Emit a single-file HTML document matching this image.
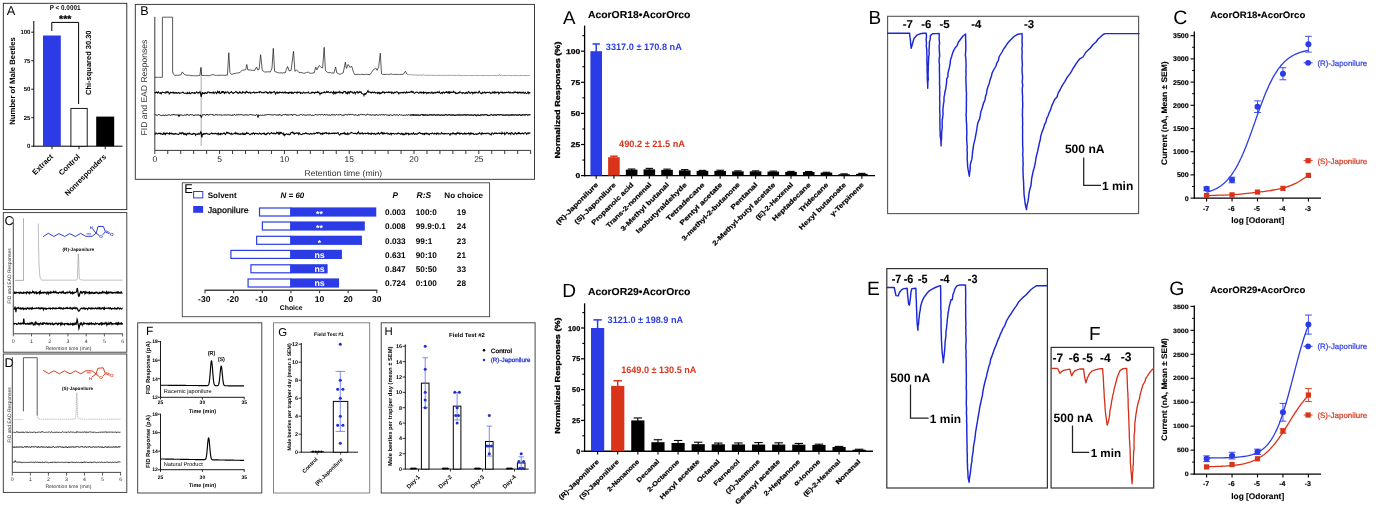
<!DOCTYPE html>
<html><head><meta charset="utf-8"><title>Figure</title>
<style>
html,body{margin:0;padding:0;background:#fff;}
body{width:1376px;height:508px;overflow:hidden;font-family:"Liberation Sans", sans-serif;}
svg{display:block;font-family:"Liberation Sans", sans-serif;will-change:transform;filter:blur(0.4px);text-rendering:geometricPrecision;}
</style></head><body>
<svg width="1376" height="508" viewBox="0 0 1376 508">
<rect width="1376" height="508" fill="#fff"/>
<rect x="3.3" y="3.3" width="123.5" height="206.3" fill="none" stroke="#222" stroke-width="0.9" />
<text x="6.8" y="15.2" font-size="12.8" >A</text>
<text x="65.1" y="10.3" font-size="7" font-weight="bold" text-anchor="middle" textLength="30.7" lengthAdjust="spacingAndGlyphs" >P &lt; 0.0001</text>
<text x="65.2" y="22.2" font-size="9.6" font-weight="bold" text-anchor="middle" textLength="12.2" lengthAdjust="spacingAndGlyphs" stroke="#000" stroke-width="0.3" >***</text>
<path d="M51.8 31 V22.4 H78.6 V104" fill="none" stroke="#000" stroke-width="1" />
<text font-size="7.49" font-weight="bold" text-anchor="middle" textLength="64.5" lengthAdjust="spacingAndGlyphs" transform="translate(90.6 62.7) rotate(-90)" >Chi-squared 30.30</text>
<line x1="33.8" y1="21" x2="33.8" y2="146.7" stroke="#000" stroke-width="1" />
<line x1="33.3" y1="146.2" x2="122.5" y2="146.2" stroke="#000" stroke-width="1" />
<line x1="31.2" y1="146.2" x2="33.8" y2="146.2" stroke="#000" stroke-width="0.9" />
<text x="30.4" y="148.35" font-size="6" font-weight="bold" text-anchor="end" >0</text>
<line x1="31.2" y1="117.7" x2="33.8" y2="117.7" stroke="#000" stroke-width="0.9" />
<text x="30.4" y="119.85" font-size="6" font-weight="bold" text-anchor="end" >25</text>
<line x1="31.2" y1="89.2" x2="33.8" y2="89.2" stroke="#000" stroke-width="0.9" />
<text x="30.4" y="91.35" font-size="6" font-weight="bold" text-anchor="end" >50</text>
<line x1="31.2" y1="60.7" x2="33.8" y2="60.7" stroke="#000" stroke-width="0.9" />
<text x="30.4" y="62.85" font-size="6" font-weight="bold" text-anchor="end" >75</text>
<line x1="31.2" y1="32.2" x2="33.8" y2="32.2" stroke="#000" stroke-width="0.9" />
<text x="30.4" y="34.35" font-size="6" font-weight="bold" text-anchor="end" >100</text>
<rect x="43" y="35.5" width="17.8" height="110.7" fill="#2b3ce6" stroke="none" stroke-width="1" />
<rect x="70.9" y="108.4" width="16.3" height="37.8" fill="#fff" stroke="#000" stroke-width="0.9" />
<rect x="96.2" y="116.6" width="18" height="29.6" fill="#000" stroke="none" stroke-width="1" />
<line x1="52" y1="146.2" x2="52" y2="149.2" stroke="#000" stroke-width="0.9" />
<line x1="79" y1="146.2" x2="79" y2="149.2" stroke="#000" stroke-width="0.9" />
<line x1="105.2" y1="146.2" x2="105.2" y2="149.2" stroke="#000" stroke-width="0.9" />
<text font-size="7.52" font-weight="bold" text-anchor="end" textLength="25.5" lengthAdjust="spacingAndGlyphs" transform="translate(53.4 157.2) rotate(-45)" >Extract</text>
<text font-size="7.43" font-weight="bold" text-anchor="end" textLength="26.4" lengthAdjust="spacingAndGlyphs" transform="translate(80.4 157.2) rotate(-45)" >Control</text>
<text font-size="7.46" font-weight="bold" text-anchor="end" textLength="55.1" lengthAdjust="spacingAndGlyphs" transform="translate(106.6 157.2) rotate(-45)" >Nonresponders</text>
<text font-size="7.72" font-weight="bold" text-anchor="middle" textLength="87.5" lengthAdjust="spacingAndGlyphs" transform="translate(15.2 81) rotate(-90)" >Number of Male Beetles</text>
<rect x="135.3" y="4.4" width="399.2" height="174.9" fill="none" stroke="#333" stroke-width="0.95" />
<text x="140.2" y="15.4" font-size="12.6" >B</text>
<line x1="154.8" y1="16.8" x2="154.8" y2="150.4" stroke="#222" stroke-width="0.9" />
<line x1="154.8" y1="150.4" x2="530.6" y2="150.4" stroke="#222" stroke-width="0.9" />
<line x1="154.8" y1="150.4" x2="154.8" y2="154" stroke="#222" stroke-width="0.9" />
<line x1="167.76" y1="150.4" x2="167.76" y2="154" stroke="#222" stroke-width="0.9" />
<line x1="180.72" y1="150.4" x2="180.72" y2="154" stroke="#222" stroke-width="0.9" />
<line x1="193.68" y1="150.4" x2="193.68" y2="154" stroke="#222" stroke-width="0.9" />
<line x1="206.64" y1="150.4" x2="206.64" y2="154" stroke="#222" stroke-width="0.9" />
<line x1="219.6" y1="150.4" x2="219.6" y2="154" stroke="#222" stroke-width="0.9" />
<line x1="232.56" y1="150.4" x2="232.56" y2="154" stroke="#222" stroke-width="0.9" />
<line x1="245.52" y1="150.4" x2="245.52" y2="154" stroke="#222" stroke-width="0.9" />
<line x1="258.48" y1="150.4" x2="258.48" y2="154" stroke="#222" stroke-width="0.9" />
<line x1="271.44" y1="150.4" x2="271.44" y2="154" stroke="#222" stroke-width="0.9" />
<line x1="284.4" y1="150.4" x2="284.4" y2="154" stroke="#222" stroke-width="0.9" />
<line x1="297.36" y1="150.4" x2="297.36" y2="154" stroke="#222" stroke-width="0.9" />
<line x1="310.32" y1="150.4" x2="310.32" y2="154" stroke="#222" stroke-width="0.9" />
<line x1="323.28" y1="150.4" x2="323.28" y2="154" stroke="#222" stroke-width="0.9" />
<line x1="336.24" y1="150.4" x2="336.24" y2="154" stroke="#222" stroke-width="0.9" />
<line x1="349.2" y1="150.4" x2="349.2" y2="154" stroke="#222" stroke-width="0.9" />
<line x1="362.16" y1="150.4" x2="362.16" y2="154" stroke="#222" stroke-width="0.9" />
<line x1="375.12" y1="150.4" x2="375.12" y2="154" stroke="#222" stroke-width="0.9" />
<line x1="388.08" y1="150.4" x2="388.08" y2="154" stroke="#222" stroke-width="0.9" />
<line x1="401.04" y1="150.4" x2="401.04" y2="154" stroke="#222" stroke-width="0.9" />
<line x1="414" y1="150.4" x2="414" y2="154" stroke="#222" stroke-width="0.9" />
<line x1="426.96" y1="150.4" x2="426.96" y2="154" stroke="#222" stroke-width="0.9" />
<line x1="439.92" y1="150.4" x2="439.92" y2="154" stroke="#222" stroke-width="0.9" />
<line x1="452.88" y1="150.4" x2="452.88" y2="154" stroke="#222" stroke-width="0.9" />
<line x1="465.84" y1="150.4" x2="465.84" y2="154" stroke="#222" stroke-width="0.9" />
<line x1="478.8" y1="150.4" x2="478.8" y2="154" stroke="#222" stroke-width="0.9" />
<line x1="491.76" y1="150.4" x2="491.76" y2="154" stroke="#222" stroke-width="0.9" />
<line x1="504.72" y1="150.4" x2="504.72" y2="154" stroke="#222" stroke-width="0.9" />
<line x1="517.68" y1="150.4" x2="517.68" y2="154" stroke="#222" stroke-width="0.9" />
<line x1="530.64" y1="150.4" x2="530.64" y2="154" stroke="#222" stroke-width="0.9" />
<text x="154.8" y="162" font-size="8.4" text-anchor="middle" fill="#222" >0</text>
<text x="219.6" y="162" font-size="8.4" text-anchor="middle" fill="#222" >5</text>
<text x="284.4" y="162" font-size="8.4" text-anchor="middle" fill="#222" >10</text>
<text x="349.2" y="162" font-size="8.4" text-anchor="middle" fill="#222" >15</text>
<text x="414" y="162" font-size="8.4" text-anchor="middle" fill="#222" >20</text>
<text x="478.8" y="162" font-size="8.4" text-anchor="middle" fill="#222" >25</text>
<text x="343.3" y="176.3" font-size="8.4" text-anchor="middle" fill="#333" textLength="77.8" lengthAdjust="spacingAndGlyphs" >Retention time  (min)</text>
<text font-size="8.5" text-anchor="middle" fill="#333" textLength="95.7" lengthAdjust="spacingAndGlyphs" transform="translate(146.8 87.6) rotate(-90)" >FID and EAD Responses</text>
<line x1="201.2" y1="67" x2="201.2" y2="146" stroke="#aaa" stroke-width="1" />
<polyline points="154.8,77.3 156.07,77.3 157.33,77.3 158.6,77.3 159.87,77.3 161.13,77.3 162.4,77.3 162.4,17.2 163.68,17.2 164.95,17.2 166.22,17.2 167.5,17.2 168.78,17.2 170.05,17.2 171.32,17.2 172.6,17.2 172.6,71 173.2,74 174.9,75.4 176.38,75.31 177.85,75.35 179.33,74.99 180.8,75 182.3,71.9 183.8,74 185.7,75 186.97,75.23 188.24,75.2 189.51,75.31 190.79,75.69 192.06,75.59 193.33,75.68 194.6,75.8 195.93,75.79 197.25,75.74 198.57,75.5 199.9,75.4 200.9,67.5 201.7,75.4 202.98,75.54 204.27,75.42 205.55,75.56 206.83,75.61 208.12,75.57 209.4,75.8 210.7,75.22 212,74.8 213.3,74.6 215.3,75.4 216.51,75.35 217.72,75.34 218.93,75.3 220.14,75.33 221.35,75.14 222.56,75.27 223.77,75.29 224.98,75.33 226.19,75.12 227.4,75.2 228.8,52.7 229.9,72.4 231.5,74.4 232.73,74.1 233.97,73.66 235.2,73.59 236.43,73.14 237.67,72.98 238.9,72.9 240.2,72.13 241.5,70.84 242.8,70.2 244.3,70 245.8,69.6 246.8,64.5 247.8,69.9 249.16,70.04 250.52,70.06 251.88,70.26 253.24,70.36 254.6,70.4 256.6,67 257.6,69.9 259.1,69.4 260.6,54.7 262.3,70.4 264.5,71.9 265.98,72.03 267.45,71.87 268.92,71.83 270.4,71.9 272,68 273.3,48.3 274.6,71.4 275.83,71.83 277.07,72.28 278.3,72.9 279.68,72.89 281.06,72.81 282.44,73.03 283.82,72.68 285.2,72.9 286.4,69.57 287.6,66.5 289.1,70.9 291.1,70.4 293.5,51.2 294.9,71.4 296.5,69.9 298.9,72.4 300.38,72.49 301.85,72.55 303.32,73.23 304.8,73.2 306.55,72.41 308.3,72.2 310.3,73.4 311.6,73.2 312.9,73 314.2,72.9 315.7,67 316.9,69.9 319.1,65.5 320.8,67 322.6,68 324.2,47.3 325.4,70.4 327.5,72.4 328.78,72.76 330.06,72.48 331.34,73.01 332.62,72.95 333.9,73.2 335.6,67 336.8,72.9 338.3,73.63 339.8,74.4 341.5,73.57 343.2,72.9 345.4,62.1 346.4,68.5 348.1,64.5 350.1,67.5 351.6,66 353.6,72.4 354.5,74.4 355.72,74.48 356.93,74.26 358.15,74.39 359.36,74.44 360.58,74.62 361.79,74.11 363.01,74.58 364.22,74.51 365.44,74.34 366.65,74.44 367.87,74.34 369.08,74.6 370.3,74.4 371.55,72.43 372.8,70.4 374.25,69.17 375.7,68 377.2,70.4 378.7,66.5 380.3,53.2 381.5,73.9 382.6,74.4 383.82,74.37 385.04,74.38 386.25,74.38 387.47,74.29 388.69,74.65 389.91,74.17 391.12,73.97 392.34,74.39 393.56,74.38 394.78,74.44 395.99,74.38 397.21,74.38 398.43,74.44 399.65,74.52 400.86,74.35 402.08,74.36 403.3,74.4 405.4,71.2 407.2,74.4" fill="none" stroke="#222" stroke-width="0.75" stroke-linejoin="round"/>
<polyline points="407.2,74.4 408.4,74.72 409.6,74.64 410.8,74.55 412,75.03 413.2,74.94 414.4,74.86 415.6,74.88 416.8,75.15 418,75.2 419.5,75.1 421,75.07 422.5,75.2 423.3,74.5 424.2,75.3 425.43,75.15 426.67,75.25 427.9,75.45 429.14,75.28 430.37,75.16 431.61,75.42 432.84,75.36 434.08,75.46 435.31,75.51 436.54,75.35 437.78,75.36 439.01,75.38 440.25,75.25 441.48,75.48 442.72,75.57 443.95,75.43 445.19,75.39 446.42,75.39 447.66,75.34 448.89,75.34 450.12,75.4 451.36,75.35 452.59,75.41 453.83,75.28 455.06,75.51 456.3,75.49 457.53,75.35 458.77,75.22 460,75.5 461.21,75.5 462.43,75.63 463.64,75.41 464.85,75.44 466.06,75.43 467.27,75.58 468.49,75.39 469.7,75.62 470.91,75.46 472.12,75.61 473.34,75.5 474.55,75.47 475.76,75.32 476.98,75.42 478.19,75.47 479.4,75.58 480.61,75.53 481.82,75.42 483.04,75.55 484.25,75.62 485.46,75.48 486.68,75.45 487.89,75.45 489.1,75.6 490.31,75.56 491.53,75.39 492.74,75.54 493.95,75.44 495.16,75.41 496.38,75.65 497.59,75.6 498.8,75.5 499.4,74.4 500,75.5 501.24,75.42 502.48,75.52 503.73,75.57 504.97,75.44 506.21,75.51 507.45,75.61 508.69,75.31 509.93,75.57 511.17,75.63 512.42,75.6 513.66,75.38 514.9,75.59 516.14,75.45 517.38,75.63 518.62,75.64 519.87,75.59 521.11,75.48 522.35,75.5 523.59,75.68 524.83,75.48 526.07,75.65 527.32,75.65 528.56,75.56 529.8,75.6" fill="none" stroke="#777" stroke-width="0.7" stroke-linejoin="round"/>
<polyline points="154.8,92.09 155.2,92.5 155.6,92.97 156,92.57 156.4,92.03 156.8,92.29 157.2,92.64 157.6,93.08 158,92.33 158.4,91.92 158.8,92.56 159.2,92.78 159.6,93.33 160,93.38 160.4,92.95 160.8,92.66 161.2,93.71 161.6,93.03 162,92.49 162.4,92.07 162.8,92.37 163.2,92.55 163.6,92.43 164,92.49 164.4,92.66 164.8,92.92 165.2,93.22 165.6,93 166,92.05 166.4,92.62 166.8,92.01 167.2,92.23 167.6,91.8 168,92.2 168.4,92.07 168.8,92.43 169.2,93.9 169.6,93.23 170,93.27 170.4,92.38 170.8,92.37 171.2,92.76 171.6,92.64 172,92.78 172.4,92.73 172.8,92.24 173.2,92.66 173.6,92.29 174,93.23 174.4,92.7 174.8,92.94 175.2,92.77 175.6,93.09 176,92.59 176.4,93.01 176.8,92.76 177.2,93.21 177.6,93.17 178,92.94 178.4,92.44 178.8,92.84 179.2,92.92 179.6,93.45 180,92.87 180.4,92.97 180.8,93 181.2,92.92 181.6,92.85 182,92.8 182.4,92.45 182.8,92.1 183.2,92.18 183.6,92.64 184,93.25 184.4,93.34 184.8,93.41 185.2,93.33 185.6,93.26 186,93.01 186.4,93.13 186.8,93.61 187.2,92.97 187.6,92.49 188,93.37 188.4,93.09 188.8,93.25 189.2,93.29 189.6,92.47 190,93.56 190.4,93.82 190.8,93.29 191.2,93.26 191.6,92.98 192,92.42 192.4,92.46 192.8,92.69 193.2,93.11 193.6,93.15 194,92.9 194.4,93.32 194.8,92.64 195.2,92.95 195.6,93.24 196,92.8 196.4,91.95 196.8,91.89 197.2,92.35 197.6,92.69 198,93.3 198.4,92.53 198.8,92.56 199.2,92.85 199.6,92.66 200,91.64 200.4,92.6 200.8,94.82 201.2,96.93 201.6,95.16 202,92.96 202.4,92.65 202.8,93.66 203.2,93.39 203.6,93.04 204,93.47 204.4,93 204.8,93.58 205.2,92.8 205.6,92.5 206,92.85 206.4,93.33 206.8,93.24 207.2,93.05 207.6,92.06 208,92.03 208.4,92.06 208.8,92.1 209.2,92.6 209.6,92.46 210,92.86 210.4,92.76 210.8,92.54 211.2,92.62 211.6,92.79 212,93.06 212.4,92.63 212.8,92.52 213.2,91.99 213.6,92.97 214,93.39 214.4,92.92 214.8,92.56 215.2,92.06 215.6,92.4 216,92.59 216.4,93.51 216.8,93.16 217.2,92.55 217.6,91.55 218,92.67 218.4,92.71 218.8,91.98 219.2,92.37 219.6,91.81 220,93.67 220.4,93.6 220.8,93.34 221.2,92.9 221.6,91.85 222,92.17 222.4,91.73 222.8,92.42 223.2,91.61 223.6,91.72 224,92.67 224.4,93.33 224.8,92.47 225.2,91.89 225.6,92.61 226,92.97 226.4,92.37 226.8,92.19 227.2,92.1 227.6,91.85 228,91.94 228.4,92.8 228.8,92.99 229.2,93.66 229.6,93.09 230,92.79 230.4,92.28 230.8,92.39 231.2,91.94 231.6,91.53 232,92.36 232.4,93.08 232.8,93.19 233.2,93.46 233.6,93.13 234,92.57 234.4,92.62 234.8,92.45 235.2,92.06 235.6,91.62 236,91.49 236.4,92.04 236.8,92.38 237.2,92.29 237.6,93.05 238,92.9 238.4,92.99 238.8,93.31 239.2,92.61 239.6,91.78 240,92.5 240.4,92.26 240.8,92.98 241.2,92.93 241.6,93.19 242,93.22 242.4,92.03 242.8,92.62 243.2,92.33 243.6,92.15 244,92.19 244.4,92.72 244.8,93.03 245.2,93.24 245.6,92.22 246,92.16 246.4,91.38 246.8,91.95 247.2,92.53 247.6,92.24 248,92.52 248.4,92.66 248.8,93.05 249.2,92.48 249.6,92.19 250,92.08 250.4,93.07 250.8,93.3 251.2,92.9 251.6,92.84 252,92.77 252.4,92.77 252.8,92.6 253.2,92.46 253.6,92 254,92.03 254.4,93.01 254.8,93.03 255.2,92.84 255.6,92.63 256,92.64 256.4,92.77 256.8,92.41 257.2,92.59 257.6,92.7 258,92.33 258.4,92.14 258.8,91.95 259.2,91.83 259.6,92.59 260,91.6 260.4,91.99 260.8,92.04 261.2,92.06 261.6,92.37 262,92.96 262.4,92.81 262.8,92.65 263.2,92.37 263.6,92.43 264,92.9 264.4,92.58 264.8,92.11 265.2,91.82 265.6,91.75 266,91.59 266.4,92.56 266.8,92.73 267.2,92.56 267.6,93.2 268,92.62 268.4,92.93 268.8,93.1 269.2,92.2 269.6,91.75 270,91.78 270.4,92.57 270.8,93.13 271.2,92.35 271.6,92.92 272,92.6 272.4,92.43 272.8,92.29 273.2,92.31 273.6,91.69 274,91.72 274.4,91.64 274.8,92.33 275.2,93.34 275.6,94.12 276,93.22 276.4,92.19 276.8,92.22 277.2,92.02 277.6,93.14 278,93.11 278.4,92.55 278.8,92.97 279.2,93.01 279.6,92.12 280,92.14 280.4,92.27 280.8,92.44 281.2,92.58 281.6,92.45 282,92.6 282.4,92.36 282.8,92.1 283.2,92.99 283.6,92.94 284,92.96 284.4,92.11 284.8,92.28 285.2,92.79 285.6,92.15 286,92.84 286.4,92.55 286.8,92.75 287.2,92.62 287.6,92.7 288,93.16 288.4,92.71 288.8,93.31 289.2,92.63 289.6,92.22 290,92.71 290.4,92.21 290.8,92.25 291.2,92.8 291.6,93.21 292,92.16 292.4,92.59 292.8,93.39 293.2,93.5 293.6,92.95 294,92.52 294.4,92.44 294.8,92.03 295.2,92.21 295.6,92.32 296,92.4 296.4,93 296.8,92.7 297.2,92.04 297.6,92.76 298,92.23 298.4,92.23 298.8,92.36 299.2,92.33 299.6,92.05 300,92.22 300.4,93.33 300.8,92.71 301.2,92.6 301.6,93.07 302,93.15 302.4,93.19 302.8,93.26 303.2,92.1 303.6,91.99 304,92.35 304.4,92.68 304.8,93.19 305.2,93.09 305.6,92.74 306,92.69 306.4,92.56 306.8,92.68 307.2,92.92 307.6,92.62 308,92.27 308.4,92.07 308.8,92.8 309.2,93.24 309.6,93.34 310,93.33 310.4,93.31 310.8,92.96 311.2,93.06 311.6,92.39 312,92.41 312.4,92.2 312.8,92.7 313.2,92.41 313.6,92.46 314,92.7 314.4,93.22 314.8,92.58 315.2,92.19 315.6,92.74 316,92.21 316.4,92.59 316.8,92.36 317.2,92.43 317.6,91.75 318,92.48 318.4,92.33 318.8,92.09 319.2,93.22 319.6,93.21 320,94.38 320.4,93.66 320.8,92.98 321.2,92.84 321.6,93.39 322,92.99 322.4,92.98 322.8,93.01 323.2,92.42 323.6,92.57 324,92.37 324.4,91.96 324.8,92.65 325.2,92.9 325.6,92.78 326,92.31 326.4,91.61 326.8,92.31 327.2,92.41 327.6,91.8 328,92.17 328.4,91.75 328.8,92.16 329.2,92.44 329.6,92.67 330,92.73 330.4,92.78 330.8,92.07 331.2,92.12 331.6,92.08 332,92.21 332.4,92.55 332.8,92.91 333.2,93.65 333.6,91.72 334,92.38 334.4,92.38 334.8,93.73 335.2,93.68 335.6,92.24 336,92.64 336.4,92.33 336.8,93.01 337.2,92.23 337.6,92.36 338,92.41 338.4,92.45 338.8,92.21 339.2,91.4 339.6,92.25 340,92.97 340.4,92.75 340.8,92.12 341.2,92.47 341.6,92.84 342,92.63 342.4,92.61 342.8,93.37 343.2,92.38 343.6,92.18 344,91.35 344.4,91.59 344.8,91.69 345.2,91.62 345.6,91.73 346,93.15 346.4,92.77 346.8,92.62 347.2,93.81 347.6,93.17 348,91.94 348.4,92.49 348.8,92.03 349.2,93.21 349.6,92.23 350,92.1 350.4,91.47 350.8,92.09 351.2,91.79 351.6,92.16 352,92.17 352.4,92.05 352.8,92.84 353.2,93.23 353.6,92.95 354,92.28 354.4,91.86 354.8,92.38 355.2,93.79 355.6,92.95 356,92.35 356.4,92.09 356.8,91.75 357.2,91.64 357.6,92.01 358,93.09 358.4,92.84 358.8,92.44 359.2,91.64 359.6,92.25 360,92.43 360.4,91.89 360.8,91.75 361.2,92.31 361.6,93.28 362,93.68 362.4,93.8 362.8,93.72 363.2,94.14 363.6,94.22 364,95.42 364.4,94.13 364.8,93.74 365.2,94.27 365.6,93.52 366,93.89 366.4,93.12 366.8,92.69 367.2,92.04 367.6,91.02 368,90.62 368.4,92.08 368.8,91.95 369.2,91.91 369.6,92.19 370,92.25 370.4,92.67 370.8,92.3 371.2,92.22 371.6,92.9 372,92.54 372.4,92 372.8,92.2 373.2,92.18 373.6,92.65 374,92.32 374.4,92.02 374.8,92.17 375.2,93.04 375.6,92.8 376,92.77 376.4,92.69 376.8,92.77 377.2,93.07 377.6,93.42 378,92.32 378.4,93.03 378.8,92.81 379.2,92.57 379.6,93.59 380,93.03 380.4,93.63 380.8,93.52 381.2,92.63 381.6,92.82 382,93.02 382.4,92.76 382.8,91.7 383.2,92.01 383.6,92.22 384,91.95 384.4,93.04 384.8,92.72 385.2,92.49 385.6,92.42 386,92.18 386.4,92.06 386.8,92.37 387.2,92.62 387.6,92.4 388,92.46 388.4,91.95 388.8,92.49 389.2,92.23 389.6,92.51 390,92.17 390.4,92.17 390.8,92.48 391.2,92.03 391.6,93.35 392,92.96 392.4,92.75 392.8,92.37 393.2,93.15 393.6,93.46 394,93.16 394.4,92.3 394.8,92.24 395.2,92.68 395.6,92.42 396,92.01 396.4,91.81 396.8,91.88 397.2,92.25 397.6,92.15 398,92.38 398.4,93.66 398.8,93.88 399.2,92.8 399.6,92.85 400,92.76 400.4,92.62 400.8,93.05 401.2,92.68 401.6,92.51 402,92.4 402.4,92.46 402.8,93.07 403.2,93.16 403.6,92.32 404,92.27 404.4,92.1 404.8,92.69 405.2,92.74 405.6,93.04 406,92.8 406.4,91.9 406.8,92.44 407.2,92.61 407.6,92.82 408,92.16 408.4,92.42 408.8,92.22 409.2,92.12 409.6,92.51 410,92.7 410.4,92.28 410.8,91.72 411.2,91.12 411.6,91.62 412,92.58 412.4,92.57 412.8,91.64 413.2,91.76 413.6,92.36 414,93.18 414.4,93.38 414.8,93.14 415.2,92.95 415.6,92.33 416,92.28 416.4,92.3 416.8,92.12 417.2,92.39 417.6,92.33 418,92.61 418.4,93.21 418.8,93.21 419.2,93.08 419.6,92.74 420,92.03 420.4,92.27 420.8,92.66 421.2,92.21 421.6,92.93 422,92.63 422.4,92.77 422.8,92.55 423.2,92.05 423.6,93.19 424,92.41 424.4,92.89 424.8,92.51 425.2,92.67 425.6,92.3 426,92.27 426.4,92.82 426.8,93.53 427.2,92.71 427.6,92.66 428,93.03 428.4,92.55 428.8,92.87 429.2,92.41 429.6,92.76 430,92.86 430.4,93.24 430.8,93.07 431.2,92.34 431.6,92.75 432,92.21 432.4,92.72 432.8,93.29 433.2,93.2 433.6,92.67 434,93.13 434.4,92.94 434.8,92.25 435.2,92.27 435.6,93.03 436,92.69 436.4,92.7 436.8,92.5 437.2,91.84 437.6,92.01 438,92.45 438.4,92.61 438.8,92.53 439.2,91.67 439.6,92.65 440,92.93 440.4,93.19 440.8,93.44 441.2,92.83 441.6,92.46 442,92.66 442.4,93.33 442.8,92.26 443.2,92.33 443.6,92.17 444,92.62 444.4,93.22 444.8,92.79 445.2,92.17 445.6,92.41 446,92.38 446.4,91.84 446.8,92.59 447.2,92.38 447.6,92.78 448,92.14 448.4,92.83 448.8,92.11 449.2,92.8 449.6,91.94 450,92.85 450.4,92.57 450.8,91.93 451.2,92.17 451.6,92.52 452,92.15 452.4,92.17 452.8,92.5 453.2,92.48 453.6,91.25 454,91.75 454.4,92.35 454.8,92.6 455.2,93.02 455.6,92.52 456,93.63 456.4,93.45 456.8,93.16 457.2,93.33 457.6,93.37 458,93.03 458.4,92.55 458.8,93.01 459.2,92.98 459.6,92 460,91.83 460.4,92.41 460.8,92.55 461.2,92.69 461.6,92.92 462,92.82 462.4,93.37 462.8,92.74 463.2,92.5 463.6,92.69 464,92.96 464.4,93.11 464.8,93.48 465.2,92.84 465.6,93.21 466,93.1 466.4,92.41 466.8,92.45 467.2,93.4 467.6,93.33 468,92.77 468.4,91.68 468.8,91.83 469.2,91.92 469.6,92.29 470,93.42 470.4,93.32 470.8,93.09 471.2,92.45 471.6,92.03 472,92.23 472.4,92.22 472.8,93.67 473.2,92.97 473.6,92.52 474,93.04 474.4,92.85 474.8,92.21 475.2,92.94 475.6,92.64 476,92.06 476.4,92.47 476.8,92.74 477.2,92.53 477.6,92.86 478,93.07 478.4,92.47 478.8,91.67 479.2,91.13 479.6,91.81 480,92.72 480.4,93.08 480.8,93.43 481.2,93.79 481.6,93.2 482,93.34 482.4,92.33 482.8,92.75 483.2,92.84 483.6,92.68 484,92.46 484.4,92.06 484.8,92.39 485.2,93.03 485.6,92.66 486,92.85 486.4,92.45 486.8,92.63 487.2,92.19 487.6,92.56 488,92.49 488.4,92.68 488.8,92.38 489.2,92 489.6,92.16 490,92.82 490.4,93.37 490.8,92.85 491.2,93.06 491.6,93.15 492,93.04 492.4,92.17 492.8,92.52 493.2,92.15 493.6,92.87 494,93.07 494.4,93.09 494.8,91.78 495.2,92.45 495.6,92.82 496,92.17 496.4,92.79 496.8,92.73 497.2,92.59 497.6,92.29 498,92.02 498.4,92.13 498.8,93.66 499.2,93.22 499.6,93 500,92.53 500.4,92.3 500.8,92.22 501.2,92.04 501.6,92.69 502,92.53 502.4,92.93 502.8,92.28 503.2,92.83 503.6,92.7 504,92.93 504.4,92.72 504.8,92.29 505.2,92.95 505.6,92.59 506,92.53 506.4,92.2 506.8,92.48 507.2,92.38 507.6,92.61 508,92.75 508.4,92.38 508.8,91.9 509.2,92.43 509.6,92.9 510,93.04 510.4,92.34 510.8,92.72 511.2,92.82 511.6,92.83 512,92.9 512.4,92.61 512.8,92.7 513.2,93.04 513.6,92.61 514,92 514.4,92.26 514.8,92.51 515.2,91.78 515.6,91.91 516,92.5 516.4,92.49 516.8,92.58 517.2,92.06 517.6,92.71 518,93.39 518.4,92.91 518.8,92.45 519.2,92.04 519.6,92.69 520,92.69 520.4,92.31 520.8,92.97 521.2,93.1 521.6,93.11 522,92.11 522.4,92.31 522.8,92.72 523.2,92.15 523.6,92.76 524,93.28 524.4,93.38 524.8,92.68 525.2,92.35 525.6,92.87 526,93.15 526.4,93.39 526.8,93.5 527.2,93.01 527.6,92.63 528,91.84 528.4,92.55 528.8,93.53 529.2,92.87 529.6,92.54 530,92.84 530.4,92.88" fill="none" stroke="#000" stroke-width="1.05" />
<polyline points="154.8,114.51 155.2,114.77 155.6,114.76 156,114.7 156.4,115.06 156.8,115 157.2,114.88 157.6,115.37 158,115 158.4,114.61 158.8,114.38 159.2,114.5 159.6,114.88 160,115.12 160.4,115.32 160.8,115.61 161.2,115.72 161.6,115.49 162,115.56 162.4,115.42 162.8,115.02 163.2,115.19 163.6,115.08 164,114.94 164.4,115.48 164.8,115.41 165.2,115.04 165.6,114.96 166,115.58 166.4,115.19 166.8,115.26 167.2,115.26 167.6,115.24 168,115.24 168.4,114.96 168.8,114.82 169.2,114.83 169.6,114.78 170,115.08 170.4,115.43 170.8,114.93 171.2,115.08 171.6,114.74 172,114.64 172.4,114.72 172.8,114.86 173.2,114.77 173.6,114.14 174,114.91 174.4,114.85 174.8,114.71 175.2,115.01 175.6,114.81 176,114.48 176.4,114.84 176.8,115 177.2,114.74 177.6,115.06 178,115.1 178.4,114.71 178.8,116.61 179.2,116.5 179.6,114.76 180,114.96 180.4,114.98 180.8,115.22 181.2,114.71 181.6,115.1 182,115.27 182.4,115.29 182.8,115.28 183.2,115.46 183.6,115.39 184,115.2 184.4,114.83 184.8,115.19 185.2,115.33 185.6,115.21 186,115.11 186.4,115.22 186.8,114.38 187.2,114.74 187.6,114.15 188,114.61 188.4,115.06 188.8,115.51 189.2,115.09 189.6,115.13 190,115.01 190.4,114.36 190.8,114.84 191.2,114.88 191.6,114.92 192,114.67 192.4,114.78 192.8,114.88 193.2,115.25 193.6,115.17 194,116 194.4,115.35 194.8,115.07 195.2,114.98 195.6,114.73 196,115.24 196.4,115.26 196.8,114.75 197.2,114.86 197.6,115.21 198,114.68 198.4,114.84 198.8,114.82 199.2,115.51 199.6,115.33 200,115.02 200.4,114.92 200.8,116.35 201.2,117.53 201.6,117.42 202,115.2 202.4,114.85 202.8,114.81 203.2,114.68 203.6,114.74 204,115.02 204.4,114.79 204.8,114.47 205.2,115.06 205.6,115.4 206,114.97 206.4,115.03 206.8,114.27 207.2,114.89 207.6,114.54 208,114.58 208.4,115.35 208.8,114.79 209.2,114.86 209.6,114.6 210,114.26 210.4,114.27 210.8,114.67 211.2,114.44 211.6,114.52 212,114.92 212.4,114.88 212.8,114.54 213.2,115.14 213.6,115.07 214,115.38 214.4,114.87 214.8,115.36 215.2,114.77 215.6,114.37 216,114.53 216.4,114.63 216.8,114.85 217.2,114.73 217.6,115 218,115.33 218.4,114.95 218.8,114.56 219.2,114.63 219.6,115 220,115.19 220.4,114.96 220.8,114.67 221.2,114.79 221.6,115.12 222,114.83 222.4,115.23 222.8,115.14 223.2,115.11 223.6,114.85 224,115.26 224.4,115.1 224.8,114.61 225.2,114.99 225.6,114.84 226,115.18 226.4,115.1 226.8,114.84 227.2,114.93 227.6,114.79 228,114.63 228.4,114.78 228.8,115.08 229.2,115.02 229.6,114.95 230,114.79 230.4,115.01 230.8,115.04 231.2,115.24 231.6,115.18 232,115.64 232.4,114.85 232.8,114.87 233.2,115.04 233.6,115.23 234,114.66 234.4,114.46 234.8,114.68 235.2,115.09 235.6,115.31 236,114.7 236.4,114.85 236.8,115.21 237.2,115.07 237.6,114.72 238,114.62 238.4,114.41 238.8,114.99 239.2,114.89 239.6,114.79 240,114.62 240.4,114.73 240.8,114.58 241.2,114.48 241.6,114.69 242,114.74 242.4,114.96 242.8,114.98 243.2,115.28 243.6,115.09 244,115.08 244.4,115.06 244.8,114.77 245.2,115.17 245.6,114.89 246,114.48 246.4,115.04 246.8,115.16 247.2,114.89 247.6,115.17 248,115.31 248.4,115.31 248.8,114.79 249.2,114.91 249.6,114.63 250,114.61 250.4,114.61 250.8,114.54 251.2,114.86 251.6,114.68 252,114.97 252.4,114.99 252.8,114.79 253.2,114.9 253.6,115.1 254,115.32 254.4,115.05 254.8,115.46 255.2,115.35 255.6,115.47 256,114.83 256.4,114.59 256.8,115.08 257.2,114.94 257.6,115.23 258,117.52 258.4,114.9 258.8,114.95 259.2,115.46 259.6,115.41 260,115.19 260.4,115.21 260.8,115.07 261.2,115.21 261.6,115.42 262,115.11 262.4,115.17 262.8,115.13 263.2,115.23 263.6,115.3 264,114.82 264.4,115.19 264.8,115.29 265.2,114.81 265.6,114.79 266,114.46 266.4,114.61 266.8,114.86 267.2,114.57 267.6,114.54 268,114.49 268.4,114.52 268.8,114.51 269.2,114.42 269.6,114.83 270,114.82 270.4,114.65 270.8,115.05 271.2,114.83 271.6,115.12 272,114.68 272.4,115.19 272.8,114.93 273.2,114.67 273.6,114.91 274,114.55 274.4,114.44 274.8,114.75 275.2,114.7 275.6,114.92 276,114.96 276.4,115.01 276.8,115 277.2,115.15 277.6,115.04 278,115.28 278.4,115.36 278.8,114.61 279.2,114.29 279.6,115.03 280,114.85 280.4,114.94 280.8,114.9 281.2,114.98 281.6,115.55 282,115.04 282.4,115 282.8,114.96 283.2,114.65 283.6,114.55 284,114.66 284.4,114.79 284.8,114.96 285.2,114.41 285.6,114.24 286,115.03 286.4,114.93 286.8,115.15 287.2,114.92 287.6,114.73 288,115.4 288.4,114.82 288.8,114.63 289.2,114.96 289.6,114.94 290,114.49 290.4,114.74 290.8,115.03 291.2,114.56 291.6,114.59 292,114.97 292.4,115.46 292.8,114.56 293.2,114.55 293.6,114.74 294,114.58 294.4,114.51 294.8,114.58 295.2,114.89 295.6,114.61 296,115 296.4,115.19 296.8,115.28 297.2,115.52 297.6,115.08 298,114.98 298.4,115.22 298.8,115.41 299.2,115.42 299.6,115.05 300,114.85 300.4,114.53 300.8,114.61 301.2,114.52 301.6,114.59 302,114.65 302.4,115.01 302.8,115.2 303.2,115.04 303.6,114.67 304,114.78 304.4,114.97 304.8,115.18 305.2,115.1 305.6,115.23 306,114.9 306.4,115.08 306.8,115.2 307.2,114.96 307.6,114.74 308,115.16 308.4,114.77 308.8,115.03 309.2,114.9 309.6,114.82 310,114.8 310.4,114.74 310.8,114.82 311.2,115.35 311.6,115.53 312,115.19 312.4,115.18 312.8,115.3 313.2,114.99 313.6,115.45 314,115.2 314.4,115.23 314.8,114.81 315.2,114.56 315.6,114.47 316,114.52 316.4,115 316.8,114.87 317.2,115.14 317.6,114.91 318,114.66 318.4,114.83 318.8,114.77 319.2,114.39 319.6,114.67 320,115.11 320.4,114.96 320.8,114.61 321.2,114.56 321.6,114.41 322,114.6 322.4,114.5 322.8,114.68 323.2,114.85 323.6,115.24 324,114.77 324.4,114.29 324.8,115.04 325.2,115.1 325.6,114.91 326,115.05 326.4,114.73 326.8,114.73 327.2,115.01 327.6,114.88 328,114.94 328.4,115.05 328.8,115.01 329.2,114.9 329.6,115.05 330,115.34 330.4,115.47 330.8,114.96 331.2,115.14 331.6,114.52 332,114.34 332.4,114.74 332.8,114.97 333.2,115.31 333.6,114.65 334,115.08 334.4,114.85 334.8,114.76 335.2,114.96 335.6,115.32 336,114.86 336.4,114.43 336.8,114.51 337.2,114.68 337.6,115.12 338,115.12 338.4,114.94 338.8,114.79 339.2,114.73 339.6,115.09 340,114.55 340.4,114.55 340.8,114.5 341.2,115.01 341.6,115 342,114.78 342.4,115.05 342.8,115.51 343.2,115.49 343.6,114.85 344,114.83 344.4,115.18 344.8,114.56 345.2,114.41 345.6,114.55 346,114.87 346.4,114.67 346.8,114.84 347.2,114.83 347.6,114.96 348,114.61 348.4,114.17 348.8,113.96 349.2,114.48 349.6,114.96 350,115.07 350.4,114.56 350.8,114.27 351.2,114.51 351.6,114.47 352,114.19 352.4,114.4 352.8,114.44 353.2,114.64 353.6,114.88 354,114.95 354.4,114.98 354.8,115.09 355.2,114.97 355.6,114.82 356,114.77 356.4,115.16 356.8,114.96 357.2,115.15 357.6,115.48 358,115.67 358.4,114.71 358.8,114.85 359.2,115.15 359.6,114.91 360,114.72 360.4,114.43 360.8,114.49 361.2,114.7 361.6,114.3 362,114.6 362.4,114.53 362.8,114.72 363.2,114.52 363.6,114.74 364,114.87 364.4,114.7 364.8,114.62 365.2,115.02 365.6,115.14 366,114.81 366.4,114.98 366.8,114.63 367.2,114.63 367.6,113.98 368,114.29 368.4,114.78 368.8,114.71 369.2,114.97 369.6,114.77 370,114.92 370.4,114.87 370.8,114.63 371.2,115.33 371.6,114.89 372,114.54 372.4,114.76 372.8,114.96 373.2,115.03 373.6,114.94 374,115.05 374.4,115.23 374.8,115.24 375.2,114.7 375.6,115.27 376,115.08 376.4,114.44 376.8,114.9 377.2,114.86 377.6,114.96 378,115.47 378.4,115.04 378.8,114.81 379.2,114.59 379.6,114.8 380,115.03 380.4,115.08 380.8,115.04 381.2,114.4 381.6,114.72 382,115.11 382.4,114.87 382.8,114.74 383.2,114.55 383.6,114.8 384,114.43 384.4,115.19 384.8,114.99 385.2,114.79 385.6,114.52 386,114.86 386.4,115.15 386.8,114.87 387.2,114.94 387.6,115 388,115.22 388.4,115.23 388.8,115.4 389.2,114.77 389.6,115.54 390,115.09 390.4,114.7 390.8,114.55 391.2,114.83 391.6,115.08 392,115.65 392.4,115.61 392.8,115.05 393.2,114.89 393.6,114.77 394,114.68 394.4,114.75 394.8,114.66 395.2,115.1 395.6,115.1 396,115.17 396.4,115 396.8,114.64 397.2,114.89 397.6,114.79 398,115.39 398.4,115.48 398.8,114.87 399.2,114.62 399.6,114.62 400,114.71 400.4,115.12 400.8,114.96 401.2,115.06 401.6,114.9 402,114.85 402.4,115.21 402.8,115.06 403.2,115.52 403.6,115.2 404,115.16 404.4,115.14 404.8,115.2 405.2,115.58 405.6,115.06 406,114.84 406.4,114.62 406.8,115.25 407.2,115.21 407.6,115.18 408,115.17 408.4,114.54 408.8,114.93 409.2,114.96 409.6,115.02 410,114.99 410.4,114.92 410.8,114.9 411.2,114.78 411.6,114.8 412,114.99 412.4,114.49 412.8,114.88 413.2,115.03 413.6,114.74 414,114.93 414.4,114.99 414.8,114.84 415.2,115.24 415.6,115.11 416,114.98 416.4,114.66 416.8,115.25 417.2,115.13 417.6,115.09 418,114.95 418.4,115.37 418.8,115.11 419.2,115.35 419.6,115.36 420,115.34 420.4,115.26 420.8,115.34 421.2,115.1 421.6,114.56 422,114.15 422.4,114.77 422.8,114.4 423.2,114.94 423.6,115.59 424,114.84 424.4,115.01 424.8,115.06 425.2,114.83 425.6,114.44 426,114.65 426.4,115.15 426.8,115 427.2,114.95 427.6,114.95 428,114.94 428.4,114.99 428.8,115.44 429.2,114.99 429.6,114.55 430,114.91 430.4,114.8 430.8,114.74 431.2,114.53 431.6,114.68 432,114.7 432.4,114.9 432.8,114.82 433.2,114.55 433.6,114.83 434,114.85 434.4,114.47 434.8,114.62 435.2,114.93 435.6,114.9 436,114.84 436.4,115 436.8,114.82 437.2,114.71 437.6,114.92 438,114.88 438.4,114.76 438.8,114.88 439.2,114.95 439.6,115.13 440,115.24 440.4,115.09 440.8,114.99 441.2,114.75 441.6,114.87 442,114.81 442.4,115.04 442.8,115.15 443.2,115.17 443.6,115.03 444,115.04 444.4,115.3 444.8,115.47 445.2,115.06 445.6,114.38 446,114.78 446.4,114.51 446.8,114.72 447.2,114.91 447.6,115.23 448,115.03 448.4,114.95 448.8,114.8 449.2,114.92 449.6,114.65 450,114.9 450.4,114.98 450.8,115.23 451.2,115.01 451.6,115.03 452,115.01 452.4,114.96 452.8,114.73 453.2,114.7 453.6,114.81 454,114.97 454.4,115.16 454.8,114.91 455.2,114.96 455.6,115.07 456,115.17 456.4,115.1 456.8,115.05 457.2,114.91 457.6,114.91 458,114.87 458.4,114.52 458.8,114.56 459.2,114.22 459.6,114.67 460,114.98 460.4,114.87 460.8,114.93 461.2,114.95 461.6,114.88 462,115.21 462.4,115.02 462.8,115.04 463.2,114.96 463.6,115.37 464,114.79 464.4,114.89 464.8,114.62 465.2,114.61 465.6,114.56 466,114.9 466.4,114.67 466.8,114.58 467.2,114.67 467.6,114.59 468,114.54 468.4,115.06 468.8,114.85 469.2,114.71 469.6,115.11 470,115.03 470.4,115.21 470.8,114.71 471.2,114.75 471.6,114.93 472,114.97 472.4,115.06 472.8,115.25 473.2,115.21 473.6,115.3 474,115.27 474.4,114.93 474.8,114.96 475.2,115.22 475.6,114.86 476,115 476.4,115.09 476.8,115.29 477.2,114.74 477.6,115.34 478,114.79 478.4,114.85 478.8,115.43 479.2,114.88 479.6,115.38 480,115.21 480.4,115.47 480.8,115.5 481.2,115.24 481.6,114.91 482,114.84 482.4,114.6 482.8,114.46 483.2,114.77 483.6,114.53 484,114.8 484.4,114.84 484.8,114.85 485.2,114.66 485.6,114.52 486,114.89 486.4,114.7 486.8,114.68 487.2,114.76 487.6,114.98 488,115.37 488.4,115.57 488.8,115.41 489.2,115.31 489.6,115.25 490,115.04 490.4,114.93 490.8,114.55 491.2,114.85 491.6,114.78 492,114.93 492.4,115.4 492.8,115.34 493.2,115.38 493.6,115.33 494,115 494.4,114.82 494.8,114.55 495.2,114.61 495.6,114.8 496,115 496.4,115.08 496.8,114.92 497.2,114.67 497.6,114.8 498,114.93 498.4,114.49 498.8,114.72 499.2,114.51 499.6,114.61 500,114.73 500.4,114.61 500.8,114.65 501.2,114.78 501.6,114.63 502,114.92 502.4,115.06 502.8,115.1 503.2,114.78 503.6,114.8 504,114.79 504.4,114.87 504.8,115.05 505.2,114.87 505.6,114.9 506,115.08 506.4,114.92 506.8,115.07 507.2,114.99 507.6,114.64 508,114.77 508.4,114.87 508.8,114.8 509.2,115.27 509.6,115.01 510,114.64 510.4,114.74 510.8,114.78 511.2,114.95 511.6,115.48 512,115.22 512.4,115.24 512.8,114.92 513.2,114.71 513.6,114.66 514,114.74 514.4,114.73 514.8,114.82 515.2,114.73 515.6,114.56 516,114.57 516.4,114.91 516.8,114.66 517.2,114.95 517.6,115.28 518,114.9 518.4,115.1 518.8,115.18 519.2,114.48 519.6,114.88 520,115.03 520.4,114.8 520.8,115.24 521.2,114.69 521.6,115.08 522,115.05 522.4,114.76 522.8,114.86 523.2,114.55 523.6,114.86 524,115 524.4,115.22 524.8,115.37 525.2,114.99 525.6,115.06 526,114.85 526.4,114.25 526.8,114.79 527.2,115.1 527.6,115.05 528,115.35 528.4,115.12 528.8,114.64 529.2,114.67 529.6,114.73 530,114.88 530.4,114.81" fill="none" stroke="#000" stroke-width="1" />
<polyline points="410,115.14 410.4,115.11 410.8,115.09 411.2,114.95 411.6,115.07 412,115.08 412.4,115.37 412.8,114.97 413.2,115.68 413.6,114.58 414,114.86 414.4,115.2 414.8,115.1 415.2,114.9 415.6,114.99 416,115.22 416.4,115.48 416.8,114.89 417.2,115.05 417.6,114.9 418,115.27 418.4,115.05 418.8,115.11 419.2,115.38 419.6,115.15 420,115.17 420.4,114.92 420.8,114.92 421.2,114.49 421.6,114.55 422,114.67 422.4,114.68 422.8,115.43 423.2,114.65 423.6,114.27 424,114.72 424.4,115.05 424.8,115.09 425.2,115.37 425.6,115.76 426,115.28 426.4,114.82 426.8,114.89 427.2,115.28 427.6,115.28 428,115.11 428.4,115.17 428.8,115.18 429.2,114.67 429.6,114.98 430,114.8 430.4,114.87 430.8,114.83 431.2,114.96 431.6,115.25 432,115.1 432.4,115.12 432.8,115.33 433.2,115.31 433.6,115.01 434,115.24 434.4,115.04 434.8,114.98 435.2,115.08 435.6,115.46 436,115.04 436.4,114.95 436.8,115.04 437.2,114.83 437.6,114.98 438,115.35 438.4,114.74 438.8,114.91 439.2,114.8 439.6,115.46 440,115.42 440.4,115.4 440.8,115.2 441.2,114.86 441.6,114.98 442,115.11 442.4,115.1 442.8,115.54 443.2,115.5 443.6,115.05 444,114.96 444.4,115.09 444.8,114.76 445.2,114.86 445.6,114.8 446,114.98 446.4,115.06 446.8,114.9 447.2,115.31 447.6,115.04 448,115.23 448.4,114.88 448.8,114.72 449.2,114.73 449.6,114.79 450,115.14 450.4,114.72 450.8,115.32 451.2,114.88 451.6,115.36 452,115.27 452.4,115.04 452.8,115.27 453.2,115.05 453.6,115.06 454,115.08 454.4,115.82 454.8,115.19 455.2,115.63 455.6,115.28 456,114.99 456.4,114.9 456.8,115.31 457.2,115.14 457.6,114.9 458,115.14 458.4,115.18 458.8,115.4 459.2,114.94 459.6,115.39 460,115.54 460.4,115.12 460.8,115.01 461.2,115.16 461.6,115.05 462,115.26 462.4,115.31 462.8,115.18 463.2,114.83 463.6,114.42 464,114.81 464.4,114.61 464.8,115.13 465.2,115.55 465.6,115.34 466,115.42 466.4,115.56 466.8,115.52 467.2,115 467.6,114.77 468,114.79 468.4,114.95 468.8,114.78 469.2,114.97 469.6,115.35 470,115.1 470.4,115.09 470.8,114.82 471.2,114.91 471.6,115.22 472,115.49 472.4,115.33 472.8,114.99 473.2,115.54 473.6,114.77 474,114.8 474.4,114.73 474.8,114.9 475.2,115.13 475.6,114.98 476,115.95 476.4,116.04 476.8,115.78 477.2,115.3 477.6,114.78 478,115.23 478.4,115.38 478.8,115.34 479.2,115.58 479.6,115.45 480,114.89 480.4,114.49 480.8,114.68 481.2,114.91 481.6,115.15 482,115.18 482.4,115.08 482.8,114.86 483.2,115.11 483.6,115.28 484,115.02 484.4,114.79 484.8,114.82 485.2,114.68 485.6,114.93 486,114.68 486.4,114.96 486.8,114.79 487.2,115.05 487.6,115.69 488,115.08 488.4,115.1 488.8,115.71 489.2,115.63 489.6,115.4 490,115.37 490.4,115.15 490.8,114.73 491.2,114.22 491.6,114.45 492,114.59 492.4,115.12 492.8,115.16 493.2,114.7 493.6,115 494,114.7 494.4,115.19 494.8,114.85 495.2,115.17 495.6,115.15 496,114.97 496.4,115.3 496.8,115.12 497.2,114.45 497.6,114.86 498,114.71 498.4,114.77 498.8,114.98 499.2,115.21 499.6,115.17 500,114.84 500.4,114.76 500.8,114.61 501.2,114.76 501.6,114.73 502,115.09 502.4,114.89 502.8,115.22 503.2,115.61 503.6,115.46 504,115.21 504.4,115.44 504.8,115.02 505.2,115.02 505.6,115.38 506,115.37 506.4,115.17 506.8,115.03 507.2,114.91 507.6,115.37 508,115.73 508.4,115.78 508.8,115.43 509.2,115.33 509.6,114.97 510,114.73 510.4,115.06 510.8,115.23 511.2,114.81 511.6,114.61 512,114.92 512.4,114.64 512.8,115.13 513.2,115.41 513.6,114.94 514,114.91 514.4,115.23 514.8,115.41 515.2,115.22 515.6,115.1 516,115 516.4,115.17 516.8,115.27 517.2,115.1 517.6,114.94 518,114.97 518.4,114.95 518.8,114.89 519.2,114.63 519.6,114.86 520,115.16 520.4,115.13 520.8,115.41 521.2,115.33 521.6,115.38 522,115.44 522.4,114.72 522.8,115.07 523.2,115.34 523.6,114.89 524,114.48 524.4,114.5 524.8,114.69 525.2,114.95 525.6,114.59 526,114.76 526.4,114.59 526.8,114.87 527.2,114.92 527.6,115.03 528,114.89 528.4,114.84 528.8,115.17 529.2,114.8 529.6,114.91 530,114.82 530.4,114.85" fill="none" stroke="#000" stroke-width="1" />
<polyline points="154.8,133.56 155.2,134.22 155.6,133.58 156,132.84 156.4,133.34 156.8,133.75 157.2,133.86 157.6,133.97 158,133.76 158.4,133.46 158.8,133.24 159.2,133.37 159.6,133.36 160,133.91 160.4,134.06 160.8,133.34 161.2,133.8 161.6,133.73 162,134.18 162.4,134.57 162.8,134.36 163.2,133.27 163.6,133.76 164,133.06 164.4,134.04 164.8,133.59 165.2,133.56 165.6,134.4 166,133.3 166.4,133.51 166.8,133.14 167.2,133.2 167.6,133.11 168,133.69 168.4,133.56 168.8,133.77 169.2,134.01 169.6,133.12 170,134 170.4,133.74 170.8,133.01 171.2,133.07 171.6,133.75 172,134.15 172.4,133.63 172.8,133.71 173.2,133.8 173.6,134.19 174,133.89 174.4,134.21 174.8,133.57 175.2,133.33 175.6,133.8 176,134.06 176.4,133.86 176.8,134.03 177.2,133.95 177.6,134.15 178,134.42 178.4,134.28 178.8,134.34 179.2,133.85 179.6,133.54 180,132.61 180.4,133.33 180.8,133.53 181.2,133.84 181.6,132.97 182,133.12 182.4,133.17 182.8,132.66 183.2,133.57 183.6,134.16 184,133.38 184.4,133.73 184.8,134.45 185.2,133.56 185.6,134.05 186,134.55 186.4,134.93 186.8,133.73 187.2,133.26 187.6,133.57 188,134.15 188.4,133.38 188.8,133.22 189.2,132.98 189.6,133.81 190,133.52 190.4,133.85 190.8,134.05 191.2,134.37 191.6,134.22 192,134.1 192.4,134.4 192.8,134.25 193.2,133.43 193.6,133.33 194,133.91 194.4,133.86 194.8,133.63 195.2,133.77 195.6,135.16 196,134.41 196.4,134.26 196.8,134.18 197.2,133.82 197.6,134.27 198,134.35 198.4,134.2 198.8,133.37 199.2,134.07 199.6,134.22 200,133.92 200.4,132.61 200.8,131.82 201.2,132.49 201.6,136.74 202,136.81 202.4,134.1 202.8,133.92 203.2,133.82 203.6,134.29 204,133.58 204.4,133.56 204.8,134.21 205.2,134.1 205.6,133.58 206,133.26 206.4,133.22 206.8,133.42 207.2,133.86 207.6,133.84 208,134.09 208.4,134.26 208.8,134.03 209.2,134.42 209.6,134.38 210,133.96 210.4,133.76 210.8,133.72 211.2,133.39 211.6,132.96 212,133.35 212.4,133.3 212.8,133.75 213.2,133.47 213.6,133.62 214,133.75 214.4,133.52 214.8,133.69 215.2,133.38 215.6,133.35 216,133.87 216.4,133.95 216.8,133.82 217.2,133.42 217.6,133.86 218,134.64 218.4,133.23 218.8,133.91 219.2,133.9 219.6,134.27 220,134.49 220.4,133.65 220.8,134.42 221.2,133.8 221.6,133.64 222,133.94 222.4,133.78 222.8,133.85 223.2,133.55 223.6,133.17 224,133.44 224.4,133.1 224.8,133.97 225.2,133.94 225.6,134.42 226,133.52 226.4,132.71 226.8,132.22 227.2,132.79 227.6,132.68 228,133.34 228.4,132.89 228.8,132.69 229.2,133.31 229.6,133.33 230,133.8 230.4,134.1 230.8,134.05 231.2,133.34 231.6,133.14 232,134.39 232.4,133.94 232.8,133.94 233.2,133.87 233.6,133.77 234,133.66 234.4,133.43 234.8,133.34 235.2,132.64 235.6,133.89 236,133.74 236.4,133.15 236.8,133.64 237.2,133.95 237.6,133.2 238,133.22 238.4,134.1 238.8,134.13 239.2,134.09 239.6,134.32 240,133.95 240.4,133.69 240.8,134.38 241.2,133.95 241.6,133.79 242,134.01 242.4,133.87 242.8,133.25 243.2,134.28 243.6,133.96 244,134.6 244.4,134.36 244.8,133.63 245.2,134.33 245.6,133.93 246,133.44 246.4,133.55 246.8,132.7 247.2,133.37 247.6,133.22 248,133.34 248.4,133.13 248.8,133.7 249.2,133.85 249.6,134.24 250,134.68 250.4,134.31 250.8,134.04 251.2,134 251.6,133.49 252,133.36 252.4,133.85 252.8,133.4 253.2,132.71 253.6,133.05 254,133.48 254.4,134.22 254.8,133.65 255.2,133.26 255.6,133.52 256,133.54 256.4,133.72 256.8,133.48 257.2,133.67 257.6,133.43 258,133.98 258.4,133.95 258.8,134.07 259.2,133.69 259.6,133.07 260,133.38 260.4,133.51 260.8,134.07 261.2,134.29 261.6,133.97 262,133.81 262.4,133.32 262.8,133.49 263.2,133.68 263.6,133.5 264,133.13 264.4,133.96 264.8,133.42 265.2,134.26 265.6,134.48 266,134.74 266.4,133.85 266.8,134.04 267.2,133.26 267.6,133.32 268,132.85 268.4,132.95 268.8,133.1 269.2,133.8 269.6,134.2 270,133.78 270.4,133.61 270.8,133.24 271.2,132.97 271.6,132.56 272,133.03 272.4,133.61 272.8,133.32 273.2,133.65 273.6,133.17 274,133 274.4,133.11 274.8,133.77 275.2,133.46 275.6,134.04 276,133.66 276.4,133.02 276.8,132.16 277.2,132.65 277.6,132.6 278,133.69 278.4,133.96 278.8,132.86 279.2,133.78 279.6,134.06 280,132.15 280.4,132.3 280.8,133.15 281.2,132.47 281.6,132.65 282,133.49 282.4,133.74 282.8,133.99 283.2,134.21 283.6,133.43 284,134.98 284.4,134.65 284.8,135.45 285.2,134.41 285.6,134.39 286,134.24 286.4,133.88 286.8,133.97 287.2,133.99 287.6,134.32 288,134.2 288.4,133.98 288.8,134.13 289.2,134.77 289.6,134.27 290,134.34 290.4,134.1 290.8,132.73 291.2,132.68 291.6,132.64 292,132.34 292.4,132.65 292.8,132.13 293.2,133.07 293.6,133.06 294,134.1 294.4,134.12 294.8,133.15 295.2,133.29 295.6,133.52 296,133.2 296.4,133.23 296.8,132.82 297.2,132.82 297.6,133.42 298,133.36 298.4,134.24 298.8,132.71 299.2,132.73 299.6,132.99 300,134.21 300.4,134.32 300.8,134.31 301.2,134.4 301.6,134.7 302,134.46 302.4,133.96 302.8,133.89 303.2,133.47 303.6,133.47 304,133.72 304.4,133.47 304.8,133.61 305.2,133.45 305.6,133 306,132.72 306.4,133.48 306.8,133.58 307.2,133.96 307.6,133.76 308,133.7 308.4,133.79 308.8,133.58 309.2,134.19 309.6,134.34 310,134.16 310.4,133.46 310.8,133.33 311.2,133.57 311.6,134.1 312,133.85 312.4,133.74 312.8,133.91 313.2,133.82 313.6,133.67 314,133.18 314.4,133.92 314.8,133.76 315.2,133.48 315.6,133.51 316,133.02 316.4,132.62 316.8,132.38 317.2,133.16 317.6,132.84 318,133.28 318.4,132.95 318.8,132.54 319.2,132.82 319.6,132.91 320,132.98 320.4,134.02 320.8,133.91 321.2,133.51 321.6,133.93 322,133.64 322.4,134.14 322.8,133.22 323.2,133.88 323.6,133.29 324,133.15 324.4,133.47 324.8,133.09 325.2,132.66 325.6,132.97 326,133.17 326.4,132.7 326.8,133.57 327.2,133.24 327.6,133.17 328,133.29 328.4,133.47 328.8,133.98 329.2,132.89 329.6,133.25 330,133.8 330.4,133.8 330.8,133.67 331.2,133.17 331.6,133.53 332,133.36 332.4,133.54 332.8,133.13 333.2,133.23 333.6,133.36 334,132.86 334.4,133.66 334.8,133.58 335.2,133.05 335.6,133.22 336,133.47 336.4,133.39 336.8,133.06 337.2,133.24 337.6,132.85 338,132.53 338.4,133.56 338.8,134.29 339.2,134.73 339.6,135.12 340,134.93 340.4,133.87 340.8,133.5 341.2,134.01 341.6,133.61 342,133.46 342.4,133.52 342.8,133.74 343.2,133.1 343.6,133.36 344,133.69 344.4,132.78 344.8,133.66 345.2,133.95 345.6,133.44 346,134.29 346.4,134.12 346.8,134.06 347.2,134.48 347.6,132.96 348,133.28 348.4,133.89 348.8,134.34 349.2,133.96 349.6,133.7 350,133.33 350.4,133.32 350.8,133.1 351.2,132.34 351.6,132.72 352,132.74 352.4,132.92 352.8,133.07 353.2,133.13 353.6,133.41 354,133.47 354.4,133.39 354.8,133.23 355.2,133.37 355.6,133.35 356,133.42 356.4,134.09 356.8,133.95 357.2,133.61 357.6,132.74 358,132.56 358.4,131.84 358.8,133.09 359.2,133.81 359.6,133.53 360,133.37 360.4,133.68 360.8,133.88 361.2,133.01 361.6,133.2 362,133.27 362.4,132.9 362.8,133.84 363.2,134.04 363.6,133.56 364,133.56 364.4,133.35 364.8,133.26 365.2,133.26 365.6,133.86 366,133.73 366.4,133.47 366.8,133.25 367.2,133.53 367.6,133.2 368,132.72 368.4,133.1 368.8,134.02 369.2,133.52 369.6,133.63 370,133.53 370.4,134.08 370.8,134.04 371.2,133.29 371.6,134.18 372,133.89 372.4,133.36 372.8,133.27 373.2,133.46 373.6,133.98 374,133.67 374.4,133.32 374.8,134.02 375.2,134.47 375.6,133.88 376,133.8 376.4,133.86 376.8,133.6 377.2,133.21 377.6,133.85 378,133.26 378.4,132.66 378.8,133.37 379.2,133.97 379.6,134.13 380,133.54 380.4,133.47 380.8,133.07 381.2,133.12 381.6,132.32 382,132.59 382.4,133.68 382.8,133.15 383.2,134.1 383.6,133.92 384,132.93 384.4,133.66 384.8,133.23 385.2,133.65 385.6,133.55 386,133.43 386.4,133.44 386.8,132.97 387.2,132.96 387.6,133.11 388,134.11 388.4,133.61 388.8,133.74 389.2,133.86 389.6,134.25 390,133.83 390.4,133.8 390.8,133.31 391.2,134.52 391.6,133.43 392,133.63 392.4,133.47 392.8,133.61 393.2,133.38 393.6,133.3 394,133.87 394.4,134.14 394.8,133.84 395.2,133.67 395.6,133.71 396,133.63 396.4,133.8 396.8,134.03 397.2,134.02 397.6,133.15 398,133.35 398.4,133.03 398.8,133.51 399.2,133.44 399.6,133.65 400,133.59 400.4,133.99 400.8,134.37 401.2,134.06 401.6,133.21 402,133.41 402.4,134.35 402.8,133.69 403.2,133.62 403.6,134.65 404,134.84 404.4,134.5 404.8,134.15 405.2,133.32 405.6,134.16 406,134.27 406.4,133.23 406.8,133.37 407.2,133.44 407.6,133.5 408,133.28 408.4,134.49 408.8,133.68 409.2,134.27 409.6,134.21 410,133.91 410.4,133.95 410.8,134.1 411.2,133.53 411.6,133.41 412,134.02 412.4,134.22 412.8,134.08 413.2,133.35 413.6,132.8 414,133.84 414.4,134.34 414.8,134.19 415.2,134.07 415.6,133.71 416,133.87 416.4,134.25 416.8,134.26 417.2,133.71 417.6,133.82 418,133.49 418.4,133.53 418.8,133.11 419.2,132.37 419.6,132.56 420,133.17 420.4,133.06 420.8,133.57 421.2,133.36 421.6,133.62 422,133.42 422.4,134.13 422.8,133.71 423.2,133.67 423.6,134.13 424,134.5 424.4,133.57 424.8,134.22 425.2,133.47 425.6,133.14 426,133.03 426.4,133.75 426.8,133.24 427.2,133.68 427.6,133.83 428,133.65 428.4,133.83 428.8,134.6 429.2,134.79 429.6,133.85 430,133.85 430.4,133.58 430.8,133.55 431.2,133.36 431.6,133.72 432,133.32 432.4,132.95 432.8,133.31 433.2,133.6 433.6,134.12 434,134.16 434.4,133.53 434.8,133.19 435.2,133.55 435.6,133.7 436,133.97 436.4,134.35 436.8,133.05 437.2,133.08 437.6,133.59 438,133.16 438.4,134.09 438.8,133.83 439.2,133.98 439.6,133.72 440,133.82 440.4,133.9 440.8,133.99 441.2,133.23 441.6,132.63 442,133.1 442.4,133.7 442.8,133.56 443.2,133.53 443.6,134.03 444,134.11 444.4,133.47 444.8,133.62 445.2,133.54 445.6,133.61 446,133.59 446.4,133.86 446.8,133.74 447.2,133.83 447.6,133.75 448,133.6 448.4,133.38 448.8,133.62 449.2,133.82 449.6,134.39 450,135.05 450.4,134.06 450.8,133.57 451.2,134.05 451.6,133.67 452,133.7 452.4,133.14 452.8,133.64 453.2,133.03 453.6,133.75 454,133.34 454.4,133.59 454.8,134.03 455.2,133.48 455.6,133.51 456,134.46 456.4,133.47 456.8,133.61 457.2,132.79 457.6,133.36 458,133.43 458.4,133.06 458.8,132.85 459.2,133.77 459.6,133.98 460,133.3 460.4,133.81 460.8,133.34 461.2,133.15 461.6,133.56 462,133.55 462.4,133.82 462.8,134.18 463.2,133.64 463.6,133.87 464,133.88 464.4,133.06 464.8,133.68 465.2,134.08 465.6,133.28 466,133.32 466.4,133.89 466.8,134.14 467.2,133.73 467.6,133.59 468,133.48 468.4,133.05 468.8,133.39 469.2,134.39 469.6,133.42 470,133.52 470.4,133.18 470.8,134.04 471.2,133.15 471.6,133.77 472,133.89 472.4,133.4 472.8,133.39 473.2,133.54 473.6,134.3 474,134.09 474.4,134.36 474.8,134.44 475.2,134.08 475.6,133.88 476,133.73 476.4,134.37 476.8,134.55 477.2,134.5 477.6,133.8 478,133.6 478.4,133.94 478.8,133.71 479.2,133.11 479.6,132.75 480,133.39 480.4,133.83 480.8,133.96 481.2,134.45 481.6,133.38 482,132.76 482.4,133.25 482.8,133.8 483.2,133.36 483.6,133.6 484,133.76 484.4,133.5 484.8,133.21 485.2,133.28 485.6,133.42 486,133.83 486.4,133.61 486.8,133.21 487.2,132.97 487.6,133.11 488,133.58 488.4,133.24 488.8,133.28 489.2,133.67 489.6,133.76 490,134.55 490.4,134.29 490.8,134.22 491.2,134.81 491.6,133.43 492,132.8 492.4,132.88 492.8,133.3 493.2,133.96 493.6,134.07 494,133.62 494.4,133.02 494.8,133.47 495.2,133.43 495.6,133.12 496,132.84 496.4,133.52 496.8,133.44 497.2,133.61 497.6,133.56 498,133.26 498.4,133.23 498.8,133.16 499.2,133.35 499.6,133.18 500,133.65 500.4,133.21 500.8,133.5 501.2,133.6 501.6,133.85 502,132.46 502.4,133.29 502.8,133.58 503.2,133.4 503.6,133.34 504,133.29 504.4,132.81 504.8,134.44 505.2,133.92 505.6,133.92 506,133.24 506.4,133.21 506.8,132.39 507.2,132.93 507.6,132.86 508,133.2 508.4,133.54 508.8,134.11 509.2,133.84 509.6,133.22 510,133.16 510.4,133.58 510.8,134.32 511.2,132.89 511.6,132.67 512,132.8 512.4,133.09 512.8,133.56 513.2,134.13 513.6,134.07 514,134.39 514.4,133.68 514.8,133.25 515.2,132.69 515.6,132.77 516,133.42 516.4,133.46 516.8,134.32 517.2,133.77 517.6,133.21 518,133.57 518.4,132.67 518.8,133.42 519.2,133.59 519.6,132.95 520,133.41 520.4,133.53 520.8,134.02 521.2,133.63 521.6,133.31 522,133.38 522.4,133.36 522.8,132.97 523.2,133.6 523.6,133.93 524,133.38 524.4,133.18 524.8,132.85 525.2,132.95 525.6,132.91 526,133.16 526.4,133.58 526.8,134.14 527.2,133.4 527.6,133.09 528,132.77 528.4,133.08 528.8,133.58 529.2,133.13 529.6,133.27 530,132.93 530.4,132.58" fill="none" stroke="#000" stroke-width="1.05" />
<rect x="182.3" y="182.8" width="307.3" height="133.9" fill="none" stroke="#444" stroke-width="0.9" />
<text x="184.2" y="193.2" font-size="12.8" >E</text>
<rect x="193.6" y="191.5" width="9.2" height="6.4" fill="#fff" stroke="#2b3ce6" stroke-width="1" />
<text x="207.7" y="197.66" font-size="8" font-weight="bold" textLength="28.9" lengthAdjust="spacingAndGlyphs" >Solvent</text>
<rect x="193.2" y="206" width="9.9" height="6.8" fill="#2b3ce6" stroke="none" stroke-width="1" />
<text x="207.7" y="212.88" font-size="8.6" textLength="40.9" lengthAdjust="spacingAndGlyphs" stroke="#000" stroke-width="0.25" >Japonilure</text>
<text x="280.6" y="197.75" font-size="7.97" font-weight="bold" font-style="italic" textLength="23.7" lengthAdjust="spacingAndGlyphs" >N = 60</text>
<text x="392.6" y="197.74" font-size="8.2" font-weight="bold" font-style="italic" >P</text>
<text x="416.6" y="197.83" font-size="8.48" font-weight="bold" font-style="italic" textLength="14.6" lengthAdjust="spacingAndGlyphs" >R:S</text>
<text x="444.3" y="197.69" font-size="8.08" font-weight="bold" textLength="38.6" lengthAdjust="spacingAndGlyphs" >No choice</text>
<rect x="290.4" y="207.4" width="85.86" height="9.2" fill="#2b3ce6" stroke="none" stroke-width="1" />
<rect x="259.52" y="208" width="31.18" height="8" fill="#fff" stroke="#2b3ce6" stroke-width="1.2" />
<text x="319.4" y="217.38" font-size="8.6" font-weight="bold" text-anchor="middle" fill="#fff" >**</text>
<text x="385.1" y="215.25" font-size="8.23" font-weight="bold" textLength="20.6" lengthAdjust="spacingAndGlyphs" >0.003</text>
<text x="415.8" y="215.24" font-size="8.2" font-weight="bold" >100:0</text>
<text x="461.4" y="215.24" font-size="8.2" font-weight="bold" text-anchor="middle" >19</text>
<rect x="290.4" y="221.4" width="74.41" height="9.2" fill="#2b3ce6" stroke="none" stroke-width="1" />
<rect x="262.38" y="222" width="28.32" height="8" fill="#fff" stroke="#2b3ce6" stroke-width="1.2" />
<text x="319.4" y="231.38" font-size="8.6" font-weight="bold" text-anchor="middle" fill="#fff" >**</text>
<text x="385.1" y="229.25" font-size="8.23" font-weight="bold" textLength="20.6" lengthAdjust="spacingAndGlyphs" >0.008</text>
<text x="415.8" y="229.24" font-size="8.2" font-weight="bold" >99.9:0.1</text>
<text x="461.4" y="229.24" font-size="8.2" font-weight="bold" text-anchor="middle" >24</text>
<rect x="290.4" y="235.7" width="71.55" height="9.2" fill="#2b3ce6" stroke="none" stroke-width="1" />
<rect x="256.66" y="236.3" width="34.04" height="8" fill="#fff" stroke="#2b3ce6" stroke-width="1.2" />
<text x="319.4" y="245.68" font-size="8.6" font-weight="bold" text-anchor="middle" fill="#fff" >*</text>
<text x="385.1" y="243.55" font-size="8.23" font-weight="bold" textLength="20.6" lengthAdjust="spacingAndGlyphs" >0.033</text>
<text x="415.8" y="243.54" font-size="8.2" font-weight="bold" >99:1</text>
<text x="461.4" y="243.54" font-size="8.2" font-weight="bold" text-anchor="middle" >23</text>
<rect x="290.4" y="249.8" width="51.52" height="9.2" fill="#2b3ce6" stroke="none" stroke-width="1" />
<rect x="230.9" y="250.4" width="59.8" height="8" fill="#fff" stroke="#2b3ce6" stroke-width="1.2" />
<text x="319.6" y="257.65" font-size="8.8" font-weight="bold" text-anchor="middle" fill="#fff" >ns</text>
<text x="385.1" y="257.65" font-size="8.23" font-weight="bold" textLength="20.6" lengthAdjust="spacingAndGlyphs" >0.631</text>
<text x="415.8" y="257.64" font-size="8.2" font-weight="bold" >90:10</text>
<text x="461.4" y="257.64" font-size="8.2" font-weight="bold" text-anchor="middle" >21</text>
<rect x="290.4" y="264.2" width="37.21" height="9.2" fill="#2b3ce6" stroke="none" stroke-width="1" />
<rect x="250.93" y="264.8" width="39.77" height="8" fill="#fff" stroke="#2b3ce6" stroke-width="1.2" />
<text x="319.6" y="272.05" font-size="8.8" font-weight="bold" text-anchor="middle" fill="#fff" >ns</text>
<text x="385.1" y="272.05" font-size="8.23" font-weight="bold" textLength="20.6" lengthAdjust="spacingAndGlyphs" >0.847</text>
<text x="415.8" y="272.04" font-size="8.2" font-weight="bold" >50:50</text>
<text x="461.4" y="272.04" font-size="8.2" font-weight="bold" text-anchor="middle" >33</text>
<rect x="290.4" y="278.4" width="48.65" height="9.2" fill="#2b3ce6" stroke="none" stroke-width="1" />
<rect x="248.07" y="279" width="42.63" height="8" fill="#fff" stroke="#2b3ce6" stroke-width="1.2" />
<text x="319.6" y="286.25" font-size="8.8" font-weight="bold" text-anchor="middle" fill="#fff" >ns</text>
<text x="385.1" y="286.25" font-size="8.23" font-weight="bold" textLength="20.6" lengthAdjust="spacingAndGlyphs" >0.724</text>
<text x="415.8" y="286.24" font-size="8.2" font-weight="bold" >0:100</text>
<text x="461.4" y="286.24" font-size="8.2" font-weight="bold" text-anchor="middle" >28</text>
<line x1="204.6" y1="290.2" x2="377.4" y2="290.2" stroke="#444" stroke-width="1.4" />
<line x1="205.04" y1="290.2" x2="205.04" y2="293.2" stroke="#444" stroke-width="1.2" />
<text x="204.24" y="302.34" font-size="8.5" font-weight="bold" text-anchor="middle" >-30</text>
<line x1="233.66" y1="290.2" x2="233.66" y2="293.2" stroke="#444" stroke-width="1.2" />
<text x="232.86" y="302.34" font-size="8.5" font-weight="bold" text-anchor="middle" >-20</text>
<line x1="262.28" y1="290.2" x2="262.28" y2="293.2" stroke="#444" stroke-width="1.2" />
<text x="261.48" y="302.34" font-size="8.5" font-weight="bold" text-anchor="middle" >-10</text>
<line x1="290.9" y1="290.2" x2="290.9" y2="293.2" stroke="#444" stroke-width="1.2" />
<text x="290.9" y="302.34" font-size="8.5" font-weight="bold" text-anchor="middle" >0</text>
<line x1="319.52" y1="290.2" x2="319.52" y2="293.2" stroke="#444" stroke-width="1.2" />
<text x="319.52" y="302.34" font-size="8.5" font-weight="bold" text-anchor="middle" >10</text>
<line x1="348.14" y1="290.2" x2="348.14" y2="293.2" stroke="#444" stroke-width="1.2" />
<text x="348.14" y="302.34" font-size="8.5" font-weight="bold" text-anchor="middle" >20</text>
<line x1="376.76" y1="290.2" x2="376.76" y2="293.2" stroke="#444" stroke-width="1.2" />
<text x="376.76" y="302.34" font-size="8.5" font-weight="bold" text-anchor="middle" >30</text>
<text x="291.2" y="310.27" font-size="6.9" font-weight="bold" text-anchor="middle" textLength="23" lengthAdjust="spacingAndGlyphs" >Choice</text>
<rect x="3.3" y="212.6" width="123.5" height="139.6" fill="none" stroke="#333" stroke-width="0.9" />
<text x="4.4" y="224.6" font-size="12.8" >C</text>
<line x1="13.3" y1="218.3" x2="13.3" y2="333.8" stroke="#333" stroke-width="0.9" />
<line x1="13.3" y1="333.8" x2="122.9" y2="333.8" stroke="#333" stroke-width="0.9" />
<line x1="13.3" y1="333.8" x2="13.3" y2="336.4" stroke="#333" stroke-width="0.8" />
<text x="13.3" y="342.76" font-size="5.2" text-anchor="middle" fill="#333" >0</text>
<line x1="31.52" y1="333.8" x2="31.52" y2="336.4" stroke="#333" stroke-width="0.8" />
<text x="31.52" y="342.76" font-size="5.2" text-anchor="middle" fill="#333" >1</text>
<line x1="49.73" y1="333.8" x2="49.73" y2="336.4" stroke="#333" stroke-width="0.8" />
<text x="49.73" y="342.76" font-size="5.2" text-anchor="middle" fill="#333" >2</text>
<line x1="67.95" y1="333.8" x2="67.95" y2="336.4" stroke="#333" stroke-width="0.8" />
<text x="67.95" y="342.76" font-size="5.2" text-anchor="middle" fill="#333" >3</text>
<line x1="86.17" y1="333.8" x2="86.17" y2="336.4" stroke="#333" stroke-width="0.8" />
<text x="86.17" y="342.76" font-size="5.2" text-anchor="middle" fill="#333" >4</text>
<line x1="104.38" y1="333.8" x2="104.38" y2="336.4" stroke="#333" stroke-width="0.8" />
<text x="104.38" y="342.76" font-size="5.2" text-anchor="middle" fill="#333" >5</text>
<line x1="122.6" y1="333.8" x2="122.6" y2="336.4" stroke="#333" stroke-width="0.8" />
<text x="122.6" y="342.76" font-size="5.2" text-anchor="middle" fill="#333" >6</text>
<text x="68.4" y="350.07" font-size="4.96" text-anchor="middle" fill="#333" textLength="46" lengthAdjust="spacingAndGlyphs" >Retention time  (min)</text>
<text font-size="4.97" text-anchor="middle" fill="#333" textLength="55.5" lengthAdjust="spacingAndGlyphs" transform="translate(10.8 276) rotate(-90)" >FID and EAD Responses</text>
<polyline points="14.9,280.4 23.5,280.4 23.5,218.3" fill="none" stroke="#888" stroke-width="0.65" />
<polyline points="38.3,223.8 38.3,223.6 38.6,245.87 38.9,259.38 39.2,267.57 39.5,272.54 39.8,275.55 40.1,277.38 40.4,278.49 40.7,279.16 41,279.57 41.3,279.82 41.6,279.97 41.9,280.06 42.2,280.11 42.5,280.15 42.8,280.17 43.1,280.18 43.4,280.19 43.7,280.19 44,280.2 44.3,280.2 44.6,280.2 44.9,280.2 45.2,280.2 45.5,280.2 45.8,280.2 46.1,280.2 46.4,280.2 46.7,280.2 47,280.2 47.3,280.2 47.6,280.2 47.9,280.2 48.2,280.2 48.5,280.2 48.8,280.2 49.1,280.2 49.4,280.2 49.7,280.2 50,280.2 50.3,280.2 50.6,280.2 50.9,280.2 51.2,280.2 51.5,280.2 51.8,280.2 52.1,280.2 52.4,280.2 52.7,280.2 53,280.2 53.3,280.2 53.6,280.2 53.9,280.2 54.2,280.2 54.5,280.2 54.8,280.2 55.1,280.2 55.4,280.2 55.7,280.2 56,280.2 56.3,280.2 56.6,280.2 56.9,280.2 57.2,280.2 57.5,280.2 57.8,280.2 58.1,280.2 58.4,280.2 58.7,280.2 59,280.2 59.3,280.2 59.6,280.2 59.9,280.2 60.2,280.2 60.5,280.2 60.8,280.2 61.1,280.2 61.4,280.2 61.7,280.2 62,280.2 62.3,280.2 62.6,280.2 62.9,280.2 63.2,280.2 63.5,280.2 63.8,280.2 64.1,280.2 64.4,280.2 64.7,280.2 65,280.2 65.3,280.2 65.6,280.2 65.9,280.2 66.2,280.2 66.5,280.2 66.8,280.2 67.1,280.2 67.4,280.2 67.7,280.2 68,280.2 68.3,280.2 68.6,280.2 68.9,280.2 69.2,280.2 69.5,280.19 69.8,280.19 70.1,280.19 70.4,280.19 70.7,280.19 71,280.19 71.3,280.19 71.6,280.18 71.9,280.18 72.2,280.18 72.5,280.17 72.8,280.17 73.1,280.16 73.4,280.16 73.7,280.15 74,280.15 74.3,280.14 74.6,280.13 74.9,280.11 75.2,280.1 75.5,280.08 75.8,280.06 76.1,280.04 76.4,280.02 76.7,279.97 77,279.76 77.3,278.53 77.6,273.85 77.9,263.91 78.2,254.25 78.5,253.91 78.8,264.29 79.1,273.87 79.4,278.12 79.7,279.24 80,279.49 80.3,279.6 80.6,279.68 80.9,279.76 81.2,279.82 81.5,279.87 81.8,279.92 82.1,279.96 82.4,279.99 82.7,280.02 83,280.04 83.3,280.07 83.6,280.09 83.9,280.1 84.2,280.11 84.5,280.13 84.8,280.14 85.1,280.15 85.4,280.15 85.7,280.16 86,280.17 86.3,280.17 86.6,280.17 86.9,280.18 87.2,280.18 87.5,280.18 87.8,280.19 88.1,280.19 88.4,280.19 88.7,280.19 89,280.19 89.3,280.19 89.6,280.19 89.9,280.2 90.2,280.2 90.5,280.2 90.8,280.2 91.1,280.2 91.4,280.2 91.7,280.2 92,280.2 92.3,280.2 92.6,280.2 92.9,280.2 93.2,280.2 93.5,280.2 93.8,280.2 94.1,280.2 94.4,280.2 94.7,280.2 95,280.2 95.3,280.2 95.6,280.2 95.9,280.2 96.2,280.2 96.5,280.2 96.8,280.2 97.1,280.2 97.4,280.2 97.7,280.2 98,280.2 98.3,280.2 98.6,280.2 98.9,280.2 99.2,280.2 99.5,280.2 99.8,280.2 100.1,280.2 100.4,280.2 100.7,280.2 101,280.2 101.3,280.2 101.6,280.2 101.9,280.2 102.2,280.2 102.5,280.2 102.8,280.2 103.1,280.2 103.4,280.2 103.7,280.2 104,280.2 104.3,280.2 104.6,280.2 104.9,280.2 105.2,280.2 105.5,280.2 105.8,280.2 106.1,280.2 106.4,280.2 106.7,280.2 107,280.2 107.3,280.2 107.6,280.2 107.9,280.2 108.2,280.2 108.5,280.2 108.8,280.2 109.1,280.2 109.4,280.2 109.7,280.2 110,280.2 110.3,280.2 110.6,280.2 110.9,280.2 111.2,280.2 111.5,280.2 111.8,280.2 112.1,280.2 112.4,280.2 112.7,280.2 113,280.2 113.3,280.2 113.6,280.2 113.9,280.2 114.2,280.2 114.5,280.2 114.8,280.2 115.1,280.2 115.4,280.2 115.7,280.2 116,280.2 116.3,280.2 116.6,280.2 116.9,280.2 117.2,280.2 117.5,280.2 117.8,280.2 118.1,280.2 118.4,280.2 118.7,280.2 119,280.2 119.3,280.2 119.6,280.2 119.9,280.2 120.2,280.2 120.5,280.2 120.8,280.2 121.1,280.2 121.4,280.2 121.7,280.2 122,280.2 122.3,280.2 122.6,280.2" fill="none" stroke="#888" stroke-width="0.55" stroke-linejoin="round"/>
<polyline points="13.8,292.9 14.1,293.19 14.4,292.49 14.7,292.24 15,292.64 15.3,293.27 15.6,292.96 15.9,292.28 16.2,292.23 16.5,292.48 16.8,292.93 17.1,292.71 17.4,292.51 17.7,292.5 18,292.64 18.3,292.35 18.6,292.54 18.9,292.69 19.2,293.25 19.5,292.79 19.8,293.03 20.1,292.36 20.4,292.86 20.7,292.75 21,292.46 21.3,292.56 21.6,292.94 21.9,292.59 22.2,292.99 22.5,293.3 22.8,293.43 23.1,293.46 23.4,292.4 23.7,292.68 24,292.38 24.3,292.9 24.6,292.73 24.9,292.74 25.2,292.83 25.5,292.46 25.8,292.61 26.1,292.35 26.4,293.31 26.7,292.66 27,292.64 27.3,291.97 27.6,291.87 27.9,292.08 28.2,292.76 28.5,292.95 28.8,292.82 29.1,292.44 29.4,293.26 29.7,292.43 30,292.24 30.3,292.69 30.6,292.27 30.9,292.61 31.2,292.98 31.5,292.7 31.8,292.8 32.1,292.69 32.4,292.39 32.7,291.37 33,291.79 33.3,292.37 33.6,291.93 33.9,292.2 34.2,292.57 34.5,293.1 34.8,292.25 35.1,292.31 35.4,292.61 35.7,292.81 36,292.16 36.3,293.18 36.6,292.48 36.9,292.99 37.2,292.65 37.5,292.78 37.8,293.29 38.1,293.09 38.4,292.81 38.7,292.3 39,292.28 39.3,291.98 39.6,293.18 39.9,292.21 40.2,291.53 40.5,292.91 40.8,293.19 41.1,292.65 41.4,292.94 41.7,292.41 42,292.34 42.3,292.72 42.6,292.8 42.9,292.5 43.2,293.19 43.5,293.07 43.8,292.81 44.1,292.23 44.4,292.55 44.7,292.48 45,292.55 45.3,292.9 45.6,292.49 45.9,292.68 46.2,292.94 46.5,292.85 46.8,293.55 47.1,292.24 47.4,292.48 47.7,292.13 48,292.45 48.3,293.51 48.6,292.27 48.9,292.4 49.2,292.8 49.5,292.71 49.8,292.99 50.1,292.14 50.4,292.84 50.7,292.32 51,292.07 51.3,292.67 51.6,292.81 51.9,292.4 52.2,292.24 52.5,292.43 52.8,292.55 53.1,292.53 53.4,292.21 53.7,291.62 54,292.81 54.3,292.74 54.6,292.18 54.9,291.89 55.2,292.13 55.5,292.31 55.8,291.72 56.1,292.87 56.4,292.85 56.7,292.56 57,292.73 57.3,292.73 57.6,293.05 57.9,292.8 58.2,293.14 58.5,293.35 58.8,292.72 59.1,292.47 59.4,292.23 59.7,292.41 60,292.28 60.3,292.51 60.6,292.7 60.9,292.84 61.2,292.24 61.5,292.91 61.8,292.58 62.1,292.56 62.4,292.4 62.7,291.79 63,292.46 63.3,291.89 63.6,292.81 63.9,292.68 64.2,293.22 64.5,293.04 64.8,293 65.1,293.25 65.4,292.79 65.7,293.24 66,292.75 66.3,292.75 66.6,292.39 66.9,292.75 67.2,292.9 67.5,292.51 67.8,292.09 68.1,292.44 68.4,292.72 68.7,292.58 69,292.23 69.3,292.22 69.6,292.39 69.9,291.55 70.2,292.07 70.5,292.99 70.8,292.24 71.1,292.41 71.4,293.19 71.7,293.05 72,293.09 72.3,292.69 72.6,292.13 72.9,293.55 73.2,293 73.5,292.82 73.8,293.29 74.1,293.12 74.4,292.78 74.7,292.24 75,292.44 75.3,292.5 75.6,292.32 75.9,292.18 76.2,292.02 76.5,291.85 76.8,290.31 77.1,288.65 77.4,288.58 77.7,290.27 78,292.32 78.3,294.59 78.6,296.05 78.9,296.29 79.2,296.07 79.5,295.08 79.8,293.39 80.1,293.14 80.4,292.07 80.7,291.71 81,292.7 81.3,292.85 81.6,292.07 81.9,292.47 82.2,293.07 82.5,292.32 82.8,292.07 83.1,291.98 83.4,292.04 83.7,291.78 84,292.17 84.3,291.92 84.6,292.42 84.9,293.39 85.2,292.44 85.5,292.9 85.8,293.13 86.1,291.89 86.4,292.43 86.7,292.55 87,292.46 87.3,292.86 87.6,292.51 87.9,292.71 88.2,292.49 88.5,292.52 88.8,292.28 89.1,293.37 89.4,292.81 89.7,292.24 90,293.23 90.3,293.39 90.6,292.76 90.9,292.4 91.2,292.26 91.5,292.97 91.8,292.59 92.1,292.33 92.4,292.84 92.7,292.57 93,292.57 93.3,293.33 93.6,293.15 93.9,293.24 94.2,292.95 94.5,293.19 94.8,292.71 95.1,293 95.4,293.12 95.7,292.6 96,292.11 96.3,292.66 96.6,292.57 96.9,292.82 97.2,292.44 97.5,292.75 97.8,293.01 98.1,293.62 98.4,293.58 98.7,293.04 99,293.28 99.3,292.57 99.6,293.03 99.9,292.78 100.2,293.16 100.5,292.89 100.8,292.6 101.1,292.33 101.4,293 101.7,292.74 102,292.91 102.3,292.88 102.6,291.91 102.9,292.62 103.2,292.47 103.5,292.71 103.8,292.82 104.1,291.98 104.4,292.3 104.7,292.49 105,292.71 105.3,292.99 105.6,292.46 105.9,292.47 106.2,292.8 106.5,291.97 106.8,293.11 107.1,292.4 107.4,293.04 107.7,292.79 108,293.37 108.3,293.23 108.6,292.78 108.9,292.01 109.2,292.47 109.5,292.69 109.8,292.83 110.1,292.19 110.4,292.17 110.7,292.18 111,292.58 111.3,292.27 111.6,292.46 111.9,292.91 112.2,292.53 112.5,293.09 112.8,292.86 113.1,292.58 113.4,293.01 113.7,292.91 114,292.59 114.3,292.37 114.6,292.52 114.9,292.71 115.2,293.06 115.5,292.84 115.8,292.44 116.1,292.05 116.4,292.53 116.7,292.73 117,293.07 117.3,292.54 117.6,292.09 117.9,292.77 118.2,292.59 118.5,292.14 118.8,293.09 119.1,293.08 119.4,292.77 119.7,292.76 120,292.37 120.3,292.91 120.6,292.53 120.9,292.41 121.2,292.43 121.5,292.12 121.8,292.85 122.1,293.3 122.4,293.1" fill="none" stroke="#000" stroke-width="1.2" />
<polyline points="13.8,308.57 14.1,308.41 14.4,309.51 14.7,308.18 15,306.62 15.3,307.95 15.6,309.73 15.9,312.13 16.2,309.97 16.5,308.35 16.8,308.64 17.1,308.4 17.4,307.8 17.7,307.78 18,307.93 18.3,307.59 18.6,308.13 18.9,308.22 19.2,308.66 19.5,308.19 19.8,308.26 20.1,308.55 20.4,308.69 20.7,308.15 21,308.83 21.3,308.32 21.6,308.78 21.9,308.41 22.2,308.26 22.5,307.94 22.8,308.22 23.1,309.15 23.4,308.41 23.7,308.92 24,309 24.3,308.45 24.6,308.79 24.9,308.98 25.2,308.47 25.5,308.24 25.8,308.73 26.1,308.62 26.4,309.18 26.7,308.78 27,308.13 27.3,308.3 27.6,307.97 27.9,308.53 28.2,308.68 28.5,308.35 28.8,308.09 29.1,308.61 29.4,308.34 29.7,308.79 30,308.19 30.3,308.25 30.6,308.17 30.9,307.98 31.2,309.19 31.5,309.2 31.8,308.43 32.1,308.68 32.4,307.88 32.7,308.67 33,308.85 33.3,308.42 33.6,308.29 33.9,308.45 34.2,308.57 34.5,308.33 34.8,308.1 35.1,308.22 35.4,308.2 35.7,308.61 36,308.49 36.3,308.51 36.6,307.88 36.9,308.12 37.2,308.19 37.5,308.16 37.8,308.29 38.1,308.27 38.4,307.85 38.7,308.56 39,308.76 39.3,308.34 39.6,308.6 39.9,308.15 40.2,307.91 40.5,308.19 40.8,308.86 41.1,308.51 41.4,307.92 41.7,308.34 42,308.2 42.3,308.1 42.6,308.44 42.9,307.84 43.2,308.11 43.5,309.69 43.8,309.03 44.1,308.5 44.4,308.23 44.7,308.13 45,308.55 45.3,308.88 45.6,308.31 45.9,308.47 46.2,309.23 46.5,308.87 46.8,308.44 47.1,308.54 47.4,308.49 47.7,308.67 48,308.62 48.3,308.31 48.6,308.35 48.9,308.53 49.2,308.22 49.5,308.39 49.8,308.11 50.1,308.74 50.4,309.04 50.7,308.32 51,308.68 51.3,308.56 51.6,308.5 51.9,308.36 52.2,308.5 52.5,308.78 52.8,308.12 53.1,308.68 53.4,308.41 53.7,308.05 54,308.3 54.3,308.6 54.6,308.45 54.9,308.53 55.2,308.34 55.5,308.22 55.8,308.7 56.1,308.19 56.4,308.69 56.7,308.62 57,308.39 57.3,308.34 57.6,308.3 57.9,308.38 58.2,308.4 58.5,308.37 58.8,307.76 59.1,307.52 59.4,308.27 59.7,308.17 60,308.16 60.3,308.29 60.6,308.02 60.9,308.82 61.2,308.54 61.5,308.4 61.8,308.07 62.1,308.61 62.4,308.72 62.7,309.01 63,308.9 63.3,308.3 63.6,307.97 63.9,308.74 64.2,308.3 64.5,308.35 64.8,308.35 65.1,308.57 65.4,308.65 65.7,308.15 66,308.13 66.3,307.76 66.6,308.41 66.9,308.37 67.2,307.85 67.5,308.6 67.8,308.48 68.1,308.11 68.4,308.2 68.7,308.16 69,308.38 69.3,308.48 69.6,308.25 69.9,308.52 70.2,307.59 70.5,308.06 70.8,308.53 71.1,308.78 71.4,308.8 71.7,308.19 72,307.8 72.3,308.13 72.6,309.09 72.9,308.71 73.2,308.27 73.5,307.83 73.8,308.29 74.1,308.24 74.4,308.53 74.7,308.52 75,307.68 75.3,308.16 75.6,308.61 75.9,308.28 76.2,307.99 76.5,307.92 76.8,307.86 77.1,309.06 77.4,309.34 77.7,309.13 78,310.32 78.3,310.56 78.6,311.23 78.9,311.26 79.2,310.89 79.5,310.34 79.8,310.07 80.1,309.28 80.4,308.66 80.7,308.54 81,308.38 81.3,308.53 81.6,308.17 81.9,308.43 82.2,308.57 82.5,308.78 82.8,308.26 83.1,308.51 83.4,308.54 83.7,308.19 84,307.7 84.3,308.02 84.6,308.59 84.9,308.38 85.2,309.15 85.5,308.82 85.8,308.3 86.1,308.35 86.4,308.55 86.7,308.62 87,308.4 87.3,308.56 87.6,309.43 87.9,309.02 88.2,308.65 88.5,308.33 88.8,307.81 89.1,308.29 89.4,308.25 89.7,308.35 90,308.22 90.3,308.61 90.6,308.83 90.9,308.31 91.2,307.94 91.5,308.38 91.8,308.86 92.1,308.68 92.4,308.66 92.7,308.03 93,308.12 93.3,308.52 93.6,308.57 93.9,308.46 94.2,308.62 94.5,308.76 94.8,308.55 95.1,308.22 95.4,307.9 95.7,308.33 96,308.33 96.3,308.33 96.6,308.75 96.9,308.3 97.2,308.29 97.5,308.59 97.8,308.18 98.1,307.64 98.4,308.01 98.7,308.56 99,308.26 99.3,308.29 99.6,307.77 99.9,308.61 100.2,307.9 100.5,308.04 100.8,308.25 101.1,309 101.4,308.63 101.7,308.24 102,307.88 102.3,308.15 102.6,307.94 102.9,308.07 103.2,308.33 103.5,308.78 103.8,308.17 104.1,308.78 104.4,307.89 104.7,308.89 105,308.35 105.3,308.27 105.6,308.22 105.9,308.43 106.2,308.4 106.5,308.3 106.8,308.15 107.1,308.16 107.4,308.36 107.7,308.22 108,308.13 108.3,307.86 108.6,308.26 108.9,308.52 109.2,308.12 109.5,308.65 109.8,308.47 110.1,308.46 110.4,307.88 110.7,308.45 111,308.83 111.3,309.17 111.6,308.44 111.9,308.4 112.2,308.65 112.5,308.66 112.8,308.28 113.1,308.39 113.4,308.72 113.7,308.69 114,308.48 114.3,308.77 114.6,308.04 114.9,308.44 115.2,308.21 115.5,308.23 115.8,308.62 116.1,309.04 116.4,308.75 116.7,308.56 117,308.99 117.3,308.83 117.6,307.83 117.9,308.04 118.2,308.09 118.5,308.1 118.8,307.84 119.1,308.45 119.4,308.48 119.7,309 120,308.5 120.3,308.48 120.6,308.2 120.9,308.68 121.2,308.9 121.5,309.1 121.8,308.95 122.1,308.39 122.4,308.8" fill="none" stroke="#000" stroke-width="1.15" />
<polyline points="13.8,324.71 14.1,323.61 14.4,323.88 14.7,323.71 15,323.4 15.3,323.44 15.6,323.47 15.9,323.66 16.2,323.92 16.5,324.26 16.8,324.02 17.1,324.32 17.4,324.13 17.7,323.93 18,323.73 18.3,323.35 18.6,322.98 18.9,323.5 19.2,323.62 19.5,323.86 19.8,323.93 20.1,323.29 20.4,323.33 20.7,323.17 21,324 21.3,323.79 21.6,323.82 21.9,323.4 22.2,323.13 22.5,323.33 22.8,323.59 23.1,323.9 23.4,322.71 23.7,318.61 24,320.23 24.3,323.32 24.6,323.52 24.9,323.51 25.2,323.87 25.5,324.16 25.8,324.02 26.1,323.61 26.4,323.89 26.7,323.95 27,324.17 27.3,323.99 27.6,323.16 27.9,323.26 28.2,323.44 28.5,324.05 28.8,323.79 29.1,324.14 29.4,323.99 29.7,323.34 30,323.65 30.3,323.95 30.6,323.99 30.9,323.21 31.2,323.77 31.5,323.52 31.8,322.81 32.1,323.24 32.4,322.79 32.7,322.94 33,324.11 33.3,324.88 33.6,324.53 33.9,324.17 34.2,324.67 34.5,324.17 34.8,323.48 35.1,322.66 35.4,323.8 35.7,322.84 36,322.3 36.3,323.05 36.6,323.57 36.9,323.34 37.2,324.07 37.5,323.81 37.8,323.86 38.1,323.98 38.4,323.58 38.7,323.79 39,324.74 39.3,323.66 39.6,323.8 39.9,323.99 40.2,323.61 40.5,323.7 40.8,323.03 41.1,323.36 41.4,323.66 41.7,324.2 42,324.29 42.3,323.68 42.6,323.28 42.9,324.38 43.2,324.32 43.5,323.14 43.8,323.44 44.1,323.29 44.4,323.37 44.7,322.93 45,323.34 45.3,323.42 45.6,323.57 45.9,324.14 46.2,323.98 46.5,323.32 46.8,322.91 47.1,323.29 47.4,324.11 47.7,324.27 48,323.67 48.3,324.23 48.6,324.09 48.9,323.61 49.2,323.91 49.5,323.78 49.8,323.31 50.1,323.45 50.4,323.75 50.7,324.32 51,323.5 51.3,323.8 51.6,323.79 51.9,323.76 52.2,323.26 52.5,324.15 52.8,324.44 53.1,324.65 53.4,324.24 53.7,324.54 54,324.23 54.3,324.34 54.6,323.81 54.9,323.88 55.2,323.68 55.5,323.31 55.8,323.46 56.1,323.21 56.4,323.14 56.7,323.43 57,323.42 57.3,324.55 57.6,324.76 57.9,324.53 58.2,324.34 58.5,323.59 58.8,323.84 59.1,323.19 59.4,323.34 59.7,323.45 60,323.53 60.3,324.07 60.6,323.54 60.9,324.73 61.2,323.85 61.5,324.17 61.8,323.23 62.1,324 62.4,323.33 62.7,323.73 63,323.77 63.3,324.13 63.6,324.15 63.9,324.06 64.2,323.81 64.5,324.62 64.8,323.84 65.1,323.81 65.4,323.6 65.7,323.79 66,323.38 66.3,323.49 66.6,323.91 66.9,323.58 67.2,323.92 67.5,323.58 67.8,324.33 68.1,323.89 68.4,324.56 68.7,324.23 69,323.87 69.3,324.21 69.6,324.41 69.9,324.62 70.2,324.63 70.5,324.42 70.8,323.48 71.1,324.09 71.4,323.84 71.7,323.98 72,324.38 72.3,323.66 72.6,324.31 72.9,324.96 73.2,324.37 73.5,323.83 73.8,324.38 74.1,324.04 74.4,324.31 74.7,324.48 75,323.36 75.3,323.79 75.6,323.15 75.9,323.29 76.2,323.82 76.5,322.72 76.8,321.13 77.1,319.42 77.4,320.25 77.7,322.44 78,323.99 78.3,324.84 78.6,326.5 78.9,328.52 79.2,327.73 79.5,325.73 79.8,324.76 80.1,323.66 80.4,323.34 80.7,324.12 81,323.86 81.3,322.86 81.6,323.19 81.9,324.43 82.2,325.17 82.5,324.07 82.8,324.16 83.1,324.21 83.4,324.04 83.7,323.09 84,323.99 84.3,323.96 84.6,323.73 84.9,323.08 85.2,323.3 85.5,323.59 85.8,323.61 86.1,323.83 86.4,323.63 86.7,324.16 87,324.15 87.3,323.4 87.6,323.41 87.9,323.84 88.2,323.56 88.5,324.3 88.8,323.71 89.1,323.86 89.4,324.06 89.7,323.38 90,324.18 90.3,323.81 90.6,323.49 90.9,323.4 91.2,322.95 91.5,322.95 91.8,324.16 92.1,323.84 92.4,323.67 92.7,323.83 93,324.03 93.3,323.52 93.6,323.61 93.9,323.84 94.2,324.22 94.5,324.02 94.8,324.55 95.1,323.91 95.4,323.67 95.7,323.16 96,323.57 96.3,323.98 96.6,323.73 96.9,323.69 97.2,323.34 97.5,323.4 97.8,323.47 98.1,323.65 98.4,324.19 98.7,324.11 99,324.26 99.3,324.41 99.6,323.77 99.9,324.34 100.2,323.96 100.5,323.27 100.8,323.37 101.1,323.62 101.4,323.08 101.7,324.53 102,323.98 102.3,324.2 102.6,323.39 102.9,323.7 103.2,323.86 103.5,323.48 103.8,323.79 104.1,323.78 104.4,323.93 104.7,323.31 105,323.85 105.3,323.67 105.6,323.38 105.9,322.73 106.2,323.38 106.5,323.5 106.8,324.68 107.1,323.54 107.4,324.32 107.7,324.46 108,324.15 108.3,323.99 108.6,324.04 108.9,323.23 109.2,324.2 109.5,323.76 109.8,323.45 110.1,323.67 110.4,322.58 110.7,322.85 111,323 111.3,322.88 111.6,323.74 111.9,324.43 112.2,323.97 112.5,323.69 112.8,323.88 113.1,323.59 113.4,323.77 113.7,323.94 114,323.72 114.3,323.58 114.6,323.74 114.9,323.78 115.2,324.05 115.5,323.22 115.8,323.13 116.1,323.37 116.4,323.85 116.7,323.24 117,324.11 117.3,324.47 117.6,323.66 117.9,324.2 118.2,323.01 118.5,323.49 118.8,323 119.1,323.98 119.4,324.18 119.7,324.1 120,323.61 120.3,323.24 120.6,323.77 120.9,323.54 121.2,323.97 121.5,323.15 121.8,323.75 122.1,323.96 122.4,322.86" fill="none" stroke="#000" stroke-width="1.2" />
<polyline points="43.4,236.5 48.3,233.3 53.9,236.5 58.9,233.6 64.7,236.5 69.7,233.6 75.3,236.5 80.6,233.4 85.9,236.3 92.1,236.3 96.1,233.2" fill="none" stroke="#2435cf" stroke-width="0.95" stroke-linejoin="round" stroke-linecap="round"/>
<line x1="86.6" y1="233.9" x2="91" y2="233.9" stroke="#2435cf" stroke-width="0.8" />
<polyline points="96.1,233.2 98.1,226.5 103.4,226.5 105.4,231.8 102.6,234.8" fill="none" stroke="#2435cf" stroke-width="0.95" stroke-linejoin="round"/>
<polyline points="99.4,235.6 96.1,233.2" fill="none" stroke="#2435cf" stroke-width="0.95" />
<line x1="105.4" y1="231.8" x2="109.6" y2="233.8" stroke="#2435cf" stroke-width="0.95" />
<line x1="105.9" y1="230.6" x2="109.9" y2="232.6" stroke="#2435cf" stroke-width="0.7" />
<line x1="92.4" y1="228.6" x2="96.1" y2="233.2" stroke="#2435cf" stroke-width="0.95" />
<text x="101" y="237.8" font-size="4.6" font-weight="bold" text-anchor="middle" fill="#2435cf" >O</text>
<text x="111.7" y="236.1" font-size="4.6" font-weight="bold" text-anchor="middle" fill="#2435cf" >O</text>
<text x="91.2" y="228.6" font-size="4.2" font-weight="bold" text-anchor="middle" fill="#2435cf" >H</text>
<text x="78.3" y="251.06" font-size="4.65" font-weight="bold" text-anchor="middle" textLength="31.5" lengthAdjust="spacingAndGlyphs" >(R)-Japonilure</text>
<rect x="3.3" y="354" width="123.5" height="138.4" fill="none" stroke="#333" stroke-width="0.9" />
<text x="4.4" y="367.4" font-size="12.8" >D</text>
<line x1="12.3" y1="357.3" x2="12.3" y2="472.4" stroke="#333" stroke-width="0.9" />
<line x1="12.3" y1="472.4" x2="120.9" y2="472.4" stroke="#333" stroke-width="0.9" />
<line x1="12.3" y1="472.4" x2="12.3" y2="475.6" stroke="#333" stroke-width="0.8" />
<text x="12.3" y="481.06" font-size="5.2" text-anchor="middle" fill="#333" >0</text>
<line x1="30.35" y1="472.4" x2="30.35" y2="475.6" stroke="#333" stroke-width="0.8" />
<text x="30.35" y="481.06" font-size="5.2" text-anchor="middle" fill="#333" >1</text>
<line x1="48.4" y1="472.4" x2="48.4" y2="475.6" stroke="#333" stroke-width="0.8" />
<text x="48.4" y="481.06" font-size="5.2" text-anchor="middle" fill="#333" >2</text>
<line x1="66.45" y1="472.4" x2="66.45" y2="475.6" stroke="#333" stroke-width="0.8" />
<text x="66.45" y="481.06" font-size="5.2" text-anchor="middle" fill="#333" >3</text>
<line x1="84.5" y1="472.4" x2="84.5" y2="475.6" stroke="#333" stroke-width="0.8" />
<text x="84.5" y="481.06" font-size="5.2" text-anchor="middle" fill="#333" >4</text>
<line x1="102.55" y1="472.4" x2="102.55" y2="475.6" stroke="#333" stroke-width="0.8" />
<text x="102.55" y="481.06" font-size="5.2" text-anchor="middle" fill="#333" >5</text>
<line x1="120.6" y1="472.4" x2="120.6" y2="475.6" stroke="#333" stroke-width="0.8" />
<text x="120.6" y="481.06" font-size="5.2" text-anchor="middle" fill="#333" >6</text>
<text x="68.4" y="488.47" font-size="4.96" text-anchor="middle" fill="#333" textLength="46" lengthAdjust="spacingAndGlyphs" >Retention time  (min)</text>
<text font-size="4.97" text-anchor="middle" fill="#333" textLength="55.5" lengthAdjust="spacingAndGlyphs" transform="translate(10.5 415) rotate(-90)" >FID and EAD Responses</text>
<line x1="13.9" y1="419.4" x2="23.4" y2="419.4" stroke="#bbb" stroke-width="0.6" />
<polyline points="23.4,411.4 23.4,357.7 37.2,357.7 37.2,415.4" fill="none" stroke="#333" stroke-width="0.8" />
<polyline points="37.2,415.4 37.2,415.2 37.5,416.77 37.8,417.73 38.1,418.31 38.4,418.66 38.7,418.87 39,419 39.3,419.08 39.6,419.13 39.9,419.16 40.2,419.17 40.5,419.18 40.8,419.19 41.1,419.19 41.4,419.2 41.7,419.2 42,419.2 42.3,419.2 42.6,419.2 42.9,419.2 43.2,419.2 43.5,419.2 43.8,419.2 44.1,419.2 44.4,419.2 44.7,419.2 45,419.2 45.3,419.2 45.6,419.2 45.9,419.2 46.2,419.2 46.5,419.2 46.8,419.2 47.1,419.2 47.4,419.2 47.7,419.2 48,419.2 48.3,419.2 48.6,419.2 48.9,419.2 49.2,419.2 49.5,419.2 49.8,419.2 50.1,419.2 50.4,419.2 50.7,419.2 51,419.2 51.3,419.2 51.6,419.2 51.9,419.2 52.2,419.2 52.5,419.2 52.8,419.2 53.1,419.2 53.4,419.2 53.7,419.2 54,419.2 54.3,419.2 54.6,419.2 54.9,419.2 55.2,419.2 55.5,419.2 55.8,419.2 56.1,419.2 56.4,419.2 56.7,419.2 57,419.2 57.3,419.2 57.6,419.2 57.9,419.2 58.2,419.2 58.5,419.2 58.8,419.2 59.1,419.2 59.4,419.2 59.7,419.2 60,419.2 60.3,419.2 60.6,419.2 60.9,419.2 61.2,419.2 61.5,419.2 61.8,419.2 62.1,419.2 62.4,419.2 62.7,419.2 63,419.2 63.3,419.2 63.6,419.2 63.9,419.2 64.2,419.2 64.5,419.2 64.8,419.2 65.1,419.2 65.4,419.2 65.7,419.2 66,419.2 66.3,419.2 66.6,419.2 66.9,419.2 67.2,419.2 67.5,419.2 67.8,419.19 68.1,419.19 68.4,419.19 68.7,419.19 69,419.19 69.3,419.19 69.6,419.19 69.9,419.18 70.2,419.18 70.5,419.18 70.8,419.18 71.1,419.17 71.4,419.17 71.7,419.16 72,419.16 72.3,419.15 72.6,419.14 72.9,419.13 73.2,419.12 73.5,419.1 73.8,419.09 74.1,419.07 74.4,419.05 74.7,419.03 75,418.99 75.3,418.89 75.6,418.24 75.9,415.31 76.2,407.57 76.5,397.26 76.8,392.71 77.1,400.34 77.4,410.58 77.7,416.28 78,418.05 78.3,418.44 78.6,418.57 78.9,418.66 79.2,418.73 79.5,418.8 79.8,418.85 80.1,418.9 80.4,418.94 80.7,418.98 81,419.01 81.3,419.04 81.6,419.06 81.9,419.08 82.2,419.1 82.5,419.11 82.8,419.12 83.1,419.13 83.4,419.14 83.7,419.15 84,419.16 84.3,419.16 84.6,419.17 84.9,419.17 85.2,419.18 85.5,419.18 85.8,419.18 86.1,419.19 86.4,419.19 86.7,419.19 87,419.19 87.3,419.19 87.6,419.19 87.9,419.19 88.2,419.19 88.5,419.2 88.8,419.2 89.1,419.2 89.4,419.2 89.7,419.2 90,419.2 90.3,419.2 90.6,419.2 90.9,419.2 91.2,419.2 91.5,419.2 91.8,419.2 92.1,419.2 92.4,419.2 92.7,419.2 93,419.2 93.3,419.2 93.6,419.2 93.9,419.2 94.2,419.2 94.5,419.2 94.8,419.2 95.1,419.2 95.4,419.2 95.7,419.2 96,419.2 96.3,419.2 96.6,419.2 96.9,419.2 97.2,419.2 97.5,419.2 97.8,419.2 98.1,419.2 98.4,419.2 98.7,419.2 99,419.2 99.3,419.2 99.6,419.2 99.9,419.2 100.2,419.2 100.5,419.2 100.8,419.2 101.1,419.2 101.4,419.2 101.7,419.2 102,419.2 102.3,419.2 102.6,419.2 102.9,419.2 103.2,419.2 103.5,419.2 103.8,419.2 104.1,419.2 104.4,419.2 104.7,419.2 105,419.2 105.3,419.2 105.6,419.2 105.9,419.2 106.2,419.2 106.5,419.2 106.8,419.2 107.1,419.2 107.4,419.2 107.7,419.2 108,419.2 108.3,419.2 108.6,419.2 108.9,419.2 109.2,419.2 109.5,419.2 109.8,419.2 110.1,419.2 110.4,419.2 110.7,419.2 111,419.2 111.3,419.2 111.6,419.2 111.9,419.2 112.2,419.2 112.5,419.2 112.8,419.2 113.1,419.2 113.4,419.2 113.7,419.2 114,419.2 114.3,419.2 114.6,419.2 114.9,419.2 115.2,419.2 115.5,419.2 115.8,419.2 116.1,419.2 116.4,419.2 116.7,419.2 117,419.2 117.3,419.2 117.6,419.2 117.9,419.2 118.2,419.2 118.5,419.2 118.8,419.2 119.1,419.2 119.4,419.2 119.7,419.2 120,419.2 120.3,419.2 120.6,419.2" fill="none" stroke="#999" stroke-width="0.7" stroke-linejoin="round" stroke-dasharray="1.4 0.7"/>
<polyline points="12.8,432.31 13.1,432.24 13.4,431.95 13.7,432.33 14,432.31 14.3,432.31 14.6,432.28 14.9,432.59 15.2,432.53 15.5,432.59 15.8,432.25 16.1,432.11 16.4,431.94 16.7,432.07 17,431.53 17.3,432.38 17.6,432.29 17.9,432.25 18.2,432.42 18.5,432.18 18.8,432.26 19.1,432.4 19.4,431.9 19.7,432.52 20,432.33 20.3,432.39 20.6,432.02 20.9,432 21.2,432.54 21.5,432.18 21.8,432.1 22.1,432.29 22.4,432.57 22.7,431.74 23,432.42 23.3,432.33 23.6,432.46 23.9,432.04 24.2,432.23 24.5,432.59 24.8,432.3 25.1,432.09 25.4,432.07 25.7,432.04 26,432.34 26.3,432.29 26.6,432.12 26.9,432.37 27.2,432 27.5,431.81 27.8,432.67 28.1,432.19 28.4,432.59 28.7,432.3 29,432.18 29.3,432.32 29.6,432.04 29.9,431.96 30.2,432.08 30.5,432.08 30.8,432.34 31.1,432.71 31.4,432.08 31.7,431.96 32,432.31 32.3,432.36 32.6,432.52 32.9,432.12 33.2,432.32 33.5,432.23 33.8,431.83 34.1,432.2 34.4,431.84 34.7,432.22 35,432.1 35.3,432.13 35.6,432.69 35.9,432.71 36.2,432.46 36.5,432.38 36.8,432.08 37.1,432.46 37.4,432.43 37.7,432.07 38,431.77 38.3,432.08 38.6,432.13 38.9,432.39 39.2,432.02 39.5,431.94 39.8,432.23 40.1,432.23 40.4,432.44 40.7,432.54 41,432.09 41.3,431.61 41.6,432.04 41.9,431.99 42.2,432.2 42.5,431.56 42.8,431.99 43.1,432.16 43.4,432.06 43.7,432.29 44,432.26 44.3,432.28 44.6,432.53 44.9,432.61 45.2,432.61 45.5,432.42 45.8,432.3 46.1,432.37 46.4,432.33 46.7,432.07 47,432.26 47.3,432.44 47.6,432.18 47.9,431.94 48.2,432.26 48.5,432.05 48.8,431.81 49.1,432.03 49.4,431.81 49.7,432.17 50,432.07 50.3,432.19 50.6,432.47 50.9,432.55 51.2,432.29 51.5,431.7 51.8,431.94 52.1,431.85 52.4,432.31 52.7,432.61 53,432.49 53.3,432.44 53.6,432.41 53.9,432.43 54.2,432.19 54.5,432.41 54.8,432.2 55.1,431.93 55.4,432.14 55.7,432.56 56,432.27 56.3,431.81 56.6,432.38 56.9,432.32 57.2,432.37 57.5,432.15 57.8,432.3 58.1,432.62 58.4,432.18 58.7,432.36 59,432.34 59.3,432.04 59.6,432.2 59.9,432.35 60.2,432.05 60.5,432.44 60.8,432.02 61.1,432.42 61.4,432.42 61.7,432.33 62,432.06 62.3,431.98 62.6,431.62 62.9,432.03 63.2,432.12 63.5,432.31 63.8,432.48 64.1,432.34 64.4,432.17 64.7,432.43 65,432.27 65.3,432.22 65.6,431.94 65.9,432.38 66.2,432.1 66.5,432.63 66.8,432.13 67.1,432.07 67.4,432.19 67.7,432.04 68,431.82 68.3,431.82 68.6,431.9 68.9,432.06 69.2,432.4 69.5,432.42 69.8,432.35 70.1,432.44 70.4,431.77 70.7,431.93 71,432 71.3,431.9 71.6,432.23 71.9,432.06 72.2,431.91 72.5,432.33 72.8,432.09 73.1,432.12 73.4,431.83 73.7,432.31 74,432.25 74.3,432.56 74.6,432.83 74.9,432.55 75.2,432.23 75.5,432.03 75.8,432.54 76.1,432.26 76.4,432.37 76.7,432.31 77,431.45 77.3,432.02 77.6,432.19 77.9,432.25 78.2,432.19 78.5,432.26 78.8,431.99 79.1,432.28 79.4,432.11 79.7,432.22 80,432.6 80.3,432.38 80.6,432.02 80.9,432.24 81.2,431.88 81.5,432.15 81.8,432.52 82.1,432.06 82.4,432.13 82.7,431.98 83,432.18 83.3,432.28 83.6,432.27 83.9,432.16 84.2,431.75 84.5,431.86 84.8,432 85.1,432.34 85.4,431.78 85.7,432.33 86,432.07 86.3,431.78 86.6,432.42 86.9,432.35 87.2,432.03 87.5,432.22 87.8,432.35 88.1,431.92 88.4,432.42 88.7,432.07 89,432.36 89.3,432.12 89.6,431.81 89.9,431.95 90.2,432.01 90.5,432.18 90.8,431.81 91.1,431.86 91.4,432.17 91.7,432.11 92,432.06 92.3,432.26 92.6,431.92 92.9,432.58 93.2,432.15 93.5,432.27 93.8,432.19 94.1,432.43 94.4,432.17 94.7,432.02 95,432.21 95.3,432.35 95.6,432.21 95.9,432.68 96.2,432.52 96.5,432.62 96.8,432.63 97.1,432.57 97.4,432.27 97.7,432.6 98,432.24 98.3,432.25 98.6,432.54 98.9,432.52 99.2,432.05 99.5,432.09 99.8,431.96 100.1,432.4 100.4,432.18 100.7,432.2 101,432.05 101.3,432.04 101.6,432.31 101.9,432.01 102.2,432.16 102.5,432.08 102.8,432.08 103.1,431.87 103.4,432.37 103.7,431.88 104,431.83 104.3,431.99 104.6,432.16 104.9,432.02 105.2,431.77 105.5,431.96 105.8,431.9 106.1,431.96 106.4,432.5 106.7,431.82 107,432.08 107.3,432.25 107.6,432.12 107.9,432.09 108.2,432.41 108.5,432.22 108.8,431.81 109.1,432 109.4,432.22 109.7,432.12 110,432.04 110.3,432.19 110.6,432.08 110.9,432.19 111.2,432.35 111.5,432.1 111.8,431.81 112.1,432.38 112.4,432.34 112.7,432.06 113,431.83 113.3,432.09 113.6,432.21 113.9,432.31 114.2,432.32 114.5,432.13 114.8,432.09 115.1,431.82 115.4,431.92 115.7,432 116,432.38 116.3,431.95 116.6,432.55 116.9,432.51 117.2,432.17 117.5,432.05 117.8,432.21 118.1,432.29 118.4,432.39 118.7,431.86 119,432.02 119.3,432.26 119.6,432.42 119.9,432.37 120.2,432.23 120.5,432.28" fill="none" stroke="#000" stroke-width="0.75" />
<polyline points="12.8,447.12 13.1,447.1 13.4,446.89 13.7,447.37 14,446.79 14.3,446.95 14.6,447.18 14.9,447.19 15.2,447.19 15.5,446.85 15.8,447.35 16.1,446.96 16.4,446.98 16.7,447 17,447 17.3,446.9 17.6,447.29 17.9,447.11 18.2,447.24 18.5,446.75 18.8,447.05 19.1,446.98 19.4,447.08 19.7,447.07 20,447.12 20.3,447.02 20.6,447.03 20.9,447.04 21.2,447.07 21.5,447.04 21.8,446.94 22.1,447.08 22.4,446.85 22.7,447.38 23,447.3 23.3,447.41 23.6,447.1 23.9,446.77 24.2,446.63 24.5,446.73 24.8,446.8 25.1,446.86 25.4,446.89 25.7,447.1 26,446.55 26.3,447.21 26.6,447 26.9,447.03 27.2,446.65 27.5,446.95 27.8,446.69 28.1,447.01 28.4,447.06 28.7,447.06 29,446.98 29.3,446.94 29.6,446.92 29.9,447.16 30.2,447.07 30.5,447.07 30.8,447.51 31.1,447.17 31.4,446.87 31.7,446.5 32,446.35 32.3,446.83 32.6,447.13 32.9,446.83 33.2,446.71 33.5,446.88 33.8,446.99 34.1,447.19 34.4,447.03 34.7,446.88 35,447.1 35.3,446.84 35.6,446.66 35.9,446.67 36.2,446.84 36.5,446.86 36.8,446.96 37.1,447 37.4,447.48 37.7,447.23 38,446.63 38.3,446.6 38.6,446.91 38.9,446.8 39.2,447.38 39.5,447.02 39.8,446.93 40.1,447 40.4,446.95 40.7,447.09 41,446.97 41.3,447.05 41.6,446.89 41.9,446.42 42.2,446.91 42.5,447.31 42.8,446.9 43.1,446.85 43.4,447.12 43.7,446.93 44,447 44.3,446.95 44.6,447.11 44.9,447.01 45.2,447.41 45.5,447.13 45.8,446.99 46.1,446.7 46.4,446.93 46.7,446.79 47,447.07 47.3,447.14 47.6,447.58 47.9,447.01 48.2,447.03 48.5,447.22 48.8,446.65 49.1,447.03 49.4,447.38 49.7,447.13 50,447.03 50.3,447.26 50.6,447.14 50.9,447.1 51.2,447.21 51.5,446.9 51.8,447.36 52.1,447.04 52.4,447.01 52.7,446.93 53,446.45 53.3,446.5 53.6,446.78 53.9,446.93 54.2,447.22 54.5,447.61 54.8,447.33 55.1,447.08 55.4,446.89 55.7,447.26 56,446.95 56.3,446.98 56.6,447.27 56.9,447.05 57.2,446.99 57.5,447.03 57.8,446.68 58.1,446.88 58.4,447 58.7,447.08 59,446.95 59.3,446.54 59.6,446.7 59.9,447.07 60.2,446.86 60.5,446.78 60.8,447.04 61.1,447.13 61.4,447.07 61.7,447.15 62,447.21 62.3,447.17 62.6,447.13 62.9,447.42 63.2,446.9 63.5,447.43 63.8,447.19 64.1,446.91 64.4,447.12 64.7,447.25 65,446.83 65.3,446.99 65.6,447.17 65.9,447.22 66.2,447.08 66.5,446.81 66.8,446.93 67.1,447.43 67.4,446.94 67.7,447.61 68,447.18 68.3,447.04 68.6,446.9 68.9,447.01 69.2,447.05 69.5,446.81 69.8,447.37 70.1,447.36 70.4,447.19 70.7,446.8 71,446.87 71.3,446.93 71.6,447.15 71.9,447.03 72.2,446.78 72.5,446.9 72.8,446.93 73.1,446.99 73.4,447.18 73.7,446.91 74,446.66 74.3,447.14 74.6,447.25 74.9,446.83 75.2,447.1 75.5,446.93 75.8,447.13 76.1,447.15 76.4,446.76 76.7,446.72 77,446.89 77.3,446.69 77.6,446.67 77.9,446.72 78.2,446.89 78.5,446.95 78.8,446.83 79.1,446.9 79.4,447.22 79.7,447.19 80,447.14 80.3,446.91 80.6,446.84 80.9,446.71 81.2,446.74 81.5,446.55 81.8,446.84 82.1,446.87 82.4,446.83 82.7,446.82 83,446.69 83.3,447.06 83.6,447.15 83.9,447.29 84.2,447.16 84.5,447.02 84.8,447.19 85.1,446.81 85.4,446.66 85.7,447.09 86,447.13 86.3,447.1 86.6,447.31 86.9,447.09 87.2,447.08 87.5,447.12 87.8,446.8 88.1,447.02 88.4,447.13 88.7,447.03 89,446.87 89.3,446.8 89.6,446.49 89.9,446.68 90.2,447.18 90.5,447.31 90.8,447.08 91.1,446.87 91.4,447.2 91.7,447.29 92,447.2 92.3,446.91 92.6,447.14 92.9,447.24 93.2,446.98 93.5,446.83 93.8,446.87 94.1,447.01 94.4,447.09 94.7,447.14 95,447.05 95.3,446.91 95.6,447.05 95.9,447.23 96.2,447.1 96.5,447.17 96.8,447.04 97.1,446.87 97.4,446.88 97.7,446.93 98,446.67 98.3,446.87 98.6,446.84 98.9,446.99 99.2,447.16 99.5,447.08 99.8,446.95 100.1,447.03 100.4,446.8 100.7,447.05 101,447.29 101.3,447.2 101.6,447.36 101.9,447.02 102.2,446.65 102.5,447.01 102.8,447.46 103.1,446.97 103.4,447.32 103.7,446.99 104,447.32 104.3,446.98 104.6,446.94 104.9,447.08 105.2,446.71 105.5,446.94 105.8,446.96 106.1,447.18 106.4,447.1 106.7,447.06 107,447 107.3,447.39 107.6,447.22 107.9,447.11 108.2,446.61 108.5,447.19 108.8,447.07 109.1,447.08 109.4,447.2 109.7,447.12 110,447.33 110.3,447.11 110.6,447.15 110.9,447.1 111.2,447.17 111.5,447.12 111.8,447.14 112.1,447.1 112.4,447.08 112.7,447.16 113,446.92 113.3,446.83 113.6,446.96 113.9,447.02 114.2,447.27 114.5,446.79 114.8,447.23 115.1,446.97 115.4,446.83 115.7,447.02 116,447.08 116.3,447.23 116.6,446.66 116.9,447.13 117.2,447.13 117.5,447.34 117.8,447.07 118.1,446.73 118.4,446.87 118.7,446.92 119,447.12 119.3,447.23 119.6,446.66 119.9,446.59 120.2,446.91 120.5,446.84" fill="none" stroke="#000" stroke-width="1" />
<polyline points="12.8,462.04 13.1,462.1 13.4,462.31 13.7,462.15 14,462.01 14.3,461.87 14.6,462.25 14.9,461.67 15.2,460.62 15.5,461.47 15.8,461.67 16.1,462.11 16.4,462.03 16.7,462.18 17,462.53 17.3,462.27 17.6,462.24 17.9,462.44 18.2,462.28 18.5,462.29 18.8,462.04 19.1,462.02 19.4,461.87 19.7,462.34 20,462.54 20.3,462.26 20.6,462.25 20.9,462.19 21.2,462.79 21.5,462.64 21.8,462.37 22.1,462.46 22.4,462.61 22.7,462.19 23,462.39 23.3,462.45 23.6,462.35 23.9,462.48 24.2,462.6 24.5,462.4 24.8,462.26 25.1,462.48 25.4,462.39 25.7,462.42 26,462.73 26.3,462.51 26.6,462.36 26.9,462.06 27.2,462.31 27.5,462.38 27.8,462.45 28.1,462.46 28.4,462.5 28.7,462.42 29,462.37 29.3,462.45 29.6,462.22 29.9,462.09 30.2,462.05 30.5,462.26 30.8,461.95 31.1,462.11 31.4,462.22 31.7,462.35 32,462.12 32.3,462.27 32.6,462.31 32.9,462.21 33.2,462.3 33.5,462.27 33.8,462.08 34.1,462.18 34.4,462.1 34.7,462.62 35,462.36 35.3,462.2 35.6,462 35.9,462.22 36.2,462.36 36.5,462.34 36.8,462.05 37.1,462.03 37.4,462.02 37.7,462.26 38,462.13 38.3,462.24 38.6,462.65 38.9,462.05 39.2,462.18 39.5,462.27 39.8,462 40.1,462.43 40.4,462.3 40.7,462.38 41,462.45 41.3,462.63 41.6,462.28 41.9,462.18 42.2,462.02 42.5,461.98 42.8,462.57 43.1,462.3 43.4,461.97 43.7,462.35 44,462.67 44.3,462.23 44.6,462.28 44.9,462.03 45.2,461.83 45.5,462.13 45.8,462.02 46.1,461.99 46.4,462.22 46.7,462.36 47,462.29 47.3,462.56 47.6,462.26 47.9,462.23 48.2,462.46 48.5,462.8 48.8,462.86 49.1,462.67 49.4,462.45 49.7,462.09 50,462.54 50.3,462.36 50.6,462.79 50.9,462.47 51.2,461.97 51.5,462.43 51.8,462.38 52.1,462.22 52.4,462.32 52.7,462.32 53,462.37 53.3,461.97 53.6,462.22 53.9,462.37 54.2,462.08 54.5,462.5 54.8,462.34 55.1,461.91 55.4,462.51 55.7,462.3 56,462.32 56.3,462.27 56.6,462.69 56.9,462.43 57.2,462.21 57.5,462.15 57.8,462.38 58.1,462.45 58.4,462.22 58.7,462.47 59,462.22 59.3,462.32 59.6,462.42 59.9,462.4 60.2,462.39 60.5,462.39 60.8,462.24 61.1,462.34 61.4,462.39 61.7,462.09 62,461.96 62.3,462.27 62.6,462.29 62.9,462.34 63.2,462.47 63.5,462.44 63.8,462.24 64.1,462.4 64.4,462.2 64.7,462.62 65,462.62 65.3,462.41 65.6,462.21 65.9,462.38 66.2,462.3 66.5,462.16 66.8,462.37 67.1,462.35 67.4,462.5 67.7,462.33 68,462.7 68.3,462.78 68.6,462.14 68.9,461.86 69.2,461.99 69.5,462.52 69.8,462.51 70.1,462.4 70.4,462.4 70.7,462.1 71,462.29 71.3,462.1 71.6,462.3 71.9,462.24 72.2,462.19 72.5,462.18 72.8,462.39 73.1,462.72 73.4,462.1 73.7,462.39 74,462.26 74.3,462.6 74.6,462.63 74.9,462.24 75.2,462.31 75.5,462.6 75.8,462.73 76.1,462.32 76.4,462.12 76.7,462.31 77,462.58 77.3,462.58 77.6,462.46 77.9,462.47 78.2,462.47 78.5,462.37 78.8,462.15 79.1,462.41 79.4,462.43 79.7,462.53 80,462.37 80.3,462.23 80.6,462.44 80.9,462.52 81.2,462.74 81.5,462.18 81.8,462.18 82.1,462.23 82.4,462.72 82.7,461.98 83,462.4 83.3,462.19 83.6,462.07 83.9,462.41 84.2,462.49 84.5,461.74 84.8,461.89 85.1,462.19 85.4,462.17 85.7,462.49 86,462.2 86.3,462.23 86.6,461.85 86.9,462.28 87.2,462.31 87.5,462.45 87.8,462.21 88.1,462.65 88.4,462.28 88.7,462.65 89,462.77 89.3,462.27 89.6,462.33 89.9,462.19 90.2,461.91 90.5,462.3 90.8,462.31 91.1,462.57 91.4,462.7 91.7,462.08 92,462.18 92.3,462.34 92.6,462.48 92.9,462.39 93.2,462.17 93.5,462.21 93.8,462.4 94.1,462.07 94.4,461.96 94.7,461.94 95,462.05 95.3,462.48 95.6,462.26 95.9,462.42 96.2,462.6 96.5,462.62 96.8,462.44 97.1,462.31 97.4,462.29 97.7,462.23 98,462.13 98.3,462.33 98.6,462.48 98.9,462.23 99.2,462.09 99.5,462.23 99.8,462.27 100.1,462.44 100.4,462.37 100.7,462.34 101,462 101.3,462.11 101.6,462.17 101.9,462.12 102.2,462.33 102.5,462.3 102.8,462.14 103.1,462.33 103.4,462.53 103.7,462.83 104,462.44 104.3,462.24 104.6,462.44 104.9,462.67 105.2,462.29 105.5,462.42 105.8,462.28 106.1,462.47 106.4,462.2 106.7,462.18 107,462.2 107.3,462.23 107.6,462.02 107.9,462.16 108.2,462.09 108.5,462.6 108.8,462.65 109.1,462.28 109.4,462.19 109.7,462.33 110,462.19 110.3,462.15 110.6,462.38 110.9,462.54 111.2,462.46 111.5,462.62 111.8,462.4 112.1,462.3 112.4,462.21 112.7,462.18 113,462.1 113.3,462.51 113.6,462.53 113.9,462.33 114.2,462.31 114.5,462.12 114.8,462.36 115.1,462.27 115.4,462.25 115.7,462.21 116,461.97 116.3,462.08 116.6,462.52 116.9,462.19 117.2,462.07 117.5,462.17 117.8,462.06 118.1,462.02 118.4,461.97 118.7,462 119,462.2 119.3,461.8 119.6,461.85 119.9,461.88 120.2,462.16 120.5,462.06" fill="none" stroke="#000" stroke-width="0.85" />
<polyline points="43.4,370.5 48.7,373.6 53.9,370.8 59.4,373.8 64.5,370.8 70,373.8 75.3,370.8 80.9,373.8 85.9,370.8 92.1,370.8 96.1,374" fill="none" stroke="#d9341a" stroke-width="0.95" stroke-linejoin="round" stroke-linecap="round"/>
<line x1="86.8" y1="372.8" x2="91.2" y2="372.8" stroke="#d9341a" stroke-width="0.8" />
<polyline points="96.1,374 97.9,368.3 103.2,367.8 105.4,373.6 102.7,376.2" fill="none" stroke="#d9341a" stroke-width="0.95" stroke-linejoin="round"/>
<polyline points="99.3,376.6 96.1,374" fill="none" stroke="#d9341a" stroke-width="0.95" />
<line x1="105.4" y1="373.6" x2="109.6" y2="375.1" stroke="#d9341a" stroke-width="0.95" />
<line x1="105.8" y1="372.4" x2="109.9" y2="373.9" stroke="#d9341a" stroke-width="0.7" />
<line x1="92" y1="377" x2="96.1" y2="374" stroke="#d9341a" stroke-width="0.95" />
<text x="101" y="379.2" font-size="4.6" font-weight="bold" text-anchor="middle" fill="#d9341a" >O</text>
<text x="111.7" y="377.2" font-size="4.6" font-weight="bold" text-anchor="middle" fill="#d9341a" >O</text>
<text x="90.4" y="380" font-size="4.2" font-weight="bold" text-anchor="middle" fill="#d9341a" >H</text>
<text x="77.5" y="390.45" font-size="4.61" font-weight="bold" text-anchor="middle" textLength="31" lengthAdjust="spacingAndGlyphs" >(S)-Japonilure</text>
<rect x="137.7" y="322.8" width="124.1" height="170.2" fill="none" stroke="#333" stroke-width="0.9" />
<text x="146" y="335.4" font-size="12" >F</text>
<line x1="160.5" y1="341.1" x2="160.5" y2="397.3" stroke="#000" stroke-width="0.9" />
<line x1="160.1" y1="397.3" x2="244.6" y2="397.3" stroke="#000" stroke-width="0.9" />
<line x1="157.8" y1="397.3" x2="160.5" y2="397.3" stroke="#000" stroke-width="0.8" />
<text x="157.7" y="399.09" font-size="5" font-weight="bold" text-anchor="end" >12</text>
<line x1="157.8" y1="378.73" x2="160.5" y2="378.73" stroke="#000" stroke-width="0.8" />
<text x="157.7" y="380.52" font-size="5" font-weight="bold" text-anchor="end" >14</text>
<line x1="157.8" y1="360.17" x2="160.5" y2="360.17" stroke="#000" stroke-width="0.8" />
<text x="157.7" y="361.96" font-size="5" font-weight="bold" text-anchor="end" >16</text>
<line x1="157.8" y1="341.6" x2="160.5" y2="341.6" stroke="#000" stroke-width="0.8" />
<text x="157.7" y="343.39" font-size="5" font-weight="bold" text-anchor="end" >18</text>
<line x1="160.5" y1="397.3" x2="160.5" y2="399.5" stroke="#000" stroke-width="0.8" />
<text x="160.5" y="404.39" font-size="5" font-weight="bold" text-anchor="middle" >25</text>
<line x1="202.4" y1="397.3" x2="202.4" y2="399.5" stroke="#000" stroke-width="0.8" />
<text x="202.4" y="404.39" font-size="5" font-weight="bold" text-anchor="middle" >30</text>
<line x1="244.2" y1="397.3" x2="244.2" y2="399.5" stroke="#000" stroke-width="0.8" />
<text x="244.2" y="404.39" font-size="5" font-weight="bold" text-anchor="middle" >35</text>
<text x="202.4" y="413.35" font-size="5.44" font-weight="bold" text-anchor="middle" textLength="27.4" lengthAdjust="spacingAndGlyphs" >Time (min)</text>
<text font-size="5.93" font-weight="bold" text-anchor="middle" textLength="53" lengthAdjust="spacingAndGlyphs" transform="translate(149.5 367.8) rotate(-90)" >FID Response (pA)</text>
<polyline points="161,385.24 161.3,385.24 161.6,385.24 161.9,385.24 162.2,385.25 162.5,385.25 162.8,385.25 163.1,385.25 163.4,385.26 163.7,385.26 164,385.26 164.3,385.26 164.6,385.27 164.9,385.27 165.2,385.27 165.5,385.27 165.8,385.28 166.1,385.28 166.4,385.28 166.7,385.28 167,385.29 167.3,385.29 167.6,385.29 167.9,385.29 168.2,385.3 168.5,385.3 168.8,385.3 169.1,385.3 169.4,385.31 169.7,385.31 170,385.31 170.3,385.31 170.6,385.32 170.9,385.32 171.2,385.32 171.5,385.32 171.8,385.33 172.1,385.33 172.4,385.33 172.7,385.33 173,385.34 173.3,385.34 173.6,385.34 173.9,385.34 174.2,385.35 174.5,385.35 174.8,385.35 175.1,385.35 175.4,385.36 175.7,385.36 176,385.36 176.3,385.36 176.6,385.37 176.9,385.37 177.2,385.37 177.5,385.37 177.8,385.38 178.1,385.38 178.4,385.38 178.7,385.38 179,385.39 179.3,385.39 179.6,385.39 179.9,385.39 180.2,385.4 180.5,385.4 180.8,385.4 181.1,385.4 181.4,385.41 181.7,385.41 182,385.41 182.3,385.41 182.6,385.42 182.9,385.42 183.2,385.42 183.5,385.42 183.8,385.43 184.1,385.43 184.4,385.43 184.7,385.43 185,385.44 185.3,385.44 185.6,385.44 185.9,385.44 186.2,385.45 186.5,385.45 186.8,385.45 187.1,385.45 187.4,385.46 187.7,385.46 188,385.46 188.3,385.46 188.6,385.47 188.9,385.47 189.2,385.47 189.5,385.47 189.8,385.48 190.1,385.48 190.4,385.48 190.7,385.48 191,385.49 191.3,385.49 191.6,385.49 191.9,385.49 192.2,385.5 192.5,385.5 192.8,385.5 193.1,385.5 193.4,385.51 193.7,385.51 194,385.51 194.3,385.51 194.6,385.52 194.9,385.52 195.2,385.52 195.5,385.52 195.8,385.53 196.1,385.53 196.4,385.53 196.7,385.53 197,385.54 197.3,385.54 197.6,385.54 197.9,385.54 198.2,385.55 198.5,385.55 198.8,385.55 199.1,385.55 199.4,385.56 199.7,385.56 200,385.56 200.3,385.56 200.6,385.57 200.9,385.57 201.2,385.57 201.5,385.57 201.8,385.58 202.1,385.58 202.4,385.58 202.7,385.58 203,385.59 203.3,385.59 203.6,385.59 203.9,385.59 204.2,385.6 204.5,385.6 204.8,385.6 205.1,385.6 205.4,385.61 205.7,385.61 206,385.61 206.3,385.61 206.6,385.62 206.9,385.61 207.2,385.6 207.5,385.58 207.8,385.51 208.1,385.36 208.4,385.05 208.7,384.47 209,383.46 209.3,381.87 209.6,379.54 209.9,376.45 210.2,372.73 210.5,368.73 210.8,365.01 211.1,362.17 211.4,360.75 211.7,361.05 212,362.99 212.3,366.19 212.6,370.08 212.9,374.04 213.2,377.59 213.5,380.43 213.8,382.51 214.1,383.9 214.4,384.75 214.7,385.23 215,385.48 215.3,385.6 215.6,385.66 215.9,385.68 216.2,385.69 216.5,385.7 216.8,385.7 217.1,385.69 217.4,385.66 217.7,385.59 218,385.43 218.3,385.12 218.6,384.53 218.9,383.53 219.2,381.98 219.5,379.78 219.8,376.97 220.1,373.76 220.4,370.56 220.7,367.89 221,366.26 221.3,366.02 221.6,367.22 221.9,369.6 222.2,372.69 222.5,375.95 222.8,378.93 223.1,381.35 223.4,383.12 223.7,384.29 224,385.01 224.3,385.4 224.6,385.61 224.9,385.7 225.2,385.75 225.5,385.77 225.8,385.77 226.1,385.78 226.4,385.78 226.7,385.79 227,385.79 227.3,385.79 227.6,385.79 227.9,385.8 228.2,385.8 228.5,385.8 228.8,385.8 229.1,385.81 229.4,385.81 229.7,385.81 230,385.81 230.3,385.82 230.6,385.82 230.9,385.82 231.2,385.82 231.5,385.83 231.8,385.83 232.1,385.83 232.4,385.83 232.7,385.84 233,385.84 233.3,385.84 233.6,385.84 233.9,385.85 234.2,385.85 234.5,385.85 234.8,385.85 235.1,385.86 235.4,385.86 235.7,385.86 236,385.86 236.3,385.87 236.6,385.87 236.9,385.87 237.2,385.87 237.5,385.88 237.8,385.88 238.1,385.88 238.4,385.88 238.7,385.89 239,385.89 239.3,385.89 239.6,385.89 239.9,385.9 240.2,385.9 240.5,385.9 240.8,385.9 241.1,385.91 241.4,385.91 241.7,385.91 242,385.91 242.3,385.92 242.6,385.92 242.9,385.92 243.2,385.92 243.5,385.93 243.8,385.93 244.1,385.93" fill="none" stroke="#000" stroke-width="1.15" stroke-linejoin="round"/>
<text x="163.8" y="392.54" font-size="5.62" textLength="47.8" lengthAdjust="spacingAndGlyphs" >Racemic japonilure</text>
<text x="211.5" y="355.43" font-size="5.4" text-anchor="middle" stroke="#000" stroke-width="0.2" >(R)</text>
<text x="221.3" y="360.53" font-size="5.4" text-anchor="middle" stroke="#000" stroke-width="0.2" >(S)</text>
<line x1="160.5" y1="413.7" x2="160.5" y2="469.7" stroke="#000" stroke-width="0.9" />
<line x1="160.1" y1="469.7" x2="244.6" y2="469.7" stroke="#000" stroke-width="0.9" />
<line x1="157.8" y1="469.7" x2="160.5" y2="469.7" stroke="#000" stroke-width="0.8" />
<text x="157.7" y="471.49" font-size="5" font-weight="bold" text-anchor="end" >12</text>
<line x1="157.8" y1="451.2" x2="160.5" y2="451.2" stroke="#000" stroke-width="0.8" />
<text x="157.7" y="452.99" font-size="5" font-weight="bold" text-anchor="end" >14</text>
<line x1="157.8" y1="432.7" x2="160.5" y2="432.7" stroke="#000" stroke-width="0.8" />
<text x="157.7" y="434.49" font-size="5" font-weight="bold" text-anchor="end" >16</text>
<line x1="157.8" y1="414.2" x2="160.5" y2="414.2" stroke="#000" stroke-width="0.8" />
<text x="157.7" y="415.99" font-size="5" font-weight="bold" text-anchor="end" >18</text>
<line x1="160.5" y1="469.7" x2="160.5" y2="471.9" stroke="#000" stroke-width="0.8" />
<text x="160.5" y="478.59" font-size="5" font-weight="bold" text-anchor="middle" >25</text>
<line x1="202.4" y1="469.7" x2="202.4" y2="471.9" stroke="#000" stroke-width="0.8" />
<text x="202.4" y="478.59" font-size="5" font-weight="bold" text-anchor="middle" >30</text>
<line x1="244.2" y1="469.7" x2="244.2" y2="471.9" stroke="#000" stroke-width="0.8" />
<text x="244.2" y="478.59" font-size="5" font-weight="bold" text-anchor="middle" >35</text>
<text x="202.4" y="486.75" font-size="5.44" font-weight="bold" text-anchor="middle" textLength="27.4" lengthAdjust="spacingAndGlyphs" >Time (min)</text>
<text font-size="5.93" font-weight="bold" text-anchor="middle" textLength="53" lengthAdjust="spacingAndGlyphs" transform="translate(149.5 441.6) rotate(-90)" >FID Response (pA)</text>
<polyline points="161,458.98 161.3,458.98 161.6,458.99 161.9,458.99 162.2,459 162.5,459 162.8,459.01 163.1,459.01 163.4,459.02 163.7,459.02 164,459.03 164.3,459.03 164.6,459.04 164.9,459.04 165.2,459.05 165.5,459.05 165.8,459.06 166.1,459.06 166.4,459.07 166.7,459.07 167,459.08 167.3,459.08 167.6,459.09 167.9,459.09 168.2,459.1 168.5,459.1 168.8,459.11 169.1,459.11 169.4,459.12 169.7,459.12 170,459.13 170.3,459.13 170.6,459.14 170.9,459.14 171.2,459.15 171.5,459.15 171.8,459.16 172.1,459.16 172.4,459.17 172.7,459.17 173,459.18 173.3,459.18 173.6,459.19 173.9,459.19 174.2,459.2 174.5,459.2 174.8,459.21 175.1,459.21 175.4,459.22 175.7,459.22 176,459.23 176.3,459.23 176.6,459.24 176.9,459.24 177.2,459.25 177.5,459.25 177.8,459.26 178.1,459.26 178.4,459.27 178.7,459.27 179,459.28 179.3,459.28 179.6,459.29 179.9,459.29 180.2,459.3 180.5,459.3 180.8,459.31 181.1,459.31 181.4,459.32 181.7,459.32 182,459.33 182.3,459.33 182.6,459.34 182.9,459.34 183.2,459.35 183.5,459.35 183.8,459.36 184.1,459.36 184.4,459.37 184.7,459.37 185,459.38 185.3,459.38 185.6,459.39 185.9,459.39 186.2,459.4 186.5,459.4 186.8,459.41 187.1,459.41 187.4,459.42 187.7,459.42 188,459.43 188.3,459.43 188.6,459.44 188.9,459.45 189.2,459.45 189.5,459.46 189.8,459.46 190.1,459.47 190.4,459.47 190.7,459.48 191,459.48 191.3,459.49 191.6,459.49 191.9,459.5 192.2,459.5 192.5,459.51 192.8,459.51 193.1,459.52 193.4,459.52 193.7,459.53 194,459.53 194.3,459.54 194.6,459.54 194.9,459.55 195.2,459.55 195.5,459.56 195.8,459.56 196.1,459.57 196.4,459.57 196.7,459.58 197,459.58 197.3,459.59 197.6,459.59 197.9,459.6 198.2,459.6 198.5,459.61 198.8,459.61 199.1,459.62 199.4,459.62 199.7,459.63 200,459.63 200.3,459.64 200.6,459.64 200.9,459.65 201.2,459.65 201.5,459.66 201.8,459.66 202.1,459.67 202.4,459.67 202.7,459.68 203,459.68 203.3,459.69 203.6,459.69 203.9,459.69 204.2,459.69 204.5,459.68 204.8,459.63 205.1,459.53 205.4,459.32 205.7,458.9 206,458.16 206.3,456.95 206.6,455.13 206.9,452.63 207.2,449.52 207.5,446.04 207.8,442.63 208.1,439.81 208.4,438.11 208.7,437.86 209,439.11 209.3,441.62 209.6,444.91 209.9,448.43 210.2,451.71 210.5,454.44 210.8,456.49 211.1,457.9 211.4,458.79 211.7,459.31 212,459.59 212.3,459.73 212.6,459.8 212.9,459.83 213.2,459.85 213.5,459.85 213.8,459.86 214.1,459.87 214.4,459.87 214.7,459.88 215,459.88 215.3,459.89 215.6,459.89 215.9,459.9 216.2,459.9 216.5,459.91 216.8,459.91 217.1,459.92 217.4,459.92 217.7,459.93 218,459.93 218.3,459.94 218.6,459.94 218.9,459.95 219.2,459.95 219.5,459.96 219.8,459.96 220.1,459.97 220.4,459.97 220.7,459.98 221,459.98 221.3,459.99 221.6,459.99 221.9,460 222.2,460 222.5,460.01 222.8,460.01 223.1,460.02 223.4,460.02 223.7,460.03 224,460.03 224.3,460.04 224.6,460.04 224.9,460.05 225.2,460.05 225.5,460.06 225.8,460.06 226.1,460.07 226.4,460.07 226.7,460.08 227,460.08 227.3,460.09 227.6,460.09 227.9,460.1 228.2,460.1 228.5,460.11 228.8,460.11 229.1,460.12 229.4,460.12 229.7,460.13 230,460.13 230.3,460.14 230.6,460.14 230.9,460.15 231.2,460.15 231.5,460.16 231.8,460.16 232.1,460.17 232.4,460.17 232.7,460.18 233,460.18 233.3,460.19 233.6,460.19 233.9,460.2 234.2,460.2 234.5,460.21 234.8,460.21 235.1,460.22 235.4,460.22 235.7,460.23 236,460.23 236.3,460.24 236.6,460.24 236.9,460.25 237.2,460.25 237.5,460.26 237.8,460.26 238.1,460.27 238.4,460.27 238.7,460.28 239,460.28 239.3,460.29 239.6,460.29 239.9,460.3 240.2,460.3 240.5,460.31 240.8,460.31 241.1,460.32 241.4,460.32 241.7,460.33 242,460.33 242.3,460.34 242.6,460.34 242.9,460.35 243.2,460.35 243.5,460.36 243.8,460.36 244.1,460.37" fill="none" stroke="#000" stroke-width="1.15" stroke-linejoin="round"/>
<text x="163.8" y="466.28" font-size="5.61" textLength="39" lengthAdjust="spacingAndGlyphs" >Natural Product</text>
<rect x="273.5" y="322.8" width="96.2" height="170.2" fill="none" stroke="#777" stroke-width="0.9" />
<text x="278.2" y="335.5" font-size="11.4" >G</text>
<text x="329" y="335.88" font-size="4.98" font-weight="bold" text-anchor="middle" textLength="29.8" lengthAdjust="spacingAndGlyphs" >Field Test #1</text>
<line x1="301.3" y1="343" x2="301.3" y2="452.2" stroke="#000" stroke-width="0.9" />
<line x1="300.9" y1="452.2" x2="358" y2="452.2" stroke="#000" stroke-width="0.9" />
<line x1="298.6" y1="452.2" x2="301.3" y2="452.2" stroke="#000" stroke-width="0.8" />
<text x="297.9" y="454.13" font-size="5.4" font-weight="bold" text-anchor="end" >0</text>
<line x1="298.6" y1="434.2" x2="301.3" y2="434.2" stroke="#000" stroke-width="0.8" />
<text x="297.9" y="436.13" font-size="5.4" font-weight="bold" text-anchor="end" >2</text>
<line x1="298.6" y1="416.2" x2="301.3" y2="416.2" stroke="#000" stroke-width="0.8" />
<text x="297.9" y="418.13" font-size="5.4" font-weight="bold" text-anchor="end" >4</text>
<line x1="298.6" y1="398.2" x2="301.3" y2="398.2" stroke="#000" stroke-width="0.8" />
<text x="297.9" y="400.13" font-size="5.4" font-weight="bold" text-anchor="end" >6</text>
<line x1="298.6" y1="380.2" x2="301.3" y2="380.2" stroke="#000" stroke-width="0.8" />
<text x="297.9" y="382.13" font-size="5.4" font-weight="bold" text-anchor="end" >8</text>
<line x1="298.6" y1="362.2" x2="301.3" y2="362.2" stroke="#000" stroke-width="0.8" />
<text x="297.9" y="364.13" font-size="5.4" font-weight="bold" text-anchor="end" >10</text>
<line x1="298.6" y1="344.2" x2="301.3" y2="344.2" stroke="#000" stroke-width="0.8" />
<text x="297.9" y="346.13" font-size="5.4" font-weight="bold" text-anchor="end" >12</text>
<line x1="317.2" y1="452.2" x2="317.2" y2="454.6" stroke="#000" stroke-width="0.8" />
<line x1="340.6" y1="452.2" x2="340.6" y2="454.6" stroke="#000" stroke-width="0.8" />
<rect x="333.3" y="401.4" width="14.5" height="50.8" fill="#fff" stroke="#000" stroke-width="1" />
<line x1="340.3" y1="371.4" x2="340.3" y2="431.4" stroke="#4a5ae8" stroke-width="0.7" />
<line x1="335.6" y1="371.4" x2="345" y2="371.4" stroke="#4a5ae8" stroke-width="0.7" />
<line x1="335.6" y1="431.4" x2="345" y2="431.4" stroke="#4a5ae8" stroke-width="0.7" />
<circle cx="340.3" cy="344.2" r="1.55" fill="#2130cf" stroke="none" stroke-width="1"/>
<circle cx="340.3" cy="380.2" r="1.55" fill="#2130cf" stroke="none" stroke-width="1"/>
<circle cx="337.7" cy="389.2" r="1.55" fill="#2130cf" stroke="none" stroke-width="1"/>
<circle cx="342.9" cy="389.2" r="1.55" fill="#2130cf" stroke="none" stroke-width="1"/>
<circle cx="340.3" cy="398.2" r="1.55" fill="#2130cf" stroke="none" stroke-width="1"/>
<circle cx="340.3" cy="416.2" r="1.55" fill="#2130cf" stroke="none" stroke-width="1"/>
<circle cx="337.7" cy="425.2" r="1.55" fill="#2130cf" stroke="none" stroke-width="1"/>
<circle cx="342.9" cy="425.2" r="1.55" fill="#2130cf" stroke="none" stroke-width="1"/>
<circle cx="340.3" cy="443.2" r="1.55" fill="#2130cf" stroke="none" stroke-width="1"/>
<line x1="310.6" y1="451.7" x2="324" y2="451.7" stroke="#000" stroke-width="0.8" />
<circle cx="313" cy="451.6" r="1" fill="#000" stroke="none" stroke-width="1"/>
<circle cx="315.8" cy="451.6" r="1" fill="#000" stroke="none" stroke-width="1"/>
<circle cx="318.6" cy="451.6" r="1" fill="#000" stroke="none" stroke-width="1"/>
<circle cx="321.4" cy="451.6" r="1" fill="#000" stroke="none" stroke-width="1"/>
<text font-size="5.49" font-weight="bold" text-anchor="end" textLength="19.5" lengthAdjust="spacingAndGlyphs" transform="translate(318.2 459.6) rotate(-45)" >Control</text>
<text font-size="5.39" font-weight="bold" text-anchor="end" textLength="36.5" lengthAdjust="spacingAndGlyphs" transform="translate(343 460) rotate(-45)" >(R)-Japonilure</text>
<text font-size="5.19" font-weight="bold" text-anchor="middle" textLength="107" lengthAdjust="spacingAndGlyphs" transform="translate(290.5 396.9) rotate(-90)" >Male beetles per trap/per day (mean ± SEM)</text>
<rect x="381.2" y="322.8" width="153.9" height="170.2" fill="none" stroke="#333" stroke-width="0.9" />
<text x="384.6" y="335.1" font-size="11.4" >H</text>
<text x="467" y="336.94" font-size="5.98" font-weight="bold" text-anchor="middle" textLength="35.8" lengthAdjust="spacingAndGlyphs" >Field Test #2</text>
<line x1="405.3" y1="344.4" x2="405.3" y2="469.1" stroke="#000" stroke-width="0.9" />
<line x1="404.9" y1="469.1" x2="528.7" y2="469.1" stroke="#000" stroke-width="0.9" />
<line x1="402.6" y1="469.1" x2="405.3" y2="469.1" stroke="#000" stroke-width="0.8" />
<text x="401.9" y="471.03" font-size="5.4" font-weight="bold" text-anchor="end" >0</text>
<line x1="402.6" y1="453.75" x2="405.3" y2="453.75" stroke="#000" stroke-width="0.8" />
<text x="401.9" y="455.68" font-size="5.4" font-weight="bold" text-anchor="end" >2</text>
<line x1="402.6" y1="438.4" x2="405.3" y2="438.4" stroke="#000" stroke-width="0.8" />
<text x="401.9" y="440.33" font-size="5.4" font-weight="bold" text-anchor="end" >4</text>
<line x1="402.6" y1="423.05" x2="405.3" y2="423.05" stroke="#000" stroke-width="0.8" />
<text x="401.9" y="424.98" font-size="5.4" font-weight="bold" text-anchor="end" >6</text>
<line x1="402.6" y1="407.7" x2="405.3" y2="407.7" stroke="#000" stroke-width="0.8" />
<text x="401.9" y="409.63" font-size="5.4" font-weight="bold" text-anchor="end" >8</text>
<line x1="402.6" y1="392.35" x2="405.3" y2="392.35" stroke="#000" stroke-width="0.8" />
<text x="401.9" y="394.28" font-size="5.4" font-weight="bold" text-anchor="end" >10</text>
<line x1="402.6" y1="377" x2="405.3" y2="377" stroke="#000" stroke-width="0.8" />
<text x="401.9" y="378.93" font-size="5.4" font-weight="bold" text-anchor="end" >12</text>
<line x1="402.6" y1="361.65" x2="405.3" y2="361.65" stroke="#000" stroke-width="0.8" />
<text x="401.9" y="363.58" font-size="5.4" font-weight="bold" text-anchor="end" >14</text>
<line x1="402.6" y1="346.3" x2="405.3" y2="346.3" stroke="#000" stroke-width="0.8" />
<text x="401.9" y="348.23" font-size="5.4" font-weight="bold" text-anchor="end" >16</text>
<line x1="418.5" y1="469.1" x2="418.5" y2="471.5" stroke="#000" stroke-width="0.8" />
<text font-size="5.95" font-weight="bold" text-anchor="end" textLength="16.2" lengthAdjust="spacingAndGlyphs" transform="translate(420.4 477.5) rotate(-45)" >Day-1</text>
<line x1="409.9" y1="468.6" x2="417.3" y2="468.6" stroke="#000" stroke-width="0.9" />
<circle cx="411.3" cy="468.5" r="0.95" fill="#000" stroke="none" stroke-width="1"/>
<circle cx="412.7" cy="468.5" r="0.95" fill="#000" stroke="none" stroke-width="1"/>
<circle cx="414.1" cy="468.5" r="0.95" fill="#000" stroke="none" stroke-width="1"/>
<circle cx="415.5" cy="468.5" r="0.95" fill="#000" stroke="none" stroke-width="1"/>
<rect x="421.4" y="383.14" width="7.6" height="85.96" fill="#fff" stroke="#000" stroke-width="1" />
<line x1="425.2" y1="357.81" x2="425.2" y2="407.7" stroke="#4a5ae8" stroke-width="0.7" />
<line x1="422.4" y1="357.81" x2="428" y2="357.81" stroke="#4a5ae8" stroke-width="0.7" />
<line x1="422.4" y1="407.7" x2="428" y2="407.7" stroke="#4a5ae8" stroke-width="0.7" />
<circle cx="425.2" cy="346.3" r="1.5" fill="#2130cf" stroke="none" stroke-width="1"/>
<circle cx="425.2" cy="369.33" r="1.5" fill="#2130cf" stroke="none" stroke-width="1"/>
<circle cx="425.2" cy="392.35" r="1.5" fill="#2130cf" stroke="none" stroke-width="1"/>
<circle cx="425.2" cy="400.03" r="1.5" fill="#2130cf" stroke="none" stroke-width="1"/>
<circle cx="425.2" cy="407.7" r="1.5" fill="#2130cf" stroke="none" stroke-width="1"/>
<line x1="450.4" y1="469.1" x2="450.4" y2="471.5" stroke="#000" stroke-width="0.8" />
<text font-size="5.95" font-weight="bold" text-anchor="end" textLength="16.2" lengthAdjust="spacingAndGlyphs" transform="translate(452.3 477.5) rotate(-45)" >Day-2</text>
<line x1="441.8" y1="468.6" x2="449.2" y2="468.6" stroke="#000" stroke-width="0.9" />
<circle cx="443.2" cy="468.5" r="0.95" fill="#000" stroke="none" stroke-width="1"/>
<circle cx="444.6" cy="468.5" r="0.95" fill="#000" stroke="none" stroke-width="1"/>
<circle cx="446" cy="468.5" r="0.95" fill="#000" stroke="none" stroke-width="1"/>
<circle cx="447.4" cy="468.5" r="0.95" fill="#000" stroke="none" stroke-width="1"/>
<rect x="453.3" y="406.17" width="7.6" height="62.93" fill="#fff" stroke="#000" stroke-width="1" />
<line x1="457.1" y1="392.35" x2="457.1" y2="419.98" stroke="#4a5ae8" stroke-width="0.7" />
<line x1="454.3" y1="392.35" x2="459.9" y2="392.35" stroke="#4a5ae8" stroke-width="0.7" />
<line x1="454.3" y1="419.98" x2="459.9" y2="419.98" stroke="#4a5ae8" stroke-width="0.7" />
<circle cx="454.8" cy="392.35" r="1.5" fill="#2130cf" stroke="none" stroke-width="1"/>
<circle cx="459.4" cy="392.35" r="1.5" fill="#2130cf" stroke="none" stroke-width="1"/>
<circle cx="457.1" cy="407.7" r="1.5" fill="#2130cf" stroke="none" stroke-width="1"/>
<circle cx="455.7" cy="415.38" r="1.5" fill="#2130cf" stroke="none" stroke-width="1"/>
<circle cx="458.5" cy="415.38" r="1.5" fill="#2130cf" stroke="none" stroke-width="1"/>
<circle cx="457.1" cy="423.05" r="1.5" fill="#2130cf" stroke="none" stroke-width="1"/>
<line x1="482.6" y1="469.1" x2="482.6" y2="471.5" stroke="#000" stroke-width="0.8" />
<text font-size="5.95" font-weight="bold" text-anchor="end" textLength="16.2" lengthAdjust="spacingAndGlyphs" transform="translate(484.5 477.5) rotate(-45)" >Day-3</text>
<line x1="474" y1="468.6" x2="481.4" y2="468.6" stroke="#000" stroke-width="0.9" />
<circle cx="475.4" cy="468.5" r="0.95" fill="#000" stroke="none" stroke-width="1"/>
<circle cx="476.8" cy="468.5" r="0.95" fill="#000" stroke="none" stroke-width="1"/>
<circle cx="478.2" cy="468.5" r="0.95" fill="#000" stroke="none" stroke-width="1"/>
<circle cx="479.6" cy="468.5" r="0.95" fill="#000" stroke="none" stroke-width="1"/>
<rect x="485.5" y="441.47" width="7.6" height="27.63" fill="#fff" stroke="#000" stroke-width="1" />
<line x1="489.3" y1="426.12" x2="489.3" y2="456.05" stroke="#4a5ae8" stroke-width="0.7" />
<line x1="486.5" y1="426.12" x2="492.1" y2="426.12" stroke="#4a5ae8" stroke-width="0.7" />
<line x1="486.5" y1="456.05" x2="492.1" y2="456.05" stroke="#4a5ae8" stroke-width="0.7" />
<circle cx="489.3" cy="415.38" r="1.5" fill="#2130cf" stroke="none" stroke-width="1"/>
<circle cx="487" cy="446.08" r="1.5" fill="#2130cf" stroke="none" stroke-width="1"/>
<circle cx="491.6" cy="446.08" r="1.5" fill="#2130cf" stroke="none" stroke-width="1"/>
<circle cx="489.3" cy="446.08" r="1.5" fill="#2130cf" stroke="none" stroke-width="1"/>
<circle cx="489.3" cy="453.75" r="1.5" fill="#2130cf" stroke="none" stroke-width="1"/>
<line x1="514.5" y1="469.1" x2="514.5" y2="471.5" stroke="#000" stroke-width="0.8" />
<text font-size="5.95" font-weight="bold" text-anchor="end" textLength="16.2" lengthAdjust="spacingAndGlyphs" transform="translate(516.4 477.5) rotate(-45)" >Day-4</text>
<line x1="505.9" y1="468.6" x2="513.3" y2="468.6" stroke="#000" stroke-width="0.9" />
<circle cx="507.3" cy="468.5" r="0.95" fill="#000" stroke="none" stroke-width="1"/>
<circle cx="508.7" cy="468.5" r="0.95" fill="#000" stroke="none" stroke-width="1"/>
<circle cx="510.1" cy="468.5" r="0.95" fill="#000" stroke="none" stroke-width="1"/>
<circle cx="511.5" cy="468.5" r="0.95" fill="#000" stroke="none" stroke-width="1"/>
<rect x="517.4" y="462.96" width="7.6" height="6.14" fill="#fff" stroke="#000" stroke-width="1" />
<line x1="521.2" y1="456.82" x2="521.2" y2="469.1" stroke="#4a5ae8" stroke-width="0.7" />
<line x1="518.4" y1="456.82" x2="524" y2="456.82" stroke="#4a5ae8" stroke-width="0.7" />
<line x1="518.4" y1="469.1" x2="524" y2="469.1" stroke="#4a5ae8" stroke-width="0.7" />
<circle cx="521.2" cy="453.75" r="1.5" fill="#2130cf" stroke="none" stroke-width="1"/>
<circle cx="518.8" cy="461.43" r="1.5" fill="#2130cf" stroke="none" stroke-width="1"/>
<circle cx="523.6" cy="461.43" r="1.5" fill="#2130cf" stroke="none" stroke-width="1"/>
<circle cx="519.8" cy="468.33" r="1.5" fill="#2130cf" stroke="none" stroke-width="1"/>
<circle cx="522.6" cy="468.33" r="1.5" fill="#2130cf" stroke="none" stroke-width="1"/>
<circle cx="484" cy="350.3" r="1.25" fill="#000" stroke="none" stroke-width="1"/>
<text x="490.7" y="352.62" font-size="6.2" textLength="21.3" lengthAdjust="spacingAndGlyphs" stroke="#000" stroke-width="0.25" >Control</text>
<circle cx="484" cy="360.1" r="1.25" fill="#2130cf" stroke="none" stroke-width="1"/>
<text x="490.7" y="362.42" font-size="6.2" fill="#2130cf" textLength="39.9" lengthAdjust="spacingAndGlyphs" stroke="#2130cf" stroke-width="0.25" >(R)-Japonilure</text>
<text font-size="5.79" font-weight="bold" text-anchor="middle" textLength="119.4" lengthAdjust="spacingAndGlyphs" transform="translate(392.4 406.3) rotate(-90)" >Male beetles per trap/per day (mean ± SEM)</text>
<line x1="584.6" y1="25.6" x2="584.6" y2="176.3" stroke="#000" stroke-width="1.3" />
<line x1="584" y1="175.6" x2="875" y2="175.6" stroke="#000" stroke-width="1.4" />
<line x1="581" y1="175.6" x2="584.6" y2="175.6" stroke="#000" stroke-width="1.2" />
<text x="580.2" y="178.11" font-size="7" font-weight="bold" text-anchor="end" textLength="4.75" lengthAdjust="spacingAndGlyphs" stroke="#000" stroke-width="0.25" >0</text>
<line x1="582.3" y1="160.05" x2="584.6" y2="160.05" stroke="#000" stroke-width="1.1" />
<line x1="581" y1="144.5" x2="584.6" y2="144.5" stroke="#000" stroke-width="1.2" />
<text x="580.2" y="147.01" font-size="7" font-weight="bold" text-anchor="end" textLength="9.5" lengthAdjust="spacingAndGlyphs" stroke="#000" stroke-width="0.25" >25</text>
<line x1="582.3" y1="128.95" x2="584.6" y2="128.95" stroke="#000" stroke-width="1.1" />
<line x1="581" y1="113.4" x2="584.6" y2="113.4" stroke="#000" stroke-width="1.2" />
<text x="580.2" y="115.91" font-size="7" font-weight="bold" text-anchor="end" textLength="9.5" lengthAdjust="spacingAndGlyphs" stroke="#000" stroke-width="0.25" >50</text>
<line x1="582.3" y1="97.85" x2="584.6" y2="97.85" stroke="#000" stroke-width="1.1" />
<line x1="581" y1="82.3" x2="584.6" y2="82.3" stroke="#000" stroke-width="1.2" />
<text x="580.2" y="84.81" font-size="7" font-weight="bold" text-anchor="end" textLength="9.5" lengthAdjust="spacingAndGlyphs" stroke="#000" stroke-width="0.25" >75</text>
<line x1="582.3" y1="66.75" x2="584.6" y2="66.75" stroke="#000" stroke-width="1.1" />
<line x1="581" y1="51.2" x2="584.6" y2="51.2" stroke="#000" stroke-width="1.2" />
<text x="580.2" y="53.71" font-size="7" font-weight="bold" text-anchor="end" textLength="14.25" lengthAdjust="spacingAndGlyphs" stroke="#000" stroke-width="0.25" >100</text>
<line x1="582.3" y1="35.65" x2="584.6" y2="35.65" stroke="#000" stroke-width="1.1" />
<text font-size="7.3" font-weight="bold" text-anchor="middle" textLength="117" lengthAdjust="spacingAndGlyphs" stroke="#000" stroke-width="0.3" transform="translate(560.4 100) rotate(-90)" >Normalized Responses (%)</text>
<text x="563" y="23.7" font-size="18.7" >A</text>
<text x="587.9" y="17.82" font-size="10.1" font-weight="bold" textLength="102.6" lengthAdjust="spacingAndGlyphs" stroke="#000" stroke-width="0.1" >AcorOR18•AcorOrco</text>
<line x1="596.2" y1="43.98" x2="596.2" y2="51.7" stroke="#2b3ce6" stroke-width="1.5" />
<line x1="592.49" y1="43.98" x2="599.91" y2="43.98" stroke="#2b3ce6" stroke-width="1.5" />
<rect x="590.4" y="51.2" width="11.6" height="124.4" fill="#2b3ce6" stroke="none" stroke-width="1" />
<line x1="596.2" y1="175.6" x2="596.2" y2="178.8" stroke="#000" stroke-width="1.1" />
<line x1="613.91" y1="156.19" x2="613.91" y2="157.69" stroke="#d9341a" stroke-width="1.5" />
<line x1="610.2" y1="156.19" x2="617.62" y2="156.19" stroke="#d9341a" stroke-width="1.5" />
<rect x="608.11" y="157.19" width="11.6" height="18.41" fill="#d9341a" stroke="none" stroke-width="1" />
<line x1="613.91" y1="175.6" x2="613.91" y2="178.8" stroke="#000" stroke-width="1.1" />
<line x1="631.62" y1="169.01" x2="631.62" y2="170.13" stroke="#000" stroke-width="1.1" />
<line x1="627.91" y1="169.01" x2="635.33" y2="169.01" stroke="#000" stroke-width="1.1" />
<rect x="625.82" y="169.63" width="11.6" height="5.97" fill="#000" stroke="none" stroke-width="1" />
<line x1="631.62" y1="175.6" x2="631.62" y2="178.8" stroke="#000" stroke-width="1.1" />
<line x1="649.33" y1="168.38" x2="649.33" y2="169.88" stroke="#000" stroke-width="1.1" />
<line x1="645.62" y1="168.38" x2="653.04" y2="168.38" stroke="#000" stroke-width="1.1" />
<rect x="643.53" y="169.38" width="11.6" height="6.22" fill="#000" stroke="none" stroke-width="1" />
<line x1="649.33" y1="175.6" x2="649.33" y2="178.8" stroke="#000" stroke-width="1.1" />
<line x1="667.04" y1="169.13" x2="667.04" y2="170.38" stroke="#000" stroke-width="1.1" />
<line x1="663.33" y1="169.13" x2="670.75" y2="169.13" stroke="#000" stroke-width="1.1" />
<rect x="661.24" y="169.88" width="11.6" height="5.72" fill="#000" stroke="none" stroke-width="1" />
<line x1="667.04" y1="175.6" x2="667.04" y2="178.8" stroke="#000" stroke-width="1.1" />
<line x1="684.75" y1="169.63" x2="684.75" y2="170.88" stroke="#000" stroke-width="1.1" />
<line x1="681.04" y1="169.63" x2="688.46" y2="169.63" stroke="#000" stroke-width="1.1" />
<rect x="678.95" y="170.38" width="11.6" height="5.22" fill="#000" stroke="none" stroke-width="1" />
<line x1="684.75" y1="175.6" x2="684.75" y2="178.8" stroke="#000" stroke-width="1.1" />
<line x1="702.46" y1="170.38" x2="702.46" y2="171.37" stroke="#000" stroke-width="1.1" />
<line x1="698.75" y1="170.38" x2="706.17" y2="170.38" stroke="#000" stroke-width="1.1" />
<rect x="696.66" y="170.87" width="11.6" height="4.73" fill="#000" stroke="none" stroke-width="1" />
<line x1="702.46" y1="175.6" x2="702.46" y2="178.8" stroke="#000" stroke-width="1.1" />
<line x1="720.17" y1="170.25" x2="720.17" y2="171.37" stroke="#000" stroke-width="1.1" />
<line x1="716.46" y1="170.25" x2="723.88" y2="170.25" stroke="#000" stroke-width="1.1" />
<rect x="714.37" y="170.87" width="11.6" height="4.73" fill="#000" stroke="none" stroke-width="1" />
<line x1="720.17" y1="175.6" x2="720.17" y2="178.8" stroke="#000" stroke-width="1.1" />
<line x1="737.88" y1="170.87" x2="737.88" y2="171.87" stroke="#000" stroke-width="1.1" />
<line x1="734.17" y1="170.87" x2="741.59" y2="170.87" stroke="#000" stroke-width="1.1" />
<rect x="732.08" y="171.37" width="11.6" height="4.23" fill="#000" stroke="none" stroke-width="1" />
<line x1="737.88" y1="175.6" x2="737.88" y2="178.8" stroke="#000" stroke-width="1.1" />
<line x1="755.59" y1="170.87" x2="755.59" y2="171.87" stroke="#000" stroke-width="1.1" />
<line x1="751.88" y1="170.87" x2="759.3" y2="170.87" stroke="#000" stroke-width="1.1" />
<rect x="749.79" y="171.37" width="11.6" height="4.23" fill="#000" stroke="none" stroke-width="1" />
<line x1="755.59" y1="175.6" x2="755.59" y2="178.8" stroke="#000" stroke-width="1.1" />
<line x1="773.3" y1="171.12" x2="773.3" y2="172.12" stroke="#000" stroke-width="1.1" />
<line x1="769.59" y1="171.12" x2="777.01" y2="171.12" stroke="#000" stroke-width="1.1" />
<rect x="767.5" y="171.62" width="11.6" height="3.98" fill="#000" stroke="none" stroke-width="1" />
<line x1="773.3" y1="175.6" x2="773.3" y2="178.8" stroke="#000" stroke-width="1.1" />
<line x1="791.01" y1="171.37" x2="791.01" y2="172.37" stroke="#000" stroke-width="1.1" />
<line x1="787.3" y1="171.37" x2="794.72" y2="171.37" stroke="#000" stroke-width="1.1" />
<rect x="785.21" y="171.87" width="11.6" height="3.73" fill="#000" stroke="none" stroke-width="1" />
<line x1="791.01" y1="175.6" x2="791.01" y2="178.8" stroke="#000" stroke-width="1.1" />
<line x1="808.72" y1="171.49" x2="808.72" y2="172.49" stroke="#000" stroke-width="1.1" />
<line x1="805.01" y1="171.49" x2="812.43" y2="171.49" stroke="#000" stroke-width="1.1" />
<rect x="802.92" y="171.99" width="11.6" height="3.61" fill="#000" stroke="none" stroke-width="1" />
<line x1="808.72" y1="175.6" x2="808.72" y2="178.8" stroke="#000" stroke-width="1.1" />
<line x1="826.43" y1="172.24" x2="826.43" y2="173.11" stroke="#000" stroke-width="1.1" />
<line x1="822.72" y1="172.24" x2="830.14" y2="172.24" stroke="#000" stroke-width="1.1" />
<rect x="820.63" y="172.61" width="11.6" height="2.99" fill="#000" stroke="none" stroke-width="1" />
<line x1="826.43" y1="175.6" x2="826.43" y2="178.8" stroke="#000" stroke-width="1.1" />
<line x1="844.14" y1="173.86" x2="844.14" y2="174.73" stroke="#000" stroke-width="1.1" />
<line x1="840.43" y1="173.86" x2="847.85" y2="173.86" stroke="#000" stroke-width="1.1" />
<rect x="838.34" y="174.23" width="11.6" height="1.37" fill="#000" stroke="none" stroke-width="1" />
<line x1="844.14" y1="175.6" x2="844.14" y2="178.8" stroke="#000" stroke-width="1.1" />
<line x1="861.85" y1="173.36" x2="861.85" y2="174.36" stroke="#000" stroke-width="1.1" />
<line x1="858.14" y1="173.36" x2="865.56" y2="173.36" stroke="#000" stroke-width="1.1" />
<rect x="856.05" y="173.86" width="11.6" height="1.74" fill="#000" stroke="none" stroke-width="1" />
<line x1="861.85" y1="175.6" x2="861.85" y2="178.8" stroke="#000" stroke-width="1.1" />
<text font-size="6.6" font-weight="bold" text-anchor="end" textLength="56.72" lengthAdjust="spacingAndGlyphs" stroke="#000" stroke-width="0.2" transform="translate(598.6 185.2) rotate(-45)" >(R)-Japonilure</text>
<text font-size="6.6" font-weight="bold" text-anchor="end" textLength="55.57" lengthAdjust="spacingAndGlyphs" stroke="#000" stroke-width="0.2" transform="translate(616.31 185.2) rotate(-45)" >(S)-Japonilure</text>
<text font-size="6.6" font-weight="bold" text-anchor="end" textLength="56.72" lengthAdjust="spacingAndGlyphs" stroke="#000" stroke-width="0.2" transform="translate(634.02 185.2) rotate(-45)" >Propanoic acid</text>
<text font-size="6.6" font-weight="bold" text-anchor="end" textLength="60.8" lengthAdjust="spacingAndGlyphs" stroke="#000" stroke-width="0.2" transform="translate(651.73 185.2) rotate(-45)" >Trans-2-nonenal</text>
<text font-size="6.6" font-weight="bold" text-anchor="end" textLength="65.36" lengthAdjust="spacingAndGlyphs" stroke="#000" stroke-width="0.2" transform="translate(669.44 185.2) rotate(-45)" >3-Methyl butanal</text>
<text font-size="6.6" font-weight="bold" text-anchor="end" textLength="68.78" lengthAdjust="spacingAndGlyphs" stroke="#000" stroke-width="0.2" transform="translate(687.15 185.2) rotate(-45)" >Isobutyraldehyde</text>
<text font-size="6.6" font-weight="bold" text-anchor="end" textLength="50.92" lengthAdjust="spacingAndGlyphs" stroke="#000" stroke-width="0.2" transform="translate(704.86 185.2) rotate(-45)" >Tetradecane</text>
<text font-size="6.6" font-weight="bold" text-anchor="end" textLength="57.09" lengthAdjust="spacingAndGlyphs" stroke="#000" stroke-width="0.2" transform="translate(722.57 185.2) rotate(-45)" >Pentyl acetate</text>
<text font-size="6.6" font-weight="bold" text-anchor="end" textLength="79.42" lengthAdjust="spacingAndGlyphs" stroke="#000" stroke-width="0.2" transform="translate(740.28 185.2) rotate(-45)" >3-methyl-2-butanone</text>
<text font-size="6.6" font-weight="bold" text-anchor="end" textLength="35.05" lengthAdjust="spacingAndGlyphs" stroke="#000" stroke-width="0.2" transform="translate(757.99 185.2) rotate(-45)" >Pentanal</text>
<text font-size="6.6" font-weight="bold" text-anchor="end" textLength="85.97" lengthAdjust="spacingAndGlyphs" stroke="#000" stroke-width="0.2" transform="translate(775.7 185.2) rotate(-45)" >2-Methyl-butyl acetate</text>
<text font-size="6.6" font-weight="bold" text-anchor="end" textLength="49.88" lengthAdjust="spacingAndGlyphs" stroke="#000" stroke-width="0.2" transform="translate(793.41 185.2) rotate(-45)" >(E)-2-Hexenal</text>
<text font-size="6.6" font-weight="bold" text-anchor="end" textLength="51.3" lengthAdjust="spacingAndGlyphs" stroke="#000" stroke-width="0.2" transform="translate(811.12 185.2) rotate(-45)" >Heptadecane</text>
<text font-size="6.6" font-weight="bold" text-anchor="end" textLength="38.48" lengthAdjust="spacingAndGlyphs" stroke="#000" stroke-width="0.2" transform="translate(828.83 185.2) rotate(-45)" >Tridecane</text>
<text font-size="6.6" font-weight="bold" text-anchor="end" textLength="63.65" lengthAdjust="spacingAndGlyphs" stroke="#000" stroke-width="0.2" transform="translate(846.54 185.2) rotate(-45)" >Hexyl butanoate</text>
<text font-size="6.6" font-weight="bold" text-anchor="end" textLength="44.65" lengthAdjust="spacingAndGlyphs" stroke="#000" stroke-width="0.2" transform="translate(864.25 185.2) rotate(-45)" >γ-Terpinene</text>
<text x="605.8" y="50.23" font-size="9.3" font-weight="bold" fill="#2b3ce6" textLength="76" lengthAdjust="spacingAndGlyphs" >3317.0 ± 170.8 nA</text>
<text x="619.1" y="147.13" font-size="9.3" font-weight="bold" fill="#d9341a" textLength="65.8" lengthAdjust="spacingAndGlyphs" >490.2 ± 21.5 nA</text>
<line x1="584.6" y1="303.3" x2="584.6" y2="451.9" stroke="#000" stroke-width="1.3" />
<line x1="584" y1="451.2" x2="873" y2="451.2" stroke="#000" stroke-width="1.4" />
<line x1="581" y1="451.2" x2="584.6" y2="451.2" stroke="#000" stroke-width="1.2" />
<text x="580.2" y="453.71" font-size="7" font-weight="bold" text-anchor="end" textLength="4.05" lengthAdjust="spacingAndGlyphs" stroke="#000" stroke-width="0.25" >0</text>
<line x1="582.3" y1="435.8" x2="584.6" y2="435.8" stroke="#000" stroke-width="1.1" />
<line x1="581" y1="420.4" x2="584.6" y2="420.4" stroke="#000" stroke-width="1.2" />
<text x="580.2" y="422.91" font-size="7" font-weight="bold" text-anchor="end" textLength="8.1" lengthAdjust="spacingAndGlyphs" stroke="#000" stroke-width="0.25" >25</text>
<line x1="582.3" y1="405" x2="584.6" y2="405" stroke="#000" stroke-width="1.1" />
<line x1="581" y1="389.6" x2="584.6" y2="389.6" stroke="#000" stroke-width="1.2" />
<text x="580.2" y="392.11" font-size="7" font-weight="bold" text-anchor="end" textLength="8.1" lengthAdjust="spacingAndGlyphs" stroke="#000" stroke-width="0.25" >50</text>
<line x1="582.3" y1="374.2" x2="584.6" y2="374.2" stroke="#000" stroke-width="1.1" />
<line x1="581" y1="358.8" x2="584.6" y2="358.8" stroke="#000" stroke-width="1.2" />
<text x="580.2" y="361.31" font-size="7" font-weight="bold" text-anchor="end" textLength="8.1" lengthAdjust="spacingAndGlyphs" stroke="#000" stroke-width="0.25" >75</text>
<line x1="582.3" y1="343.4" x2="584.6" y2="343.4" stroke="#000" stroke-width="1.1" />
<line x1="581" y1="328" x2="584.6" y2="328" stroke="#000" stroke-width="1.2" />
<text x="580.2" y="330.51" font-size="7" font-weight="bold" text-anchor="end" textLength="12.15" lengthAdjust="spacingAndGlyphs" stroke="#000" stroke-width="0.25" >100</text>
<line x1="582.3" y1="312.6" x2="584.6" y2="312.6" stroke="#000" stroke-width="1.1" />
<text font-size="7.3" font-weight="bold" text-anchor="middle" textLength="116.2" lengthAdjust="spacingAndGlyphs" stroke="#000" stroke-width="0.3" transform="translate(560.4 375.6) rotate(-90)" >Normalized Responses (%)</text>
<text x="562.2" y="296.6" font-size="19" >D</text>
<text x="587.9" y="294.62" font-size="10.1" font-weight="bold" textLength="102.6" lengthAdjust="spacingAndGlyphs" stroke="#000" stroke-width="0.1" >AcorOR29•AcorOrco</text>
<line x1="597.6" y1="319.87" x2="597.6" y2="328.5" stroke="#2b3ce6" stroke-width="1.5" />
<line x1="593.38" y1="319.87" x2="601.82" y2="319.87" stroke="#2b3ce6" stroke-width="1.5" />
<rect x="591" y="328" width="13.2" height="123.2" fill="#2b3ce6" stroke="none" stroke-width="1" />
<line x1="597.6" y1="451.2" x2="597.6" y2="454.4" stroke="#000" stroke-width="1.1" />
<line x1="617.72" y1="380.73" x2="617.72" y2="386.4" stroke="#d9341a" stroke-width="1.5" />
<line x1="613.5" y1="380.73" x2="621.94" y2="380.73" stroke="#d9341a" stroke-width="1.5" />
<rect x="611.12" y="385.9" width="13.2" height="65.3" fill="#d9341a" stroke="none" stroke-width="1" />
<line x1="617.72" y1="451.2" x2="617.72" y2="454.4" stroke="#000" stroke-width="1.1" />
<line x1="637.84" y1="417.94" x2="637.84" y2="420.9" stroke="#000" stroke-width="1.1" />
<line x1="633.62" y1="417.94" x2="642.06" y2="417.94" stroke="#000" stroke-width="1.1" />
<rect x="631.24" y="420.4" width="13.2" height="30.8" fill="#000" stroke="none" stroke-width="1" />
<line x1="637.84" y1="451.2" x2="637.84" y2="454.4" stroke="#000" stroke-width="1.1" />
<line x1="657.96" y1="439.74" x2="657.96" y2="442.71" stroke="#000" stroke-width="1.1" />
<line x1="653.74" y1="439.74" x2="662.18" y2="439.74" stroke="#000" stroke-width="1.1" />
<rect x="651.36" y="442.21" width="13.2" height="8.99" fill="#000" stroke="none" stroke-width="1" />
<line x1="657.96" y1="451.2" x2="657.96" y2="454.4" stroke="#000" stroke-width="1.1" />
<line x1="678.08" y1="440.48" x2="678.08" y2="443.45" stroke="#000" stroke-width="1.1" />
<line x1="673.86" y1="440.48" x2="682.3" y2="440.48" stroke="#000" stroke-width="1.1" />
<rect x="671.48" y="442.95" width="13.2" height="8.25" fill="#000" stroke="none" stroke-width="1" />
<line x1="678.08" y1="451.2" x2="678.08" y2="454.4" stroke="#000" stroke-width="1.1" />
<line x1="698.2" y1="442.21" x2="698.2" y2="444.68" stroke="#000" stroke-width="1.1" />
<line x1="693.98" y1="442.21" x2="702.42" y2="442.21" stroke="#000" stroke-width="1.1" />
<rect x="691.6" y="444.18" width="13.2" height="7.02" fill="#000" stroke="none" stroke-width="1" />
<line x1="698.2" y1="451.2" x2="698.2" y2="454.4" stroke="#000" stroke-width="1.1" />
<line x1="718.32" y1="443.07" x2="718.32" y2="444.8" stroke="#000" stroke-width="1.1" />
<line x1="714.1" y1="443.07" x2="722.54" y2="443.07" stroke="#000" stroke-width="1.1" />
<rect x="711.72" y="444.3" width="13.2" height="6.9" fill="#000" stroke="none" stroke-width="1" />
<line x1="718.32" y1="451.2" x2="718.32" y2="454.4" stroke="#000" stroke-width="1.1" />
<line x1="738.44" y1="442.95" x2="738.44" y2="444.92" stroke="#000" stroke-width="1.1" />
<line x1="734.22" y1="442.95" x2="742.66" y2="442.95" stroke="#000" stroke-width="1.1" />
<rect x="731.84" y="444.42" width="13.2" height="6.78" fill="#000" stroke="none" stroke-width="1" />
<line x1="738.44" y1="451.2" x2="738.44" y2="454.4" stroke="#000" stroke-width="1.1" />
<line x1="758.56" y1="442.58" x2="758.56" y2="445.05" stroke="#000" stroke-width="1.1" />
<line x1="754.34" y1="442.58" x2="762.78" y2="442.58" stroke="#000" stroke-width="1.1" />
<rect x="751.96" y="444.55" width="13.2" height="6.65" fill="#000" stroke="none" stroke-width="1" />
<line x1="758.56" y1="451.2" x2="758.56" y2="454.4" stroke="#000" stroke-width="1.1" />
<line x1="778.68" y1="442.82" x2="778.68" y2="445.05" stroke="#000" stroke-width="1.1" />
<line x1="774.46" y1="442.82" x2="782.9" y2="442.82" stroke="#000" stroke-width="1.1" />
<rect x="772.08" y="444.55" width="13.2" height="6.65" fill="#000" stroke="none" stroke-width="1" />
<line x1="778.68" y1="451.2" x2="778.68" y2="454.4" stroke="#000" stroke-width="1.1" />
<line x1="798.8" y1="443.44" x2="798.8" y2="445.17" stroke="#000" stroke-width="1.1" />
<line x1="794.58" y1="443.44" x2="803.02" y2="443.44" stroke="#000" stroke-width="1.1" />
<rect x="792.2" y="444.67" width="13.2" height="6.53" fill="#000" stroke="none" stroke-width="1" />
<line x1="798.8" y1="451.2" x2="798.8" y2="454.4" stroke="#000" stroke-width="1.1" />
<line x1="818.92" y1="444.18" x2="818.92" y2="445.42" stroke="#000" stroke-width="1.1" />
<line x1="814.7" y1="444.18" x2="823.14" y2="444.18" stroke="#000" stroke-width="1.1" />
<rect x="812.32" y="444.92" width="13.2" height="6.28" fill="#000" stroke="none" stroke-width="1" />
<line x1="818.92" y1="451.2" x2="818.92" y2="454.4" stroke="#000" stroke-width="1.1" />
<line x1="839.04" y1="446.4" x2="839.04" y2="447.51" stroke="#000" stroke-width="1.1" />
<line x1="834.82" y1="446.4" x2="843.26" y2="446.4" stroke="#000" stroke-width="1.1" />
<rect x="832.44" y="447.01" width="13.2" height="4.19" fill="#000" stroke="none" stroke-width="1" />
<line x1="839.04" y1="451.2" x2="839.04" y2="454.4" stroke="#000" stroke-width="1.1" />
<line x1="859.16" y1="449.23" x2="859.16" y2="450.22" stroke="#000" stroke-width="1.1" />
<line x1="854.94" y1="449.23" x2="863.38" y2="449.23" stroke="#000" stroke-width="1.1" />
<rect x="852.56" y="449.72" width="13.2" height="1.48" fill="#000" stroke="none" stroke-width="1" />
<line x1="859.16" y1="451.2" x2="859.16" y2="454.4" stroke="#000" stroke-width="1.1" />
<text font-size="6.4" font-weight="bold" text-anchor="end" textLength="53.77" lengthAdjust="spacingAndGlyphs" stroke="#000" stroke-width="0.2" transform="translate(599.3 462.1) rotate(-45)" >(R)-Japonilure</text>
<text font-size="6.4" font-weight="bold" text-anchor="end" textLength="53.2" lengthAdjust="spacingAndGlyphs" stroke="#000" stroke-width="0.2" transform="translate(619.42 462.1) rotate(-45)" >(S)-Japonilure</text>
<text font-size="6.4" font-weight="bold" text-anchor="end" textLength="42.18" lengthAdjust="spacingAndGlyphs" stroke="#000" stroke-width="0.2" transform="translate(639.54 462.1) rotate(-45)" >2-Nonanone</text>
<text font-size="6.4" font-weight="bold" text-anchor="end" textLength="29.07" lengthAdjust="spacingAndGlyphs" stroke="#000" stroke-width="0.2" transform="translate(659.66 462.1) rotate(-45)" >Decanal</text>
<text font-size="6.4" font-weight="bold" text-anchor="end" textLength="42.47" lengthAdjust="spacingAndGlyphs" stroke="#000" stroke-width="0.2" transform="translate(679.78 462.1) rotate(-45)" >2-Octanone</text>
<text font-size="6.4" font-weight="bold" text-anchor="end" textLength="53.2" lengthAdjust="spacingAndGlyphs" stroke="#000" stroke-width="0.2" transform="translate(699.9 462.1) rotate(-45)" >Hexyl acetate</text>
<text font-size="6.4" font-weight="bold" text-anchor="end" textLength="29.45" lengthAdjust="spacingAndGlyphs" stroke="#000" stroke-width="0.2" transform="translate(720.02 462.1) rotate(-45)" >Octanal</text>
<text font-size="6.4" font-weight="bold" text-anchor="end" textLength="34.01" lengthAdjust="spacingAndGlyphs" stroke="#000" stroke-width="0.2" transform="translate(740.14 462.1) rotate(-45)" >Farnesol</text>
<text font-size="6.4" font-weight="bold" text-anchor="end" textLength="45.41" lengthAdjust="spacingAndGlyphs" stroke="#000" stroke-width="0.2" transform="translate(760.26 462.1) rotate(-45)" >(Z)-Jasmone</text>
<text font-size="6.4" font-weight="bold" text-anchor="end" textLength="60.32" lengthAdjust="spacingAndGlyphs" stroke="#000" stroke-width="0.2" transform="translate(780.38 462.1) rotate(-45)" >Geranyl acetate</text>
<text font-size="6.4" font-weight="bold" text-anchor="end" textLength="48.35" lengthAdjust="spacingAndGlyphs" stroke="#000" stroke-width="0.2" transform="translate(800.5 462.1) rotate(-45)" >2-Heptanone</text>
<text font-size="6.4" font-weight="bold" text-anchor="end" textLength="34.3" lengthAdjust="spacingAndGlyphs" stroke="#000" stroke-width="0.2" transform="translate(820.62 462.1) rotate(-45)" >α-Ionone</text>
<text font-size="6.4" font-weight="bold" text-anchor="end" textLength="49.49" lengthAdjust="spacingAndGlyphs" stroke="#000" stroke-width="0.2" transform="translate(840.74 462.1) rotate(-45)" >(E)-2-Hexenal</text>
<text font-size="6.4" font-weight="bold" text-anchor="end" textLength="32.11" lengthAdjust="spacingAndGlyphs" stroke="#000" stroke-width="0.2" transform="translate(860.86 462.1) rotate(-45)" >Nonanal</text>
<text x="607.6" y="322.73" font-size="9.3" font-weight="bold" fill="#2b3ce6" textLength="75.5" lengthAdjust="spacingAndGlyphs" >3121.0 ± 198.9 nA</text>
<text x="621.2" y="373.13" font-size="9.3" font-weight="bold" fill="#d9341a" textLength="75.2" lengthAdjust="spacingAndGlyphs" >1649.0 ± 130.5 nA</text>
<rect x="887.6" y="16.3" width="251" height="197.3" fill="none" stroke="#555" stroke-width="1.1" />
<text x="868.6" y="23.9" font-size="19" >B</text>
<text x="907.9" y="28.08" font-size="11.4" font-weight="bold" text-anchor="middle" stroke="#000" stroke-width="0.1" >-7</text>
<text x="926.2" y="28.08" font-size="11.4" font-weight="bold" text-anchor="middle" stroke="#000" stroke-width="0.1" >-6</text>
<text x="944.5" y="28.08" font-size="11.4" font-weight="bold" text-anchor="middle" stroke="#000" stroke-width="0.1" >-5</text>
<text x="976.2" y="28.08" font-size="11.4" font-weight="bold" text-anchor="middle" stroke="#000" stroke-width="0.1" >-4</text>
<text x="1029" y="28.08" font-size="11.4" font-weight="bold" text-anchor="middle" stroke="#000" stroke-width="0.1" >-3</text>
<polyline points="887.6,33.2 890.74,33.2 893.89,33.2 897.03,33.2 900.17,33.2 903.31,33.2 906.46,33.2 909.6,33.2 909.82,36.25 910.4,40 910.63,43.81 911.2,48.3 912.4,44 914,38.5 916.8,35.2 920,33.8 923.3,33.3 926.3,33.3 926.48,36.84 926.11,39.29 926.5,43.27 926.26,45.97 926.84,50.32 926.78,53.39 927.03,57.07 926.9,60 926.91,62.98 927.14,66.39 927.12,69.31 927.14,72.31 927.37,75.71 927.24,78.42 927.47,81.83 927.72,85.28 927.7,88.2 927.81,85.08 927.84,81.81 928.33,79.46 928.11,75.68 928.11,72.36 928.32,69.45 928.32,66.11 928.44,63.02 928.6,60 928.68,56.89 929.17,54.61 929,51.01 929.16,48.05 929.37,45.2 929.4,42 930.2,39.41 930.4,35.6 932.5,33.8 935.85,33.6 939.2,33.4 939.19,36.48 939.15,39.5 939.64,43.58 939.07,45.54 939.26,49.01 939.43,52.47 939.7,56.1 939.24,58.27 939.04,60.97 939.52,65.04 939.37,67.83 939.41,71.02 939.56,74.42 939.54,77.49 939.58,80.65 939.49,83.58 939.77,87.24 939.6,90 939.86,93.53 939.67,96.16 939.62,99.1 939.83,102.53 939.83,105.53 939.63,108.15 939.75,111.4 940,114.93 939.86,117.66 939.86,120.67 939.97,123.91 939.96,126.91 940,130 940.22,133.18 940.15,135.78 940.92,140.06 940.91,142.78 941.1,145.9 941.11,142.4 941.52,139.72 941.56,136.28 941.65,132.96 941.94,130.03 942.26,127.15 942.15,123.4 942.2,120 942.7,117.28 943.04,114.25 942.83,110.09 943.16,107.04 943.5,104 943.99,101.16 943.99,97.34 944.58,94.69 945,91.7 945.69,88.97 946.16,85.78 946.59,82.52 946.72,78.66 947.85,76.82 948,73 948.78,69.97 949.52,66.83 950.17,63.55 950.54,59.69 951.5,57 952.45,53.57 953.65,50.64 955,48 957.02,45.81 958.34,42.22 960.2,39.7 963,36 965.6,34 965.6,37.04 965.63,40.15 965.79,43.5 965.81,46.59 965.81,49.64 965.61,52.29 965.36,54.84 965.89,58.94 965.94,62.08 966.12,65.48 965.95,68.19 965.91,71.15 966.09,74.57 965.83,77.09 965.94,80.35 965.98,83.48 966.21,86.98 966.2,90 966.54,93.75 966.38,96.48 966.47,99.72 966.36,102.57 966.4,105.71 966.32,108.62 966.38,111.79 966.09,114.27 966.3,117.76 966.32,120.86 966.67,124.63 966.67,127.7 966.78,130.97 966.87,134.22 966.62,136.78 966.7,140 966.97,143.57 967.22,147.09 967.04,149.75 967.31,153.33 967.24,156.2 967.13,159.02 967.51,162.79 967.6,166 968.04,169.15 968.75,172.83 969.3,176.2 969.66,172.51 970.2,169.2 970.25,164.91 971,162 971.86,159.13 972.3,155.41 972.6,151.39 973.2,148 973.7,144.39 974.47,141.33 975.2,138.2 975.8,134.79 976.43,131.45 977,128 977.52,124.24 978.46,121.33 979.65,118.9 980.3,115.41 980.86,111.71 981.9,109 982.8,105.74 983.75,102.57 985,100 985.51,96.36 986.51,93.69 987,90 987.97,86.6 989.17,83.67 990,80 991.23,76.72 992.17,72.88 993.6,70 996,66 996.9,62.8 998.35,60.7 999,57 1002,52 1003.73,48.87 1005.7,46.2 1007.69,43.03 1010,40.5 1014,36.5 1017.8,34.2 1022,33.6 1022.21,36.99 1022.06,39.66 1022.07,42.65 1022.31,46.12 1021.84,48.15 1022.2,51.84 1022,54.41 1021.97,57.32 1022.08,60.51 1022.4,64.13 1022.23,66.76 1021.99,69.26 1022.13,72.5 1022.55,76.32 1022.5,79.19 1022.2,81.56 1022.76,85.65 1022.35,87.81 1022.25,90.58 1022.43,93.92 1022.62,97.27 1022.5,100 1022.77,103.54 1022.7,106.4 1022.5,109 1022.5,112 1022.39,114.77 1022.62,118.24 1022.56,121.12 1022.71,124.42 1022.5,127 1022.64,130.28 1022.6,133.21 1022.58,136.15 1022.6,139.2 1022.65,142.3 1022.64,145.29 1022.94,148.87 1022.88,151.77 1022.69,154.38 1022.99,157.98 1022.98,160.96 1023.18,164.36 1022.95,166.9 1023,170 1023.09,172.94 1023.14,175.79 1023.39,179.04 1023.58,182.15 1023.65,185.05 1023.71,187.92 1023.96,191.17 1024,194 1024.41,197.36 1024.84,200.74 1025.2,204 1026.5,209.6 1027.02,205.45 1027.87,201.93 1028.5,198 1028.88,194.43 1029.44,191.21 1030.12,188.25 1030.96,185.58 1031.32,181.97 1031.7,178.4 1032.42,175 1033.11,171.55 1034,168.5 1034.78,165.22 1035.47,161.77 1036,158 1036.69,154.91 1037.47,151.99 1038.12,148.8 1038.85,145.78 1039.48,142.57 1040.3,139.72 1040.73,136.11 1041.59,133.37 1042.5,130.7 1043.67,127.89 1044.56,124.54 1045.88,122.05 1046.7,118.54 1048,116 1049.27,112.51 1050.71,109.37 1051.82,105.56 1053.3,102.5 1054.87,99.16 1057.03,97.01 1058.22,92.92 1060,90 1061.49,86.96 1063.11,84.17 1064.81,81.54 1066.4,78.7 1068.05,76.14 1069.85,73.9 1071.47,71.29 1073,68.5 1075.07,65.28 1077.21,62.19 1079.4,59.2 1083,57 1086,52 1090.2,48.3 1092.88,44.72 1096,42 1098.17,39.04 1100.69,36.77 1103.2,34.5 1105,33.6 1108.09,33.6 1111.18,33.6 1114.27,33.6 1117.36,33.6 1120.45,33.6 1123.55,33.6 1126.64,33.6 1129.73,33.6 1132.82,33.6 1135.91,33.6 1139,33.6" fill="none" stroke="#1c28d6" stroke-width="1.45" stroke-linejoin="round" stroke-linecap="round"/>
<polyline points="1083.7,157.6 1083.7,185.4 1101,185.4" fill="none" stroke="#222" stroke-width="1.25" />
<text x="1064.9" y="153.33" font-size="12.11" font-weight="bold" textLength="39.7" lengthAdjust="spacingAndGlyphs" >500 nA</text>
<text x="1101.9" y="190" font-size="12.02" font-weight="bold" textLength="31.4" lengthAdjust="spacingAndGlyphs" >1 min</text>
<rect x="886.8" y="268.6" width="160.6" height="219.4" fill="none" stroke="#333" stroke-width="1.2" />
<text x="867" y="294.6" font-size="19.2" >E</text>
<text x="896.5" y="283.4" font-size="12" font-weight="bold" text-anchor="middle" textLength="9.6" lengthAdjust="spacingAndGlyphs" stroke="#000" stroke-width="0.1" >-7</text>
<text x="908.5" y="283.4" font-size="12" font-weight="bold" text-anchor="middle" textLength="9.6" lengthAdjust="spacingAndGlyphs" stroke="#000" stroke-width="0.1" >-6</text>
<text x="922.8" y="283.4" font-size="12" font-weight="bold" text-anchor="middle" textLength="9.6" lengthAdjust="spacingAndGlyphs" stroke="#000" stroke-width="0.1" >-5</text>
<text x="944.8" y="283.4" font-size="12" font-weight="bold" text-anchor="middle" textLength="9.6" lengthAdjust="spacingAndGlyphs" stroke="#000" stroke-width="0.1" >-4</text>
<text x="972.6" y="283.4" font-size="12" font-weight="bold" text-anchor="middle" textLength="9.6" lengthAdjust="spacingAndGlyphs" stroke="#000" stroke-width="0.1" >-3</text>
<polyline points="887.2,287.5 890.7,287.5 894.2,287.5 895.2,292 896,295.6 898.2,295.9 899.4,292.5 901.7,289.6 904,288.6 907.2,288.3 907.47,292.6 907.8,297 908.25,300.6 908.6,304 909.4,305.2 910.2,300 910.58,295.95 911,292 911.8,288.6 915.9,288.3 915.97,291.58 916.01,294.79 916.18,298.28 916.41,301.88 916.4,305 916.56,308.48 916.74,312.01 916.78,315.25 916.92,318.68 917,322 917.47,326.14 917.9,330.2 918.03,326.47 918.59,323.57 918.8,320 919.2,316.85 919.5,313.5 920.18,310.3 920.6,306.56 921.4,303.6 922.73,299.8 924.4,296.7 926.76,293.57 929.3,290.8 932.2,289.06 935.2,287.5 940.1,285.6 940.6,285.6 940.66,288.93 940.66,292.12 940.75,295.5 940.67,298.54 940.8,302 940.84,305.28 940.77,308.33 941.04,312.08 940.9,315 941.02,318.24 941.14,321.49 941.03,324.25 941.08,327.35 941.18,330.56 941.26,333.73 941.4,337 941.4,340 941.62,343.05 941.76,345.91 941.9,348.81 942.2,352 942.51,355.46 943.06,359.38 943.3,362.7 943.67,358.69 944.2,355 944.49,351.72 944.78,348.42 945,345 945.13,341.54 945.56,338.69 945.97,335.78 945.92,331.96 946.4,329.2 946.69,326 947.03,322.9 947.28,319.62 947.73,316.74 948,313.5 948.66,310.19 949.19,306.61 950,303.6 951,299.7 952.3,299.7 952.9,294.8 953.98,292.02 954.9,288.9 956.9,285.9 959.8,284.9 965.5,284.9 965.59,288.04 965.65,291.1 965.72,294.21 965.64,297 965.65,299.96 965.53,302.68 965.75,306.07 965.65,308.83 965.69,311.87 965.64,314.71 965.7,317.78 965.77,320.87 965.98,324.24 965.67,326.59 965.9,330 965.78,332.75 965.97,336.13 966.11,339.42 966.04,342.29 965.82,344.84 965.78,347.76 966.09,351.38 966,354.2 965.98,357.17 966.22,360.63 966.25,363.7 966.18,366.55 966.21,369.61 966.25,372.7 966.39,375.97 966.31,378.82 966.32,381.84 966.35,384.89 966.16,387.51 966.46,391.13 966.45,394.1 966.43,397.06 966.4,400 966.24,402.68 966.41,406.03 966.6,409.4 966.37,411.95 966.57,415.35 966.73,418.67 966.54,421.28 966.87,424.94 966.8,427.8 966.77,430.74 966.86,433.91 966.93,437.05 966.9,440 966.98,443.14 967.15,446.45 967.03,449.2 967.13,452.36 967.34,455.76 967.3,458.67 967.28,461.6 967.53,465.08 967.5,468 967.88,471.63 967.92,474.58 968.2,478 969.1,482.2 969.51,477.82 970.2,474 970.59,470.72 970.99,467.47 971.37,464.19 971.94,461.28 972.1,457.54 972.6,454.5 973.15,451.54 973.33,447.82 973.81,444.7 974.38,441.77 974.86,438.65 975.26,435.39 975.6,432 976.13,429.09 976.61,426.08 977.12,423.11 977.66,420.22 978.08,417.09 978.63,414.21 979.16,411.29 979.6,408.2 980.23,405.03 980.93,402.01 981.54,398.8 982.32,395.92 982.78,392.41 983.33,389.09 984,386 984.76,382.68 985.6,379.5 986.49,376.43 987.17,372.93 988.04,369.83 988.8,366.5 990.02,363.57 990.62,359.39 991.81,356.38 992.98,353.35 994,350 995.32,346.9 996.58,343.69 997.8,340.37 999.19,337.41 1000.4,334.1 1001.75,331.34 1002.99,328.36 1004.6,326.13 1005.72,322.89 1007,320 1008.77,317.04 1010.64,314.28 1012.45,311.4 1014.3,308.6 1016.53,305.59 1018.49,302.05 1021,299.6 1023.35,297.1 1025.9,295 1028.2,292.4 1030.48,289.97 1033,288 1036.6,285.7 1040.07,285.7 1043.53,285.7 1047,285.7" fill="none" stroke="#1c28d6" stroke-width="1.45" stroke-linejoin="round" stroke-linecap="round"/>
<polyline points="910.5,384.5 910.5,418 928.6,418" fill="none" stroke="#222" stroke-width="1.25" />
<text x="890.2" y="381.77" font-size="12.2" font-weight="bold" textLength="40" lengthAdjust="spacingAndGlyphs" >500 nA</text>
<text x="929.8" y="422.58" font-size="11.95" font-weight="bold" textLength="31.2" lengthAdjust="spacingAndGlyphs" >1 min</text>
<rect x="1051.1" y="347.4" width="102.6" height="140.6" fill="none" stroke="#333" stroke-width="1.2" />
<text x="1089" y="339.8" font-size="19" >F</text>
<text x="1057.8" y="362.44" font-size="12.4" font-weight="bold" text-anchor="middle" textLength="10.69" lengthAdjust="spacingAndGlyphs" stroke="#000" stroke-width="0.1" >-7</text>
<text x="1074.1" y="362.44" font-size="12.4" font-weight="bold" text-anchor="middle" textLength="10.69" lengthAdjust="spacingAndGlyphs" stroke="#000" stroke-width="0.1" >-6</text>
<text x="1087.7" y="362.44" font-size="12.4" font-weight="bold" text-anchor="middle" textLength="10.69" lengthAdjust="spacingAndGlyphs" stroke="#000" stroke-width="0.1" >-5</text>
<text x="1105.4" y="362.44" font-size="12.4" font-weight="bold" text-anchor="middle" textLength="10.69" lengthAdjust="spacingAndGlyphs" stroke="#000" stroke-width="0.1" >-4</text>
<text x="1126.1" y="361.14" font-size="12.4" font-weight="bold" text-anchor="middle" textLength="10.69" lengthAdjust="spacingAndGlyphs" stroke="#000" stroke-width="0.1" >-3</text>
<polyline points="1051.6,368.3 1054.6,368.35 1057.6,368.4 1058.8,371 1060,373.4 1061.6,371.6 1063.5,370.4 1065.9,369.8 1069.8,369.2 1070.8,373 1071.7,375.9 1073,373 1075,370.6 1079.7,369 1083.6,368.8 1084.01,372.71 1084.6,377 1085.9,382.8 1087.4,378 1089.5,373.6 1092,371 1095.2,369.8 1099,368.8 1102.6,368.6 1102.82,371.92 1103.13,375.42 1103.35,378.75 1103.52,381.96 1103.6,385 1103.8,388.13 1104.03,391.32 1104.18,394.33 1104.27,397.24 1104.55,400.53 1104.89,403.94 1105.02,406.92 1105.2,410 1105.57,412.98 1105.89,415.87 1106.39,419.1 1106.74,422.04 1107.2,425.2 1108.8,420 1109.25,417.01 1109.75,414.1 1109.92,410.55 1110.6,408 1111.17,404.82 1111.62,401.38 1112.26,398.31 1112.81,395.09 1113.63,392.39 1114.1,389 1115.13,385.47 1116.08,381.77 1117,378 1118.43,374.15 1120,370.6 1123,368.6 1126.8,368.4 1126.77,371.2 1126.99,374.5 1127.16,377.7 1127.25,380.73 1127.44,383.97 1127.45,386.84 1127.6,390 1127.9,393.43 1127.91,396.28 1128.17,399.63 1128.12,402.36 1128.19,405.34 1128.25,408.29 1128.54,411.7 1128.69,414.82 1128.72,417.72 1128.87,420.85 1128.93,423.79 1129.04,426.84 1129.2,430 1129.3,433.12 1129.27,435.99 1129.48,439.34 1129.71,442.73 1129.85,445.93 1130.07,449.31 1130.15,452.4 1130.26,455.54 1130.35,458.65 1130.25,461.37 1130.6,465 1130.85,468.14 1131.01,471.09 1131.4,474.5 1131.57,477.48 1131.82,480.6 1132.1,483.8 1132.27,480.24 1132.52,476.84 1132.58,473.06 1133,470 1132.96,466.57 1133.36,464.03 1133.4,460.76 1133.44,457.48 1133.56,454.4 1133.68,451.29 1134.16,448.9 1134.01,445.25 1134.08,442.04 1134.13,438.8 1134.08,435.35 1134.45,432.74 1134.7,429.89 1134.77,426.69 1134.8,423.4 1135.27,420.37 1135.62,417.12 1136,413.92 1136.57,411.09 1137,408 1137.74,404.75 1138.45,401.44 1139.51,398.83 1140.04,395.14 1140.86,392.06 1141.7,389 1142.89,384.86 1144.74,382 1146,378 1148.13,374.82 1150.3,371.7 1153.4,368.4" fill="none" stroke="#d42f18" stroke-width="1.3" stroke-linejoin="round" stroke-linecap="round"/>
<polyline points="1072.5,425.5 1072.5,452.4 1089.2,452.4" fill="none" stroke="#222" stroke-width="1.25" />
<text x="1053.5" y="421.93" font-size="12.11" font-weight="bold" textLength="39.7" lengthAdjust="spacingAndGlyphs" >500 nA</text>
<text x="1090.7" y="456.85" font-size="11.6" font-weight="bold" textLength="30.3" lengthAdjust="spacingAndGlyphs" >1 min</text>
<text x="1173.2" y="24" font-size="19.5" >C</text>
<text x="1210.3" y="18.09" font-size="9.2" font-weight="bold" textLength="95" lengthAdjust="spacingAndGlyphs" stroke="#000" stroke-width="0.1" >AcorOR18•AcorOrco</text>
<line x1="1194.3" y1="31.5" x2="1194.3" y2="198.7" stroke="#000" stroke-width="1.3" />
<line x1="1193.7" y1="198.1" x2="1321" y2="198.1" stroke="#000" stroke-width="1.3" />
<line x1="1190.5" y1="198.1" x2="1194.3" y2="198.1" stroke="#000" stroke-width="1.1" />
<text x="1188.7" y="200.53" font-size="6.8" font-weight="bold" text-anchor="end" textLength="3.93" lengthAdjust="spacingAndGlyphs" stroke="#000" stroke-width="0.15" >0</text>
<line x1="1192.1" y1="186.5" x2="1194.3" y2="186.5" stroke="#000" stroke-width="1" />
<line x1="1190.5" y1="174.9" x2="1194.3" y2="174.9" stroke="#000" stroke-width="1.1" />
<text x="1188.7" y="177.33" font-size="6.8" font-weight="bold" text-anchor="end" textLength="11.8" lengthAdjust="spacingAndGlyphs" stroke="#000" stroke-width="0.15" >500</text>
<line x1="1192.1" y1="163.3" x2="1194.3" y2="163.3" stroke="#000" stroke-width="1" />
<line x1="1190.5" y1="151.7" x2="1194.3" y2="151.7" stroke="#000" stroke-width="1.1" />
<text x="1188.7" y="154.13" font-size="6.8" font-weight="bold" text-anchor="end" textLength="15.73" lengthAdjust="spacingAndGlyphs" stroke="#000" stroke-width="0.15" >1000</text>
<line x1="1192.1" y1="140.1" x2="1194.3" y2="140.1" stroke="#000" stroke-width="1" />
<line x1="1190.5" y1="128.5" x2="1194.3" y2="128.5" stroke="#000" stroke-width="1.1" />
<text x="1188.7" y="130.93" font-size="6.8" font-weight="bold" text-anchor="end" textLength="15.73" lengthAdjust="spacingAndGlyphs" stroke="#000" stroke-width="0.15" >1500</text>
<line x1="1192.1" y1="116.9" x2="1194.3" y2="116.9" stroke="#000" stroke-width="1" />
<line x1="1190.5" y1="105.3" x2="1194.3" y2="105.3" stroke="#000" stroke-width="1.1" />
<text x="1188.7" y="107.73" font-size="6.8" font-weight="bold" text-anchor="end" textLength="15.73" lengthAdjust="spacingAndGlyphs" stroke="#000" stroke-width="0.15" >2000</text>
<line x1="1192.1" y1="93.7" x2="1194.3" y2="93.7" stroke="#000" stroke-width="1" />
<line x1="1190.5" y1="82.1" x2="1194.3" y2="82.1" stroke="#000" stroke-width="1.1" />
<text x="1188.7" y="84.53" font-size="6.8" font-weight="bold" text-anchor="end" textLength="15.73" lengthAdjust="spacingAndGlyphs" stroke="#000" stroke-width="0.15" >2500</text>
<line x1="1192.1" y1="70.5" x2="1194.3" y2="70.5" stroke="#000" stroke-width="1" />
<line x1="1190.5" y1="58.9" x2="1194.3" y2="58.9" stroke="#000" stroke-width="1.1" />
<text x="1188.7" y="61.33" font-size="6.8" font-weight="bold" text-anchor="end" textLength="15.73" lengthAdjust="spacingAndGlyphs" stroke="#000" stroke-width="0.15" >3000</text>
<line x1="1192.1" y1="47.3" x2="1194.3" y2="47.3" stroke="#000" stroke-width="1" />
<line x1="1190.5" y1="35.7" x2="1194.3" y2="35.7" stroke="#000" stroke-width="1.1" />
<text x="1188.7" y="38.13" font-size="6.8" font-weight="bold" text-anchor="end" textLength="15.73" lengthAdjust="spacingAndGlyphs" stroke="#000" stroke-width="0.15" >3500</text>
<line x1="1206.6" y1="198.1" x2="1206.6" y2="201.5" stroke="#000" stroke-width="1.1" />
<text x="1206" y="211.21" font-size="7" font-weight="bold" text-anchor="middle" stroke="#000" stroke-width="0.15" >-7</text>
<line x1="1232.05" y1="198.1" x2="1232.05" y2="201.5" stroke="#000" stroke-width="1.1" />
<text x="1231.45" y="211.21" font-size="7" font-weight="bold" text-anchor="middle" stroke="#000" stroke-width="0.15" >-6</text>
<line x1="1257.5" y1="198.1" x2="1257.5" y2="201.5" stroke="#000" stroke-width="1.1" />
<text x="1256.9" y="211.21" font-size="7" font-weight="bold" text-anchor="middle" stroke="#000" stroke-width="0.15" >-5</text>
<line x1="1282.95" y1="198.1" x2="1282.95" y2="201.5" stroke="#000" stroke-width="1.1" />
<text x="1282.35" y="211.21" font-size="7" font-weight="bold" text-anchor="middle" stroke="#000" stroke-width="0.15" >-4</text>
<line x1="1308.4" y1="198.1" x2="1308.4" y2="201.5" stroke="#000" stroke-width="1.1" />
<text x="1307.8" y="211.21" font-size="7" font-weight="bold" text-anchor="middle" stroke="#000" stroke-width="0.15" >-3</text>
<text x="1257.7" y="222.74" font-size="8.2" font-weight="bold" text-anchor="middle" textLength="53" lengthAdjust="spacingAndGlyphs" stroke="#000" stroke-width="0.1" >log [Odorant]</text>
<text font-size="8" font-weight="bold" text-anchor="middle" textLength="103.5" lengthAdjust="spacingAndGlyphs" stroke="#000" stroke-width="0.1" transform="translate(1166.6 113.2) rotate(-90)" >Current (nA, Mean ± SEM)</text>
<polyline points="1206.6,192.28 1207.87,191.93 1209.14,191.54 1210.42,191.12 1211.69,190.66 1212.96,190.15 1214.23,189.6 1215.51,188.99 1216.78,188.33 1218.05,187.61 1219.32,186.82 1220.6,185.96 1221.87,185.02 1223.14,184 1224.41,182.9 1225.69,181.7 1226.96,180.4 1228.23,179 1229.5,177.49 1230.78,175.86 1232.05,174.11 1233.32,172.24 1234.59,170.24 1235.87,168.11 1237.14,165.84 1238.41,163.43 1239.68,160.89 1240.96,158.22 1242.23,155.41 1243.5,152.48 1244.77,149.42 1246.05,146.25 1247.32,142.98 1248.59,139.61 1249.86,136.17 1251.14,132.66 1252.41,129.1 1253.68,125.5 1254.95,121.89 1256.23,118.28 1257.5,114.68 1258.77,111.12 1260.04,107.61 1261.32,104.16 1262.59,100.8 1263.86,97.52 1265.13,94.36 1266.41,91.3 1267.68,88.37 1268.95,85.56 1270.22,82.88 1271.5,80.34 1272.77,77.94 1274.04,75.67 1275.31,73.54 1276.59,71.53 1277.86,69.66 1279.13,67.91 1280.4,66.29 1281.68,64.78 1282.95,63.37 1284.22,62.08 1285.49,60.88 1286.77,59.77 1288.04,58.76 1289.31,57.82 1290.58,56.96 1291.86,56.17 1293.13,55.45 1294.4,54.78 1295.67,54.18 1296.95,53.62 1298.22,53.12 1299.49,52.65 1300.76,52.23 1302.04,51.85 1303.31,51.5 1304.58,51.18 1305.85,50.89 1307.13,50.62 1308.4,50.38" fill="none" stroke="#2b3ce6" stroke-width="1.3" stroke-linejoin="round"/>
<path d="M1206.6 195.55 C1208.64 195.5 1215.25 195.36 1219.32 195.22 C1223.4 195.08 1227.98 194.93 1232.05 194.67 C1236.12 194.41 1240.7 194 1244.77 193.6 C1248.85 193.2 1253.43 192.65 1257.5 192.16 C1261.57 191.67 1266.15 191.18 1270.22 190.54 C1274.3 189.89 1278.88 189.27 1282.95 188.12 C1287.02 186.97 1291.6 185.39 1295.67 183.34 C1299.75 181.3 1306.36 176.64 1308.4 175.36" fill="none" stroke="#d9341a" stroke-width="1.3" />
<line x1="1206.6" y1="186.96" x2="1206.6" y2="190.68" stroke="#2b3ce6" stroke-width="0.9" />
<line x1="1203.2" y1="186.96" x2="1210" y2="186.96" stroke="#2b3ce6" stroke-width="0.9" />
<line x1="1203.2" y1="190.68" x2="1210" y2="190.68" stroke="#2b3ce6" stroke-width="0.9" />
<circle cx="1206.6" cy="188.82" r="3" fill="#2b3ce6" stroke="none" stroke-width="1"/>
<line x1="1232.05" y1="177.22" x2="1232.05" y2="182.79" stroke="#2b3ce6" stroke-width="0.9" />
<line x1="1228.65" y1="177.22" x2="1235.45" y2="177.22" stroke="#2b3ce6" stroke-width="0.9" />
<line x1="1228.65" y1="182.79" x2="1235.45" y2="182.79" stroke="#2b3ce6" stroke-width="0.9" />
<circle cx="1232.05" cy="180" r="3" fill="#2b3ce6" stroke="none" stroke-width="1"/>
<line x1="1257.5" y1="100.89" x2="1257.5" y2="112.49" stroke="#2b3ce6" stroke-width="0.9" />
<line x1="1254.1" y1="100.89" x2="1260.9" y2="100.89" stroke="#2b3ce6" stroke-width="0.9" />
<line x1="1254.1" y1="112.49" x2="1260.9" y2="112.49" stroke="#2b3ce6" stroke-width="0.9" />
<circle cx="1257.5" cy="106.69" r="3" fill="#2b3ce6" stroke="none" stroke-width="1"/>
<line x1="1282.95" y1="67.72" x2="1282.95" y2="79.78" stroke="#2b3ce6" stroke-width="0.9" />
<line x1="1279.55" y1="67.72" x2="1286.35" y2="67.72" stroke="#2b3ce6" stroke-width="0.9" />
<line x1="1279.55" y1="79.78" x2="1286.35" y2="79.78" stroke="#2b3ce6" stroke-width="0.9" />
<circle cx="1282.95" cy="73.75" r="3" fill="#2b3ce6" stroke="none" stroke-width="1"/>
<line x1="1308.4" y1="36.3" x2="1308.4" y2="52.08" stroke="#2b3ce6" stroke-width="0.9" />
<line x1="1305" y1="36.3" x2="1311.8" y2="36.3" stroke="#2b3ce6" stroke-width="0.9" />
<line x1="1305" y1="52.08" x2="1311.8" y2="52.08" stroke="#2b3ce6" stroke-width="0.9" />
<circle cx="1308.4" cy="44.19" r="3" fill="#2b3ce6" stroke="none" stroke-width="1"/>
<rect x="1204" y="192.95" width="5.2" height="5.2" fill="#d9341a" stroke="none" stroke-width="1" />
<rect x="1229.45" y="192.25" width="5.2" height="5.2" fill="#d9341a" stroke="none" stroke-width="1" />
<rect x="1254.9" y="189.47" width="5.2" height="5.2" fill="#d9341a" stroke="none" stroke-width="1" />
<rect x="1280.35" y="185.76" width="5.2" height="5.2" fill="#d9341a" stroke="none" stroke-width="1" />
<rect x="1305.8" y="172.76" width="5.2" height="5.2" fill="#d9341a" stroke="none" stroke-width="1" />
<line x1="1303.6" y1="62.8" x2="1312.6" y2="62.8" stroke="#2b3ce6" stroke-width="1" />
<circle cx="1308.1" cy="62.8" r="2.9" fill="#2b3ce6" stroke="none" stroke-width="1"/>
<text x="1317.4" y="65.61" font-size="7.86" fill="#2b3ce6" textLength="49.8" lengthAdjust="spacingAndGlyphs" stroke="#2b3ce6" stroke-width="0.2" >(R)-Japonilure</text>
<line x1="1303.6" y1="160.7" x2="1312.6" y2="160.7" stroke="#d9341a" stroke-width="1" />
<rect x="1305.5" y="158.1" width="5.2" height="5.2" fill="#d9341a" stroke="none" stroke-width="1" />
<text x="1317.4" y="163.54" font-size="7.93" fill="#d9341a" textLength="49.8" lengthAdjust="spacingAndGlyphs" stroke="#d9341a" stroke-width="0.2" >(S)-Japonilure</text>
<text x="1169.2" y="294.7" font-size="19.5" >G</text>
<text x="1210.3" y="292.99" font-size="9.2" font-weight="bold" textLength="95" lengthAdjust="spacingAndGlyphs" stroke="#000" stroke-width="0.1" >AcorOR29•AcorOrco</text>
<line x1="1194.3" y1="305.6" x2="1194.3" y2="474.7" stroke="#000" stroke-width="1.3" />
<line x1="1193.7" y1="474.1" x2="1321" y2="474.1" stroke="#000" stroke-width="1.3" />
<line x1="1190.5" y1="474.1" x2="1194.3" y2="474.1" stroke="#000" stroke-width="1.1" />
<text x="1188.7" y="476.32" font-size="6.2" font-weight="bold" text-anchor="end" textLength="3.93" lengthAdjust="spacingAndGlyphs" stroke="#000" stroke-width="0.15" >0</text>
<line x1="1192.1" y1="462.12" x2="1194.3" y2="462.12" stroke="#000" stroke-width="1" />
<line x1="1190.5" y1="450.14" x2="1194.3" y2="450.14" stroke="#000" stroke-width="1.1" />
<text x="1188.7" y="452.36" font-size="6.2" font-weight="bold" text-anchor="end" textLength="11.8" lengthAdjust="spacingAndGlyphs" stroke="#000" stroke-width="0.15" >500</text>
<line x1="1192.1" y1="438.16" x2="1194.3" y2="438.16" stroke="#000" stroke-width="1" />
<line x1="1190.5" y1="426.18" x2="1194.3" y2="426.18" stroke="#000" stroke-width="1.1" />
<text x="1188.7" y="428.4" font-size="6.2" font-weight="bold" text-anchor="end" textLength="15.73" lengthAdjust="spacingAndGlyphs" stroke="#000" stroke-width="0.15" >1000</text>
<line x1="1192.1" y1="414.2" x2="1194.3" y2="414.2" stroke="#000" stroke-width="1" />
<line x1="1190.5" y1="402.22" x2="1194.3" y2="402.22" stroke="#000" stroke-width="1.1" />
<text x="1188.7" y="404.44" font-size="6.2" font-weight="bold" text-anchor="end" textLength="15.73" lengthAdjust="spacingAndGlyphs" stroke="#000" stroke-width="0.15" >1500</text>
<line x1="1192.1" y1="390.24" x2="1194.3" y2="390.24" stroke="#000" stroke-width="1" />
<line x1="1190.5" y1="378.26" x2="1194.3" y2="378.26" stroke="#000" stroke-width="1.1" />
<text x="1188.7" y="380.48" font-size="6.2" font-weight="bold" text-anchor="end" textLength="15.73" lengthAdjust="spacingAndGlyphs" stroke="#000" stroke-width="0.15" >2000</text>
<line x1="1192.1" y1="366.28" x2="1194.3" y2="366.28" stroke="#000" stroke-width="1" />
<line x1="1190.5" y1="354.3" x2="1194.3" y2="354.3" stroke="#000" stroke-width="1.1" />
<text x="1188.7" y="356.52" font-size="6.2" font-weight="bold" text-anchor="end" textLength="15.73" lengthAdjust="spacingAndGlyphs" stroke="#000" stroke-width="0.15" >2500</text>
<line x1="1192.1" y1="342.32" x2="1194.3" y2="342.32" stroke="#000" stroke-width="1" />
<line x1="1190.5" y1="330.34" x2="1194.3" y2="330.34" stroke="#000" stroke-width="1.1" />
<text x="1188.7" y="332.56" font-size="6.2" font-weight="bold" text-anchor="end" textLength="15.73" lengthAdjust="spacingAndGlyphs" stroke="#000" stroke-width="0.15" >3000</text>
<line x1="1192.1" y1="318.36" x2="1194.3" y2="318.36" stroke="#000" stroke-width="1" />
<line x1="1190.5" y1="306.38" x2="1194.3" y2="306.38" stroke="#000" stroke-width="1.1" />
<text x="1188.7" y="308.6" font-size="6.2" font-weight="bold" text-anchor="end" textLength="15.73" lengthAdjust="spacingAndGlyphs" stroke="#000" stroke-width="0.15" >3500</text>
<line x1="1206.6" y1="474.1" x2="1206.6" y2="477.5" stroke="#000" stroke-width="1.1" />
<text x="1206" y="486.41" font-size="7" font-weight="bold" text-anchor="middle" stroke="#000" stroke-width="0.15" >-7</text>
<line x1="1232.05" y1="474.1" x2="1232.05" y2="477.5" stroke="#000" stroke-width="1.1" />
<text x="1231.45" y="486.41" font-size="7" font-weight="bold" text-anchor="middle" stroke="#000" stroke-width="0.15" >-6</text>
<line x1="1257.5" y1="474.1" x2="1257.5" y2="477.5" stroke="#000" stroke-width="1.1" />
<text x="1256.9" y="486.41" font-size="7" font-weight="bold" text-anchor="middle" stroke="#000" stroke-width="0.15" >-5</text>
<line x1="1282.95" y1="474.1" x2="1282.95" y2="477.5" stroke="#000" stroke-width="1.1" />
<text x="1282.35" y="486.41" font-size="7" font-weight="bold" text-anchor="middle" stroke="#000" stroke-width="0.15" >-4</text>
<line x1="1308.4" y1="474.1" x2="1308.4" y2="477.5" stroke="#000" stroke-width="1.1" />
<text x="1307.8" y="486.41" font-size="7" font-weight="bold" text-anchor="middle" stroke="#000" stroke-width="0.15" >-3</text>
<text x="1257.7" y="498.74" font-size="8.2" font-weight="bold" text-anchor="middle" textLength="53" lengthAdjust="spacingAndGlyphs" stroke="#000" stroke-width="0.1" >log [Odorant]</text>
<text font-size="8" font-weight="bold" text-anchor="middle" textLength="102.5" lengthAdjust="spacingAndGlyphs" stroke="#000" stroke-width="0.1" transform="translate(1166.6 389.4) rotate(-90)" >Current (nA, Mean ± SEM)</text>
<polyline points="1206.6,458 1207.87,457.99 1209.14,457.98 1210.42,457.98 1211.69,457.97 1212.96,457.96 1214.23,457.95 1215.51,457.93 1216.78,457.92 1218.05,457.9 1219.32,457.88 1220.6,457.86 1221.87,457.84 1223.14,457.81 1224.41,457.79 1225.69,457.75 1226.96,457.72 1228.23,457.67 1229.5,457.63 1230.78,457.57 1232.05,457.51 1233.32,457.45 1234.59,457.37 1235.87,457.29 1237.14,457.19 1238.41,457.09 1239.68,456.97 1240.96,456.83 1242.23,456.68 1243.5,456.51 1244.77,456.32 1246.05,456.1 1247.32,455.86 1248.59,455.59 1249.86,455.28 1251.14,454.94 1252.41,454.56 1253.68,454.13 1254.95,453.65 1256.23,453.11 1257.5,452.51 1258.77,451.84 1260.04,451.1 1261.32,450.26 1262.59,449.33 1263.86,448.3 1265.13,447.15 1266.41,445.88 1267.68,444.48 1268.95,442.92 1270.22,441.21 1271.5,439.33 1272.77,437.27 1274.04,435.02 1275.31,432.56 1276.59,429.9 1277.86,427.02 1279.13,423.91 1280.4,420.59 1281.68,417.03 1282.95,413.26 1284.22,409.28 1285.49,405.1 1286.77,400.73 1288.04,396.21 1289.31,391.54 1290.58,386.76 1291.86,381.9 1293.13,376.99 1294.4,372.07 1295.67,367.17 1296.95,362.33 1298.22,357.57 1299.49,352.93 1300.76,348.43 1302.04,344.1 1303.31,339.96 1304.58,336.02 1305.85,332.29 1307.13,328.78 1308.4,325.5" fill="none" stroke="#2b3ce6" stroke-width="1.3" stroke-linejoin="round"/>
<polyline points="1206.6,466.69 1207.87,466.67 1209.14,466.65 1210.42,466.62 1211.69,466.6 1212.96,466.57 1214.23,466.53 1215.51,466.5 1216.78,466.46 1218.05,466.41 1219.32,466.36 1220.6,466.31 1221.87,466.25 1223.14,466.19 1224.41,466.12 1225.69,466.04 1226.96,465.96 1228.23,465.87 1229.5,465.77 1230.78,465.66 1232.05,465.54 1233.32,465.4 1234.59,465.26 1235.87,465.1 1237.14,464.93 1238.41,464.74 1239.68,464.54 1240.96,464.31 1242.23,464.07 1243.5,463.8 1244.77,463.51 1246.05,463.2 1247.32,462.85 1248.59,462.48 1249.86,462.07 1251.14,461.62 1252.41,461.14 1253.68,460.62 1254.95,460.06 1256.23,459.45 1257.5,458.79 1258.77,458.08 1260.04,457.31 1261.32,456.49 1262.59,455.6 1263.86,454.66 1265.13,453.64 1266.41,452.56 1267.68,451.41 1268.95,450.19 1270.22,448.89 1271.5,447.52 1272.77,446.08 1274.04,444.56 1275.31,442.98 1276.59,441.32 1277.86,439.6 1279.13,437.82 1280.4,435.98 1281.68,434.08 1282.95,432.14 1284.22,430.16 1285.49,428.15 1286.77,426.12 1288.04,424.07 1289.31,422.01 1290.58,419.96 1291.86,417.91 1293.13,415.89 1294.4,413.9 1295.67,411.94 1296.95,410.02 1298.22,408.16 1299.49,406.35 1300.76,404.6 1302.04,402.91 1303.31,401.3 1304.58,399.75 1305.85,398.28 1307.13,396.87 1308.4,395.55" fill="none" stroke="#d9341a" stroke-width="1.3" stroke-linejoin="round"/>
<line x1="1206.6" y1="455.89" x2="1206.6" y2="461.64" stroke="#2b3ce6" stroke-width="0.9" />
<line x1="1203.2" y1="455.89" x2="1210" y2="455.89" stroke="#2b3ce6" stroke-width="0.9" />
<line x1="1203.2" y1="461.64" x2="1210" y2="461.64" stroke="#2b3ce6" stroke-width="0.9" />
<circle cx="1206.6" cy="458.77" r="3" fill="#2b3ce6" stroke="none" stroke-width="1"/>
<line x1="1232.05" y1="452.3" x2="1232.05" y2="459.01" stroke="#2b3ce6" stroke-width="0.9" />
<line x1="1228.65" y1="452.3" x2="1235.45" y2="452.3" stroke="#2b3ce6" stroke-width="0.9" />
<line x1="1228.65" y1="459.01" x2="1235.45" y2="459.01" stroke="#2b3ce6" stroke-width="0.9" />
<circle cx="1232.05" cy="455.65" r="3" fill="#2b3ce6" stroke="none" stroke-width="1"/>
<line x1="1257.5" y1="449.18" x2="1257.5" y2="454.45" stroke="#2b3ce6" stroke-width="0.9" />
<line x1="1254.1" y1="449.18" x2="1260.9" y2="449.18" stroke="#2b3ce6" stroke-width="0.9" />
<line x1="1254.1" y1="454.45" x2="1260.9" y2="454.45" stroke="#2b3ce6" stroke-width="0.9" />
<circle cx="1257.5" cy="451.82" r="3" fill="#2b3ce6" stroke="none" stroke-width="1"/>
<line x1="1282.95" y1="403.42" x2="1282.95" y2="421.15" stroke="#2b3ce6" stroke-width="0.9" />
<line x1="1279.55" y1="403.42" x2="1286.35" y2="403.42" stroke="#2b3ce6" stroke-width="0.9" />
<line x1="1279.55" y1="421.15" x2="1286.35" y2="421.15" stroke="#2b3ce6" stroke-width="0.9" />
<circle cx="1282.95" cy="412.28" r="3" fill="#2b3ce6" stroke="none" stroke-width="1"/>
<line x1="1308.4" y1="315.01" x2="1308.4" y2="334.17" stroke="#2b3ce6" stroke-width="0.9" />
<line x1="1305" y1="315.01" x2="1311.8" y2="315.01" stroke="#2b3ce6" stroke-width="0.9" />
<line x1="1305" y1="334.17" x2="1311.8" y2="334.17" stroke="#2b3ce6" stroke-width="0.9" />
<circle cx="1308.4" cy="324.59" r="3" fill="#2b3ce6" stroke="none" stroke-width="1"/>
<rect x="1204" y="464.31" width="5.2" height="5.2" fill="#d9341a" stroke="none" stroke-width="1" />
<rect x="1229.45" y="461.92" width="5.2" height="5.2" fill="#d9341a" stroke="none" stroke-width="1" />
<rect x="1254.9" y="456.17" width="5.2" height="5.2" fill="#d9341a" stroke="none" stroke-width="1" />
<line x1="1282.95" y1="428.82" x2="1282.95" y2="433.13" stroke="#d9341a" stroke-width="0.9" />
<line x1="1279.55" y1="428.82" x2="1286.35" y2="428.82" stroke="#d9341a" stroke-width="0.9" />
<line x1="1279.55" y1="433.13" x2="1286.35" y2="433.13" stroke="#d9341a" stroke-width="0.9" />
<rect x="1280.35" y="428.37" width="5.2" height="5.2" fill="#d9341a" stroke="none" stroke-width="1" />
<line x1="1308.4" y1="388.56" x2="1308.4" y2="401.5" stroke="#d9341a" stroke-width="0.9" />
<line x1="1305" y1="388.56" x2="1311.8" y2="388.56" stroke="#d9341a" stroke-width="0.9" />
<line x1="1305" y1="401.5" x2="1311.8" y2="401.5" stroke="#d9341a" stroke-width="0.9" />
<rect x="1305.8" y="392.43" width="5.2" height="5.2" fill="#d9341a" stroke="none" stroke-width="1" />
<line x1="1303.6" y1="346.3" x2="1312.6" y2="346.3" stroke="#2b3ce6" stroke-width="1" />
<circle cx="1308.1" cy="346.3" r="2.9" fill="#2b3ce6" stroke="none" stroke-width="1"/>
<text x="1317.4" y="349.11" font-size="7.86" fill="#2b3ce6" textLength="49.8" lengthAdjust="spacingAndGlyphs" stroke="#2b3ce6" stroke-width="0.2" >(R)-Japonilure</text>
<line x1="1303.6" y1="415" x2="1312.6" y2="415" stroke="#d9341a" stroke-width="1" />
<rect x="1305.5" y="412.4" width="5.2" height="5.2" fill="#d9341a" stroke="none" stroke-width="1" />
<text x="1317.4" y="417.84" font-size="7.93" fill="#d9341a" textLength="49.8" lengthAdjust="spacingAndGlyphs" stroke="#d9341a" stroke-width="0.2" >(S)-Japonilure</text>
</svg>
</body></html>
